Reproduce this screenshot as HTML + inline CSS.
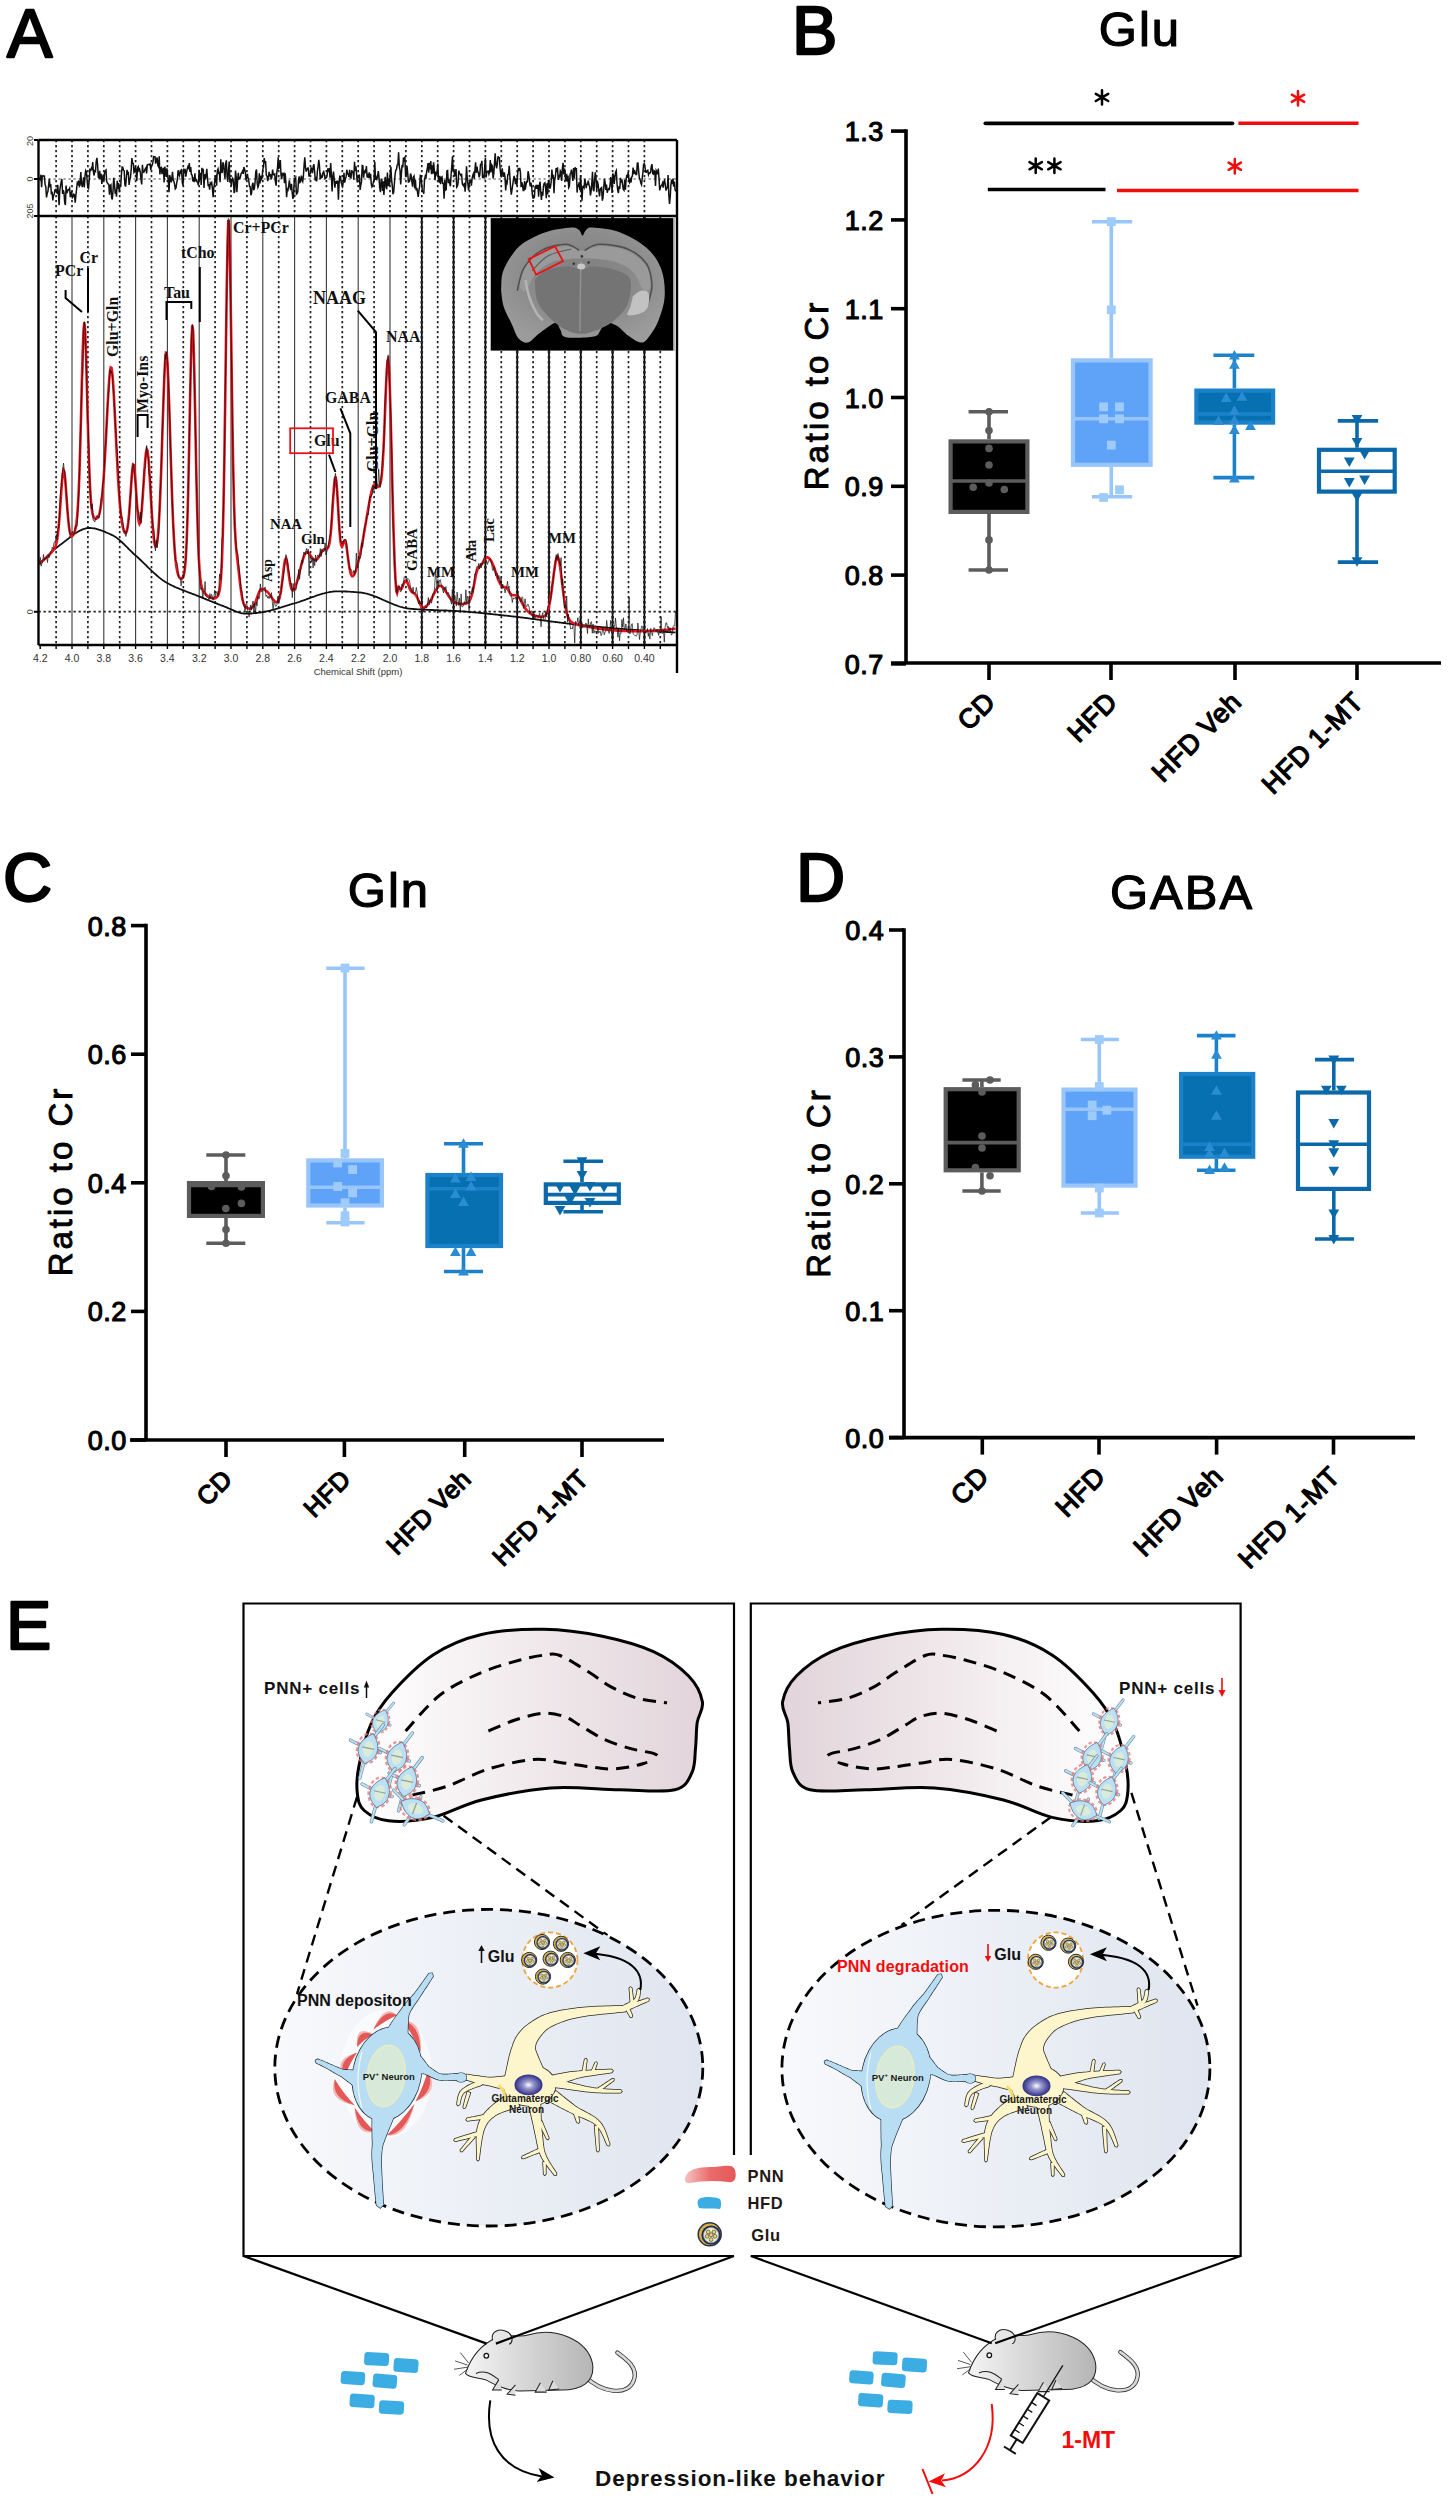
<!DOCTYPE html>
<html><head><meta charset="utf-8"><style>
html,body{margin:0;padding:0;background:#fff;}
body{width:1449px;height:2500px;overflow:hidden;}
svg{display:block;}
</style></head><body>
<svg width="1449" height="2500" viewBox="0 0 1449 2500">
<text x="7" y="56.5" font-size="68" style="font-family:'Liberation Sans',sans-serif;font-weight:normal;stroke:#000;stroke-width:2.3;stroke-linejoin:round">A</text>
<text x="792" y="54" font-size="68" style="font-family:'Liberation Sans',sans-serif;font-weight:normal;stroke:#000;stroke-width:2.3;stroke-linejoin:round">B</text>
<text x="3" y="901" font-size="68" style="font-family:'Liberation Sans',sans-serif;font-weight:normal;stroke:#000;stroke-width:2.3;stroke-linejoin:round">C</text>
<text x="796" y="901" font-size="68" style="font-family:'Liberation Sans',sans-serif;font-weight:normal;stroke:#000;stroke-width:2.3;stroke-linejoin:round">D</text>
<text x="6" y="1649" font-size="68" style="font-family:'Liberation Sans',sans-serif;font-weight:normal;stroke:#000;stroke-width:2.3;stroke-linejoin:round">E</text>
<line x1="906" y1="129.3" x2="906" y2="663" stroke="#000" stroke-width="3.6"/>
<line x1="891" y1="663" x2="1441" y2="663" stroke="#000" stroke-width="3.6"/>
<line x1="891" y1="131.1" x2="906" y2="131.1" stroke="#000" stroke-width="3.6"/>
<text x="884.0" y="141.1" text-anchor="end" font-size="27" stroke-width="1.1" letter-spacing="0.6" style="font-family:'Liberation Sans',sans-serif;font-weight:normal;stroke:currentColor;stroke-linejoin:round">1.3</text>
<line x1="891" y1="219.9" x2="906" y2="219.9" stroke="#000" stroke-width="3.6"/>
<text x="884.0" y="229.9" text-anchor="end" font-size="27" stroke-width="1.1" letter-spacing="0.6" style="font-family:'Liberation Sans',sans-serif;font-weight:normal;stroke:currentColor;stroke-linejoin:round">1.2</text>
<line x1="891" y1="308.7" x2="906" y2="308.7" stroke="#000" stroke-width="3.6"/>
<text x="884.0" y="318.7" text-anchor="end" font-size="27" stroke-width="1.1" letter-spacing="0.6" style="font-family:'Liberation Sans',sans-serif;font-weight:normal;stroke:currentColor;stroke-linejoin:round">1.1</text>
<line x1="891" y1="397.5" x2="906" y2="397.5" stroke="#000" stroke-width="3.6"/>
<text x="884.0" y="407.5" text-anchor="end" font-size="27" stroke-width="1.1" letter-spacing="0.6" style="font-family:'Liberation Sans',sans-serif;font-weight:normal;stroke:currentColor;stroke-linejoin:round">1.0</text>
<line x1="891" y1="486.3" x2="906" y2="486.3" stroke="#000" stroke-width="3.6"/>
<text x="884.0" y="496.3" text-anchor="end" font-size="27" stroke-width="1.1" letter-spacing="0.6" style="font-family:'Liberation Sans',sans-serif;font-weight:normal;stroke:currentColor;stroke-linejoin:round">0.9</text>
<line x1="891" y1="575.1" x2="906" y2="575.1" stroke="#000" stroke-width="3.6"/>
<text x="884.0" y="585.1" text-anchor="end" font-size="27" stroke-width="1.1" letter-spacing="0.6" style="font-family:'Liberation Sans',sans-serif;font-weight:normal;stroke:currentColor;stroke-linejoin:round">0.8</text>
<line x1="891" y1="663.9" x2="906" y2="663.9" stroke="#000" stroke-width="3.6"/>
<text x="884.0" y="673.9" text-anchor="end" font-size="27" stroke-width="1.1" letter-spacing="0.6" style="font-family:'Liberation Sans',sans-serif;font-weight:normal;stroke:currentColor;stroke-linejoin:round">0.7</text>
<line x1="989" y1="663" x2="989" y2="680" stroke="#000" stroke-width="3.6"/>
<text x="0" y="0" text-anchor="end" font-size="27" stroke-width="1.3" letter-spacing="0.5" style="font-family:'Liberation Sans',sans-serif;font-weight:normal;stroke:currentColor;stroke-linejoin:round" transform="translate(997.0,703.5) rotate(-45)">CD</text>
<line x1="1111" y1="663" x2="1111" y2="680" stroke="#000" stroke-width="3.6"/>
<text x="0" y="0" text-anchor="end" font-size="27" stroke-width="1.3" letter-spacing="0.5" style="font-family:'Liberation Sans',sans-serif;font-weight:normal;stroke:currentColor;stroke-linejoin:round" transform="translate(1119.0,703.5) rotate(-45)">HFD</text>
<line x1="1235" y1="663" x2="1235" y2="680" stroke="#000" stroke-width="3.6"/>
<text x="0" y="0" text-anchor="end" font-size="27" stroke-width="1.3" letter-spacing="0.5" style="font-family:'Liberation Sans',sans-serif;font-weight:normal;stroke:currentColor;stroke-linejoin:round" transform="translate(1243.0,703.5) rotate(-45)">HFD Veh</text>
<line x1="1357" y1="663" x2="1357" y2="680" stroke="#000" stroke-width="3.6"/>
<text x="0" y="0" text-anchor="end" font-size="27" stroke-width="1.3" letter-spacing="0.5" style="font-family:'Liberation Sans',sans-serif;font-weight:normal;stroke:currentColor;stroke-linejoin:round" transform="translate(1365.0,703.5) rotate(-45)">HFD 1-MT</text>
<text x="0" y="0" text-anchor="middle" font-size="33" stroke-width="0.9" style="font-family:'Liberation Sans',sans-serif;font-weight:normal;stroke:currentColor;stroke-linejoin:round;letter-spacing:3px" transform="translate(828.0,395.0) rotate(-90)">Ratio to Cr</text>
<line x1="989" y1="411.7" x2="989" y2="439.3" stroke="#5c5c5c" stroke-width="3.6"/>
<line x1="989" y1="514" x2="989" y2="570" stroke="#5c5c5c" stroke-width="3.6"/>
<line x1="968.6" y1="411.7" x2="1008" y2="411.7" stroke="#5c5c5c" stroke-width="3.6"/>
<line x1="968.6" y1="570" x2="1008" y2="570" stroke="#5c5c5c" stroke-width="3.6"/>
<rect x="950.6" y="441.4" width="76.8" height="70.5" fill="#000000" stroke="#5c5c5c" stroke-width="4.2"/>
<line x1="950.6" y1="481" x2="1027.4" y2="481" stroke="#5c5c5c" stroke-width="3.6"/>
<circle cx="989.0" cy="411.7" r="3.8" fill="#5c5c5c"/>
<circle cx="989.0" cy="430.6" r="3.8" fill="#5c5c5c"/>
<circle cx="989.0" cy="448.4" r="3.8" fill="#5c5c5c"/>
<circle cx="989.0" cy="465.0" r="3.8" fill="#5c5c5c"/>
<circle cx="989.0" cy="483.0" r="3.8" fill="#5c5c5c"/>
<circle cx="973.2" cy="487.2" r="3.8" fill="#5c5c5c"/>
<circle cx="1004.3" cy="489.5" r="3.8" fill="#5c5c5c"/>
<circle cx="989.0" cy="539.9" r="3.8" fill="#5c5c5c"/>
<circle cx="989.0" cy="570.0" r="3.8" fill="#5c5c5c"/>
<line x1="1111.3" y1="221.7" x2="1111.3" y2="358.3" stroke="#98c5fa" stroke-width="3.6"/>
<line x1="1111.3" y1="466.9" x2="1111.3" y2="496.7" stroke="#98c5fa" stroke-width="3.6"/>
<line x1="1092" y1="221.7" x2="1132.2" y2="221.7" stroke="#98c5fa" stroke-width="3.6"/>
<line x1="1092" y1="496.7" x2="1132.2" y2="496.7" stroke="#98c5fa" stroke-width="3.6"/>
<rect x="1073.0" y="360.4" width="77.6" height="104.4" fill="#5ea3f8" stroke="#98c5fa" stroke-width="4.2"/>
<line x1="1073.0" y1="418.8" x2="1150.6" y2="418.8" stroke="#98c5fa" stroke-width="3.6"/>
<rect x="1106.9" y="217.3" width="8.8" height="8.8" fill="#9fcbfb"/>
<rect x="1106.9" y="305.4" width="8.8" height="8.8" fill="#9fcbfb"/>
<rect x="1099.2" y="402.4" width="8.8" height="8.8" fill="#9fcbfb"/>
<rect x="1115.1" y="402.4" width="8.8" height="8.8" fill="#9fcbfb"/>
<rect x="1099.2" y="414.4" width="8.8" height="8.8" fill="#9fcbfb"/>
<rect x="1115.1" y="414.4" width="8.8" height="8.8" fill="#9fcbfb"/>
<rect x="1106.9" y="440.7" width="8.8" height="8.8" fill="#9fcbfb"/>
<rect x="1115.1" y="485.4" width="8.8" height="8.8" fill="#9fcbfb"/>
<rect x="1099.2" y="493.1" width="8.8" height="8.8" fill="#9fcbfb"/>
<line x1="1234.4" y1="355.3" x2="1234.4" y2="388.5" stroke="#1b82c9" stroke-width="3.6"/>
<line x1="1234.4" y1="424.7" x2="1234.4" y2="477.6" stroke="#1b82c9" stroke-width="3.6"/>
<line x1="1213.4" y1="355.3" x2="1254.3" y2="355.3" stroke="#1b82c9" stroke-width="3.6"/>
<line x1="1213.4" y1="477.6" x2="1254.3" y2="477.6" stroke="#1b82c9" stroke-width="3.6"/>
<rect x="1196.4" y="390.6" width="76.7" height="32.0" fill="#0770b1" stroke="#1b82c9" stroke-width="4.2"/>
<line x1="1196.4" y1="414" x2="1273.1" y2="414" stroke="#1b82c9" stroke-width="3.6"/>
<path d="M1234.4,349.9 L1239.8,359.4 L1229.0,359.4Z" fill="#2b8cd3"/>
<path d="M1234.4,359.3 L1239.8,368.8 L1229.0,368.8Z" fill="#2b8cd3"/>
<path d="M1226.2,392.5 L1231.6,401.9 L1220.8,401.9Z" fill="#2b8cd3"/>
<path d="M1242.0,391.2 L1247.4,400.7 L1236.6,400.7Z" fill="#2b8cd3"/>
<path d="M1234.4,405.3 L1239.8,414.8 L1229.0,414.8Z" fill="#2b8cd3"/>
<path d="M1218.5,415.5 L1223.9,424.9 L1213.1,424.9Z" fill="#2b8cd3"/>
<path d="M1234.4,414.7 L1239.8,424.2 L1229.0,424.2Z" fill="#2b8cd3"/>
<path d="M1250.5,420.6 L1255.9,430.1 L1245.1,430.1Z" fill="#2b8cd3"/>
<path d="M1234.4,424.4 L1239.8,433.9 L1229.0,433.9Z" fill="#2b8cd3"/>
<path d="M1234.4,472.9 L1239.8,482.4 L1229.0,482.4Z" fill="#2b8cd3"/>
<line x1="1357" y1="420.9" x2="1357" y2="447.7" stroke="#0b69aa" stroke-width="3.6"/>
<line x1="1357" y1="493.7" x2="1357" y2="562.1" stroke="#0b69aa" stroke-width="3.6"/>
<line x1="1337.8" y1="420.9" x2="1378.1" y2="420.9" stroke="#0b69aa" stroke-width="3.6"/>
<line x1="1337.8" y1="562.1" x2="1378.1" y2="562.1" stroke="#0b69aa" stroke-width="3.6"/>
<rect x="1319.0" y="449.8" width="75.7" height="41.8" fill="#ffffff" stroke="#0b69aa" stroke-width="4.2"/>
<line x1="1319.0" y1="471.2" x2="1394.7" y2="471.2" stroke="#0b69aa" stroke-width="3.6"/>
<path d="M1357.0,424.4 L1362.4,414.9 L1351.6,414.9Z" fill="#0b69aa"/>
<path d="M1357.0,447.4 L1362.4,437.9 L1351.6,437.9Z" fill="#0b69aa"/>
<path d="M1364.6,459.4 L1370.0,449.9 L1359.2,449.9Z" fill="#0b69aa"/>
<path d="M1349.3,467.1 L1354.7,457.6 L1343.9,457.6Z" fill="#0b69aa"/>
<path d="M1364.6,485.0 L1370.0,475.6 L1359.2,475.6Z" fill="#0b69aa"/>
<path d="M1349.3,487.6 L1354.7,478.1 L1343.9,478.1Z" fill="#0b69aa"/>
<path d="M1357.0,502.1 L1362.4,492.6 L1351.6,492.6Z" fill="#0b69aa"/>
<path d="M1357.0,566.7 L1362.4,557.2 L1351.6,557.2Z" fill="#0b69aa"/>
<line x1="985.4" y1="123.3" x2="1232.4" y2="123.3" stroke="#000" stroke-width="3.8" stroke-linecap="round"/>
<line x1="1238.4" y1="123.3" x2="1358.5" y2="123.3" stroke="#f20c0c" stroke-width="3.6"/>
<line x1="987.8" y1="189.5" x2="1105.5" y2="189.5" stroke="#000" stroke-width="3.6"/>
<line x1="1117" y1="190.5" x2="1358.5" y2="190.5" stroke="#f20c0c" stroke-width="3.6"/>
<path d="M1102.0,90.2L1102.0,104.6M1108.2,93.8L1095.8,101.0M1095.8,93.8L1108.2,101.0" stroke="#000" stroke-width="2.5" stroke-linecap="round"/>
<path d="M1298.0,91.1L1298.0,105.5M1304.2,94.7L1291.8,101.9M1291.8,94.7L1304.2,101.9" stroke="#f20c0c" stroke-width="2.5" stroke-linecap="round"/>
<path d="M1035.7,158.5L1035.7,172.9M1041.9,162.1L1029.5,169.3M1029.5,162.1L1041.9,169.3" stroke="#000" stroke-width="2.5" stroke-linecap="round"/>
<path d="M1054.4,158.5L1054.4,172.9M1060.6,162.1L1048.2,169.3M1048.2,162.1L1060.6,169.3" stroke="#000" stroke-width="2.5" stroke-linecap="round"/>
<path d="M1234.8,159.0L1234.8,173.4M1241.0,162.6L1228.6,169.8M1228.6,162.6L1241.0,169.8" stroke="#f20c0c" stroke-width="2.5" stroke-linecap="round"/>
<text x="1140" y="46" text-anchor="middle" font-size="49" stroke-width="1.2" letter-spacing="2" style="font-family:'Liberation Sans',sans-serif;font-weight:normal;stroke:currentColor;stroke-linejoin:round">Glu</text>
<line x1="146" y1="923.8" x2="146" y2="1440" stroke="#000" stroke-width="3.6"/>
<line x1="130" y1="1440" x2="664" y2="1440" stroke="#000" stroke-width="3.6"/>
<line x1="131" y1="925.6" x2="146" y2="925.6" stroke="#000" stroke-width="3.6"/>
<text x="127.0" y="935.6" text-anchor="end" font-size="27" stroke-width="1.1" letter-spacing="0.6" style="font-family:'Liberation Sans',sans-serif;font-weight:normal;stroke:currentColor;stroke-linejoin:round">0.8</text>
<line x1="131" y1="1054.2" x2="146" y2="1054.2" stroke="#000" stroke-width="3.6"/>
<text x="127.0" y="1064.2" text-anchor="end" font-size="27" stroke-width="1.1" letter-spacing="0.6" style="font-family:'Liberation Sans',sans-serif;font-weight:normal;stroke:currentColor;stroke-linejoin:round">0.6</text>
<line x1="131" y1="1182.8" x2="146" y2="1182.8" stroke="#000" stroke-width="3.6"/>
<text x="127.0" y="1192.8" text-anchor="end" font-size="27" stroke-width="1.1" letter-spacing="0.6" style="font-family:'Liberation Sans',sans-serif;font-weight:normal;stroke:currentColor;stroke-linejoin:round">0.4</text>
<line x1="131" y1="1311.4" x2="146" y2="1311.4" stroke="#000" stroke-width="3.6"/>
<text x="127.0" y="1321.4" text-anchor="end" font-size="27" stroke-width="1.1" letter-spacing="0.6" style="font-family:'Liberation Sans',sans-serif;font-weight:normal;stroke:currentColor;stroke-linejoin:round">0.2</text>
<line x1="131" y1="1440.0" x2="146" y2="1440.0" stroke="#000" stroke-width="3.6"/>
<text x="127.0" y="1450.0" text-anchor="end" font-size="27" stroke-width="1.1" letter-spacing="0.6" style="font-family:'Liberation Sans',sans-serif;font-weight:normal;stroke:currentColor;stroke-linejoin:round">0.0</text>
<line x1="226" y1="1440" x2="226" y2="1457" stroke="#000" stroke-width="3.6"/>
<text x="0" y="0" text-anchor="end" font-size="25.5" stroke-width="1.3" letter-spacing="0.5" style="font-family:'Liberation Sans',sans-serif;font-weight:normal;stroke:currentColor;stroke-linejoin:round" transform="translate(234.0,1480.5) rotate(-45)">CD</text>
<line x1="344.4" y1="1440" x2="344.4" y2="1457" stroke="#000" stroke-width="3.6"/>
<text x="0" y="0" text-anchor="end" font-size="25.5" stroke-width="1.3" letter-spacing="0.5" style="font-family:'Liberation Sans',sans-serif;font-weight:normal;stroke:currentColor;stroke-linejoin:round" transform="translate(352.4,1480.5) rotate(-45)">HFD</text>
<line x1="464.7" y1="1440" x2="464.7" y2="1457" stroke="#000" stroke-width="3.6"/>
<text x="0" y="0" text-anchor="end" font-size="25.5" stroke-width="1.3" letter-spacing="0.5" style="font-family:'Liberation Sans',sans-serif;font-weight:normal;stroke:currentColor;stroke-linejoin:round" transform="translate(472.7,1480.5) rotate(-45)">HFD Veh</text>
<line x1="582" y1="1440" x2="582" y2="1457" stroke="#000" stroke-width="3.6"/>
<text x="0" y="0" text-anchor="end" font-size="25.5" stroke-width="1.3" letter-spacing="0.5" style="font-family:'Liberation Sans',sans-serif;font-weight:normal;stroke:currentColor;stroke-linejoin:round" transform="translate(590.0,1480.5) rotate(-45)">HFD 1-MT</text>
<text x="0" y="0" text-anchor="middle" font-size="33" stroke-width="0.9" style="font-family:'Liberation Sans',sans-serif;font-weight:normal;stroke:currentColor;stroke-linejoin:round;letter-spacing:3px" transform="translate(72.0,1181.0) rotate(-90)">Ratio to Cr</text>
<line x1="226" y1="1155" x2="226" y2="1181" stroke="#5c5c5c" stroke-width="3.6"/>
<line x1="226" y1="1218" x2="226" y2="1243.3" stroke="#5c5c5c" stroke-width="3.6"/>
<line x1="206.3" y1="1155" x2="245.3" y2="1155" stroke="#5c5c5c" stroke-width="3.6"/>
<line x1="206.3" y1="1243.3" x2="245.3" y2="1243.3" stroke="#5c5c5c" stroke-width="3.6"/>
<rect x="189.0" y="1183.1" width="73.9" height="32.8" fill="#000000" stroke="#5c5c5c" stroke-width="4.2"/>
<line x1="189.0" y1="1185.5" x2="262.9" y2="1185.5" stroke="#5c5c5c" stroke-width="3.6"/>
<circle cx="226.0" cy="1155.0" r="3.8" fill="#5c5c5c"/>
<circle cx="226.0" cy="1175.8" r="3.8" fill="#5c5c5c"/>
<circle cx="211.5" cy="1186.5" r="3.8" fill="#5c5c5c"/>
<circle cx="241.4" cy="1187.0" r="3.8" fill="#5c5c5c"/>
<circle cx="225.8" cy="1208.6" r="3.8" fill="#5c5c5c"/>
<circle cx="241.4" cy="1203.4" r="3.8" fill="#5c5c5c"/>
<circle cx="226.0" cy="1229.6" r="3.8" fill="#5c5c5c"/>
<circle cx="226.0" cy="1243.3" r="3.8" fill="#5c5c5c"/>
<line x1="345" y1="968.2" x2="345" y2="1158.3" stroke="#98c5fa" stroke-width="3.6"/>
<line x1="345" y1="1207.6" x2="345" y2="1222.8" stroke="#98c5fa" stroke-width="3.6"/>
<line x1="326.3" y1="968.2" x2="364.6" y2="968.2" stroke="#98c5fa" stroke-width="3.6"/>
<line x1="326.3" y1="1222.8" x2="364.6" y2="1222.8" stroke="#98c5fa" stroke-width="3.6"/>
<rect x="308.3" y="1160.4" width="73.6" height="45.1" fill="#5ea3f8" stroke="#98c5fa" stroke-width="4.2"/>
<line x1="308.3" y1="1187.2" x2="381.9" y2="1187.2" stroke="#98c5fa" stroke-width="3.6"/>
<rect x="340.6" y="963.6" width="8.8" height="8.8" fill="#9fcbfb"/>
<rect x="340.6" y="1149.0" width="8.8" height="8.8" fill="#9fcbfb"/>
<rect x="333.3" y="1158.6" width="8.8" height="8.8" fill="#9fcbfb"/>
<rect x="348.2" y="1165.2" width="8.8" height="8.8" fill="#9fcbfb"/>
<rect x="333.3" y="1182.1" width="8.8" height="8.8" fill="#9fcbfb"/>
<rect x="348.2" y="1188.6" width="8.8" height="8.8" fill="#9fcbfb"/>
<rect x="340.6" y="1198.3" width="8.8" height="8.8" fill="#9fcbfb"/>
<rect x="340.6" y="1211.3" width="8.8" height="8.8" fill="#9fcbfb"/>
<rect x="340.6" y="1217.6" width="8.8" height="8.8" fill="#9fcbfb"/>
<line x1="463.5" y1="1143.7" x2="463.5" y2="1172.9" stroke="#1b82c9" stroke-width="3.6"/>
<line x1="463.5" y1="1248.1" x2="463.5" y2="1271.5" stroke="#1b82c9" stroke-width="3.6"/>
<line x1="444" y1="1143.7" x2="483" y2="1143.7" stroke="#1b82c9" stroke-width="3.6"/>
<line x1="444" y1="1271.5" x2="483" y2="1271.5" stroke="#1b82c9" stroke-width="3.6"/>
<rect x="427.4" y="1175.0" width="73.6" height="71.0" fill="#0770b1" stroke="#1b82c9" stroke-width="4.2"/>
<line x1="427.4" y1="1188.8" x2="501.0" y2="1188.8" stroke="#1b82c9" stroke-width="3.6"/>
<path d="M463.5,1138.3 L468.9,1147.8 L458.1,1147.8Z" fill="#2b8cd3"/>
<path d="M455.4,1173.0 L460.8,1182.5 L450.0,1182.5Z" fill="#2b8cd3"/>
<path d="M471.0,1171.6 L476.4,1181.0 L465.6,1181.0Z" fill="#2b8cd3"/>
<path d="M471.0,1181.1 L476.4,1190.5 L465.6,1190.5Z" fill="#2b8cd3"/>
<path d="M455.4,1188.6 L460.8,1198.0 L450.0,1198.0Z" fill="#2b8cd3"/>
<path d="M463.5,1196.6 L468.9,1206.0 L458.1,1206.0Z" fill="#2b8cd3"/>
<path d="M455.4,1246.6 L460.8,1256.0 L450.0,1256.0Z" fill="#2b8cd3"/>
<path d="M471.0,1246.6 L476.4,1256.0 L465.6,1256.0Z" fill="#2b8cd3"/>
<path d="M463.5,1266.1 L468.9,1275.5 L458.1,1275.5Z" fill="#2b8cd3"/>
<line x1="582" y1="1161.2" x2="582" y2="1182.3" stroke="#0b69aa" stroke-width="3.6"/>
<line x1="582" y1="1205" x2="582" y2="1211.8" stroke="#0b69aa" stroke-width="3.6"/>
<line x1="563.4" y1="1161.2" x2="603" y2="1161.2" stroke="#0b69aa" stroke-width="3.6"/>
<line x1="563.4" y1="1211.8" x2="603" y2="1211.8" stroke="#0b69aa" stroke-width="3.6"/>
<rect x="545.8" y="1184.4" width="73.0" height="18.5" fill="#ffffff" stroke="#0b69aa" stroke-width="4.2"/>
<line x1="545.8" y1="1194.6" x2="618.8" y2="1194.6" stroke="#0b69aa" stroke-width="3.6"/>
<path d="M582.0,1166.6 L587.4,1157.2 L576.6,1157.2Z" fill="#0b69aa"/>
<path d="M582.0,1180.4 L587.4,1171.0 L576.6,1171.0Z" fill="#0b69aa"/>
<path d="M560.0,1192.4 L565.4,1183.0 L554.6,1183.0Z" fill="#0b69aa"/>
<path d="M575.0,1195.4 L580.4,1186.0 L569.6,1186.0Z" fill="#0b69aa"/>
<path d="M590.0,1191.4 L595.4,1182.0 L584.6,1182.0Z" fill="#0b69aa"/>
<path d="M604.0,1192.4 L609.4,1183.0 L598.6,1183.0Z" fill="#0b69aa"/>
<path d="M570.0,1205.4 L575.4,1196.0 L564.6,1196.0Z" fill="#0b69aa"/>
<path d="M590.0,1207.4 L595.4,1198.0 L584.6,1198.0Z" fill="#0b69aa"/>
<path d="M560.0,1215.4 L565.4,1206.0 L554.6,1206.0Z" fill="#0b69aa"/>
<text x="389" y="906.5" text-anchor="middle" font-size="49" stroke-width="1.2" letter-spacing="2" style="font-family:'Liberation Sans',sans-serif;font-weight:normal;stroke:currentColor;stroke-linejoin:round">Gln</text>
<line x1="904" y1="928.2" x2="904" y2="1437.6" stroke="#000" stroke-width="3.6"/>
<line x1="889" y1="1437.6" x2="1415" y2="1437.6" stroke="#000" stroke-width="3.6"/>
<line x1="889" y1="930.0" x2="904" y2="930.0" stroke="#000" stroke-width="3.6"/>
<text x="884.5" y="940.0" text-anchor="end" font-size="27" stroke-width="1.1" letter-spacing="0.6" style="font-family:'Liberation Sans',sans-serif;font-weight:normal;stroke:currentColor;stroke-linejoin:round">0.4</text>
<line x1="889" y1="1056.9" x2="904" y2="1056.9" stroke="#000" stroke-width="3.6"/>
<text x="884.5" y="1066.9" text-anchor="end" font-size="27" stroke-width="1.1" letter-spacing="0.6" style="font-family:'Liberation Sans',sans-serif;font-weight:normal;stroke:currentColor;stroke-linejoin:round">0.3</text>
<line x1="889" y1="1183.8" x2="904" y2="1183.8" stroke="#000" stroke-width="3.6"/>
<text x="884.5" y="1193.8" text-anchor="end" font-size="27" stroke-width="1.1" letter-spacing="0.6" style="font-family:'Liberation Sans',sans-serif;font-weight:normal;stroke:currentColor;stroke-linejoin:round">0.2</text>
<line x1="889" y1="1310.7" x2="904" y2="1310.7" stroke="#000" stroke-width="3.6"/>
<text x="884.5" y="1320.7" text-anchor="end" font-size="27" stroke-width="1.1" letter-spacing="0.6" style="font-family:'Liberation Sans',sans-serif;font-weight:normal;stroke:currentColor;stroke-linejoin:round">0.1</text>
<line x1="889" y1="1437.6" x2="904" y2="1437.6" stroke="#000" stroke-width="3.6"/>
<text x="884.5" y="1447.6" text-anchor="end" font-size="27" stroke-width="1.1" letter-spacing="0.6" style="font-family:'Liberation Sans',sans-serif;font-weight:normal;stroke:currentColor;stroke-linejoin:round">0.0</text>
<line x1="982.3" y1="1437.6" x2="982.3" y2="1454.6" stroke="#000" stroke-width="3.6"/>
<text x="0" y="0" text-anchor="end" font-size="27" stroke-width="1.3" letter-spacing="0.5" style="font-family:'Liberation Sans',sans-serif;font-weight:normal;stroke:currentColor;stroke-linejoin:round" transform="translate(990.3,1478.1) rotate(-45)">CD</text>
<line x1="1099" y1="1437.6" x2="1099" y2="1454.6" stroke="#000" stroke-width="3.6"/>
<text x="0" y="0" text-anchor="end" font-size="27" stroke-width="1.3" letter-spacing="0.5" style="font-family:'Liberation Sans',sans-serif;font-weight:normal;stroke:currentColor;stroke-linejoin:round" transform="translate(1107.0,1478.1) rotate(-45)">HFD</text>
<line x1="1216.6" y1="1437.6" x2="1216.6" y2="1454.6" stroke="#000" stroke-width="3.6"/>
<text x="0" y="0" text-anchor="end" font-size="27" stroke-width="1.3" letter-spacing="0.5" style="font-family:'Liberation Sans',sans-serif;font-weight:normal;stroke:currentColor;stroke-linejoin:round" transform="translate(1224.6,1478.1) rotate(-45)">HFD Veh</text>
<line x1="1333.5" y1="1437.6" x2="1333.5" y2="1454.6" stroke="#000" stroke-width="3.6"/>
<text x="0" y="0" text-anchor="end" font-size="27" stroke-width="1.3" letter-spacing="0.5" style="font-family:'Liberation Sans',sans-serif;font-weight:normal;stroke:currentColor;stroke-linejoin:round" transform="translate(1341.5,1478.1) rotate(-45)">HFD 1-MT</text>
<text x="0" y="0" text-anchor="middle" font-size="33" stroke-width="0.9" style="font-family:'Liberation Sans',sans-serif;font-weight:normal;stroke:currentColor;stroke-linejoin:round;letter-spacing:3px" transform="translate(830.0,1182.5) rotate(-90)">Ratio to Cr</text>
<line x1="981.9" y1="1080" x2="981.9" y2="1087.1" stroke="#5c5c5c" stroke-width="3.6"/>
<line x1="981.9" y1="1172.4" x2="981.9" y2="1191" stroke="#5c5c5c" stroke-width="3.6"/>
<line x1="962.4" y1="1080" x2="1000.7" y2="1080" stroke="#5c5c5c" stroke-width="3.6"/>
<line x1="962.4" y1="1191" x2="1000.7" y2="1191" stroke="#5c5c5c" stroke-width="3.6"/>
<rect x="945.7" y="1089.2" width="73.0" height="81.1" fill="#000000" stroke="#5c5c5c" stroke-width="4.2"/>
<line x1="945.7" y1="1142.6" x2="1018.7" y2="1142.6" stroke="#5c5c5c" stroke-width="3.6"/>
<circle cx="990.0" cy="1080.0" r="3.8" fill="#5c5c5c"/>
<circle cx="975.4" cy="1084.9" r="3.8" fill="#5c5c5c"/>
<circle cx="982.0" cy="1092.0" r="3.8" fill="#5c5c5c"/>
<circle cx="982.0" cy="1136.0" r="3.8" fill="#5c5c5c"/>
<circle cx="982.0" cy="1148.0" r="3.8" fill="#5c5c5c"/>
<circle cx="975.4" cy="1167.6" r="3.8" fill="#5c5c5c"/>
<circle cx="990.0" cy="1175.7" r="3.8" fill="#5c5c5c"/>
<circle cx="982.0" cy="1191.0" r="3.8" fill="#5c5c5c"/>
<line x1="1099.3" y1="1039.5" x2="1099.3" y2="1087.5" stroke="#98c5fa" stroke-width="3.6"/>
<line x1="1099.3" y1="1187.7" x2="1099.3" y2="1213" stroke="#98c5fa" stroke-width="3.6"/>
<line x1="1080.8" y1="1039.5" x2="1118.8" y2="1039.5" stroke="#98c5fa" stroke-width="3.6"/>
<line x1="1080.8" y1="1213" x2="1118.8" y2="1213" stroke="#98c5fa" stroke-width="3.6"/>
<rect x="1063.5" y="1089.6" width="72.0" height="96.0" fill="#5ea3f8" stroke="#98c5fa" stroke-width="4.2"/>
<line x1="1063.5" y1="1109.2" x2="1135.5" y2="1109.2" stroke="#98c5fa" stroke-width="3.6"/>
<rect x="1094.9" y="1035.1" width="8.8" height="8.8" fill="#9fcbfb"/>
<rect x="1094.9" y="1082.1" width="8.8" height="8.8" fill="#9fcbfb"/>
<rect x="1087.8" y="1100.6" width="8.8" height="8.8" fill="#9fcbfb"/>
<rect x="1102.4" y="1105.8" width="8.8" height="8.8" fill="#9fcbfb"/>
<rect x="1087.8" y="1111.3" width="8.8" height="8.8" fill="#9fcbfb"/>
<rect x="1094.9" y="1183.6" width="8.8" height="8.8" fill="#9fcbfb"/>
<rect x="1094.9" y="1208.6" width="8.8" height="8.8" fill="#9fcbfb"/>
<line x1="1216.4" y1="1035.6" x2="1216.4" y2="1071.9" stroke="#1b82c9" stroke-width="3.6"/>
<line x1="1216.4" y1="1158.8" x2="1216.4" y2="1170.2" stroke="#1b82c9" stroke-width="3.6"/>
<line x1="1197" y1="1035.6" x2="1235.5" y2="1035.6" stroke="#1b82c9" stroke-width="3.6"/>
<line x1="1197" y1="1170.2" x2="1235.5" y2="1170.2" stroke="#1b82c9" stroke-width="3.6"/>
<rect x="1181.1" y="1074.0" width="72.1" height="82.7" fill="#0770b1" stroke="#1b82c9" stroke-width="4.2"/>
<line x1="1181.1" y1="1144.2" x2="1253.2" y2="1144.2" stroke="#1b82c9" stroke-width="3.6"/>
<path d="M1216.4,1030.2 L1221.8,1039.6 L1211.0,1039.6Z" fill="#2b8cd3"/>
<path d="M1216.4,1049.3 L1221.8,1058.8 L1211.0,1058.8Z" fill="#2b8cd3"/>
<path d="M1216.4,1085.3 L1221.8,1094.8 L1211.0,1094.8Z" fill="#2b8cd3"/>
<path d="M1216.4,1110.3 L1221.8,1119.8 L1211.0,1119.8Z" fill="#2b8cd3"/>
<path d="M1209.6,1141.6 L1215.0,1151.0 L1204.2,1151.0Z" fill="#2b8cd3"/>
<path d="M1224.5,1147.6 L1229.9,1157.0 L1219.1,1157.0Z" fill="#2b8cd3"/>
<path d="M1209.6,1148.2 L1215.0,1157.6 L1204.2,1157.6Z" fill="#2b8cd3"/>
<path d="M1224.5,1162.2 L1229.9,1171.6 L1219.1,1171.6Z" fill="#2b8cd3"/>
<path d="M1209.6,1164.6 L1215.0,1174.0 L1204.2,1174.0Z" fill="#2b8cd3"/>
<line x1="1333.8" y1="1059.6" x2="1333.8" y2="1090.4" stroke="#0b69aa" stroke-width="3.6"/>
<line x1="1333.8" y1="1191" x2="1333.8" y2="1239" stroke="#0b69aa" stroke-width="3.6"/>
<line x1="1315" y1="1059.6" x2="1354" y2="1059.6" stroke="#0b69aa" stroke-width="3.6"/>
<line x1="1315" y1="1239" x2="1354" y2="1239" stroke="#0b69aa" stroke-width="3.6"/>
<rect x="1298.0" y="1092.5" width="71.0" height="96.4" fill="#ffffff" stroke="#0b69aa" stroke-width="4.2"/>
<line x1="1298.0" y1="1144.2" x2="1369.0" y2="1144.2" stroke="#0b69aa" stroke-width="3.6"/>
<path d="M1333.8,1065.0 L1339.2,1055.5 L1328.4,1055.5Z" fill="#0b69aa"/>
<path d="M1326.4,1095.1 L1331.8,1085.7 L1321.0,1085.7Z" fill="#0b69aa"/>
<path d="M1341.3,1095.1 L1346.7,1085.7 L1335.9,1085.7Z" fill="#0b69aa"/>
<path d="M1333.8,1128.5 L1339.2,1119.0 L1328.4,1119.0Z" fill="#0b69aa"/>
<path d="M1333.8,1149.6 L1339.2,1140.2 L1328.4,1140.2Z" fill="#0b69aa"/>
<path d="M1333.8,1157.7 L1339.2,1148.2 L1328.4,1148.2Z" fill="#0b69aa"/>
<path d="M1333.8,1176.2 L1339.2,1166.8 L1328.4,1166.8Z" fill="#0b69aa"/>
<path d="M1333.8,1219.0 L1339.2,1209.5 L1328.4,1209.5Z" fill="#0b69aa"/>
<path d="M1333.8,1244.4 L1339.2,1235.0 L1328.4,1235.0Z" fill="#0b69aa"/>
<text x="1182" y="908.5" text-anchor="middle" font-size="49" stroke-width="1.2" letter-spacing="2" style="font-family:'Liberation Sans',sans-serif;font-weight:normal;stroke:currentColor;stroke-linejoin:round">GABA</text>
<g stroke="#000">
<line x1="72.0" y1="216.0" x2="72.0" y2="645.0" stroke-width="1.1" stroke="#3a3a3a"/>
<line x1="103.8" y1="216.0" x2="103.8" y2="645.0" stroke-width="1.1" stroke="#3a3a3a"/>
<line x1="135.6" y1="216.0" x2="135.6" y2="645.0" stroke-width="1.1" stroke="#3a3a3a"/>
<line x1="167.4" y1="216.0" x2="167.4" y2="645.0" stroke-width="1.1" stroke="#3a3a3a"/>
<line x1="199.2" y1="216.0" x2="199.2" y2="645.0" stroke-width="1.1" stroke="#3a3a3a"/>
<line x1="231.0" y1="216.0" x2="231.0" y2="645.0" stroke-width="1.1" stroke="#3a3a3a"/>
<line x1="262.8" y1="216.0" x2="262.8" y2="645.0" stroke-width="1.1" stroke="#3a3a3a"/>
<line x1="294.6" y1="216.0" x2="294.6" y2="645.0" stroke-width="1.1" stroke="#3a3a3a"/>
<line x1="326.4" y1="216.0" x2="326.4" y2="645.0" stroke-width="1.1" stroke="#3a3a3a"/>
<line x1="358.2" y1="216.0" x2="358.2" y2="645.0" stroke-width="1.1" stroke="#3a3a3a"/>
<line x1="390.0" y1="216.0" x2="390.0" y2="645.0" stroke-width="1.1" stroke="#3a3a3a"/>
<line x1="421.8" y1="216.0" x2="421.8" y2="645.0" stroke-width="1.7" stroke="#000"/>
<line x1="421.8" y1="216.0" x2="421.8" y2="645.0" stroke-width="2.6" stroke-dasharray="2.5,2.5" stroke="#222"/>
<line x1="453.6" y1="216.0" x2="453.6" y2="645.0" stroke-width="1.7" stroke="#000"/>
<line x1="453.6" y1="216.0" x2="453.6" y2="645.0" stroke-width="2.6" stroke-dasharray="2.5,2.5" stroke="#222"/>
<line x1="485.4" y1="216.0" x2="485.4" y2="645.0" stroke-width="1.7" stroke="#000"/>
<line x1="485.4" y1="216.0" x2="485.4" y2="645.0" stroke-width="2.6" stroke-dasharray="2.5,2.5" stroke="#222"/>
<line x1="517.2" y1="216.0" x2="517.2" y2="645.0" stroke-width="1.7" stroke="#000"/>
<line x1="517.2" y1="216.0" x2="517.2" y2="645.0" stroke-width="2.6" stroke-dasharray="2.5,2.5" stroke="#222"/>
<line x1="549.0" y1="216.0" x2="549.0" y2="645.0" stroke-width="1.7" stroke="#000"/>
<line x1="549.0" y1="216.0" x2="549.0" y2="645.0" stroke-width="2.6" stroke-dasharray="2.5,2.5" stroke="#222"/>
<line x1="580.8" y1="216.0" x2="580.8" y2="645.0" stroke-width="1.7" stroke="#000"/>
<line x1="580.8" y1="216.0" x2="580.8" y2="645.0" stroke-width="2.6" stroke-dasharray="2.5,2.5" stroke="#222"/>
<line x1="612.6" y1="216.0" x2="612.6" y2="645.0" stroke-width="1.7" stroke="#000"/>
<line x1="612.6" y1="216.0" x2="612.6" y2="645.0" stroke-width="2.6" stroke-dasharray="2.5,2.5" stroke="#222"/>
<line x1="644.4" y1="216.0" x2="644.4" y2="645.0" stroke-width="1.7" stroke="#000"/>
<line x1="644.4" y1="216.0" x2="644.4" y2="645.0" stroke-width="2.6" stroke-dasharray="2.5,2.5" stroke="#222"/>
</g>
<g stroke="#222" stroke-width="1.7" stroke-dasharray="2.3,2.7">
<line x1="56.1" y1="216.0" x2="56.1" y2="645.0"/>
<line x1="87.9" y1="216.0" x2="87.9" y2="645.0"/>
<line x1="119.7" y1="216.0" x2="119.7" y2="645.0"/>
<line x1="151.5" y1="216.0" x2="151.5" y2="645.0"/>
<line x1="183.3" y1="216.0" x2="183.3" y2="645.0"/>
<line x1="215.1" y1="216.0" x2="215.1" y2="645.0"/>
<line x1="246.9" y1="216.0" x2="246.9" y2="645.0"/>
<line x1="278.7" y1="216.0" x2="278.7" y2="645.0"/>
<line x1="310.5" y1="216.0" x2="310.5" y2="645.0"/>
<line x1="342.3" y1="216.0" x2="342.3" y2="645.0"/>
<line x1="374.1" y1="216.0" x2="374.1" y2="645.0"/>
<line x1="405.9" y1="216.0" x2="405.9" y2="645.0"/>
<line x1="437.7" y1="216.0" x2="437.7" y2="645.0"/>
<line x1="469.5" y1="216.0" x2="469.5" y2="645.0"/>
<line x1="501.3" y1="216.0" x2="501.3" y2="645.0"/>
<line x1="533.1" y1="216.0" x2="533.1" y2="645.0"/>
<line x1="564.9" y1="216.0" x2="564.9" y2="645.0"/>
<line x1="596.7" y1="216.0" x2="596.7" y2="645.0"/>
<line x1="628.5" y1="216.0" x2="628.5" y2="645.0"/>
<line x1="660.3" y1="216.0" x2="660.3" y2="645.0"/>
<line x1="72.0" y1="140.0" x2="72.0" y2="216.0"/>
<line x1="56.1" y1="140.0" x2="56.1" y2="216.0"/>
<line x1="103.8" y1="140.0" x2="103.8" y2="216.0"/>
<line x1="87.9" y1="140.0" x2="87.9" y2="216.0"/>
<line x1="135.6" y1="140.0" x2="135.6" y2="216.0"/>
<line x1="119.7" y1="140.0" x2="119.7" y2="216.0"/>
<line x1="167.4" y1="140.0" x2="167.4" y2="216.0"/>
<line x1="151.5" y1="140.0" x2="151.5" y2="216.0"/>
<line x1="199.2" y1="140.0" x2="199.2" y2="216.0"/>
<line x1="183.3" y1="140.0" x2="183.3" y2="216.0"/>
<line x1="231.0" y1="140.0" x2="231.0" y2="216.0"/>
<line x1="215.1" y1="140.0" x2="215.1" y2="216.0"/>
<line x1="262.8" y1="140.0" x2="262.8" y2="216.0"/>
<line x1="246.9" y1="140.0" x2="246.9" y2="216.0"/>
<line x1="294.6" y1="140.0" x2="294.6" y2="216.0"/>
<line x1="278.7" y1="140.0" x2="278.7" y2="216.0"/>
<line x1="326.4" y1="140.0" x2="326.4" y2="216.0"/>
<line x1="310.5" y1="140.0" x2="310.5" y2="216.0"/>
<line x1="358.2" y1="140.0" x2="358.2" y2="216.0"/>
<line x1="342.3" y1="140.0" x2="342.3" y2="216.0"/>
<line x1="390.0" y1="140.0" x2="390.0" y2="216.0"/>
<line x1="374.1" y1="140.0" x2="374.1" y2="216.0"/>
<line x1="421.8" y1="140.0" x2="421.8" y2="216.0"/>
<line x1="405.9" y1="140.0" x2="405.9" y2="216.0"/>
<line x1="453.6" y1="140.0" x2="453.6" y2="216.0"/>
<line x1="437.7" y1="140.0" x2="437.7" y2="216.0"/>
<line x1="485.4" y1="140.0" x2="485.4" y2="216.0"/>
<line x1="469.5" y1="140.0" x2="469.5" y2="216.0"/>
<line x1="517.2" y1="140.0" x2="517.2" y2="216.0"/>
<line x1="501.3" y1="140.0" x2="501.3" y2="216.0"/>
<line x1="549.0" y1="140.0" x2="549.0" y2="216.0"/>
<line x1="533.1" y1="140.0" x2="533.1" y2="216.0"/>
<line x1="580.8" y1="140.0" x2="580.8" y2="216.0"/>
<line x1="564.9" y1="140.0" x2="564.9" y2="216.0"/>
<line x1="612.6" y1="140.0" x2="612.6" y2="216.0"/>
<line x1="596.7" y1="140.0" x2="596.7" y2="216.0"/>
<line x1="644.4" y1="140.0" x2="644.4" y2="216.0"/>
<line x1="628.5" y1="140.0" x2="628.5" y2="216.0"/>
<line x1="38.5" y1="611.7" x2="677.0" y2="611.7"/>
<line x1="38.5" y1="179" x2="677.0" y2="179" stroke="#888"/>
</g>
<rect x="490.7" y="218.1" width="182.7" height="132.5" fill="#000"/>
<line x1="674.5" y1="218" x2="674.5" y2="351" stroke="#bbb" stroke-width="1"/>
<defs><radialGradient id="brg" cx="0.5" cy="0.42" r="0.62"><stop offset="0" stop-color="#7e7e7e"/><stop offset="0.6" stop-color="#8c8c8c"/><stop offset="1" stop-color="#9c9c9c"/></radialGradient></defs>
<path d="M501.1,290.7 C501.4,287.8 500.9,278.9 502.5,273.2 C504.1,267.6 507.2,262.0 510.6,257.1 C513.9,252.2 516.8,247.8 522.7,243.6 C528.5,239.5 537.5,234.9 545.6,232.2 C553.6,229.5 565.5,227.8 571.1,227.5 C576.7,227.2 577.3,228.8 579.2,230.2 C581.1,231.5 581.4,235.6 582.6,235.6 C583.7,235.6 584.2,231.5 585.9,230.2 C587.6,228.8 587.0,227.2 592.7,227.5 C598.3,227.8 610.6,228.8 619.6,232.2 C628.5,235.6 639.5,241.5 646.5,247.7 C653.4,253.8 658.3,261.1 661.3,269.2 C664.3,277.3 665.1,287.6 664.7,296.1 C664.2,304.6 661.2,313.6 658.6,320.3 C656.0,327.1 652.1,332.8 649.2,336.5 C646.3,340.2 644.7,342.8 641.1,342.6 C637.5,342.3 631.7,338.0 627.6,335.2 C623.6,332.3 620.7,327.9 616.9,325.7 C613.1,323.6 607.5,321.7 604.8,322.4 C602.1,323.0 602.5,327.4 600.7,329.8 C598.9,332.1 599.8,335.3 594.0,336.5 C588.2,337.7 571.3,338.3 565.7,337.2 C560.1,336.0 562.2,332.1 560.4,329.8 C558.6,327.4 558.6,322.4 555.0,323.0 C551.4,323.7 543.3,330.6 538.8,333.8 C534.3,337.1 531.4,341.8 528.1,342.6 C524.7,343.3 521.3,341.5 518.6,338.5 C516.0,335.5 514.4,329.7 511.9,324.4 C509.4,319.1 505.6,312.5 503.8,306.9 C502.0,301.3 501.6,293.4 501.1,290.7Z" fill="url(#brg)"/>
<path d="M518.6,285.4 C519.8,282.2 521.6,272.1 525.4,266.5 C529.2,260.9 534.8,255.1 541.5,251.7 C548.2,248.4 559.0,246.6 565.7,246.3 C572.5,246.1 576.3,250.4 581.9,250.4 C587.5,250.4 592.0,246.3 599.4,246.3 C606.8,246.3 618.4,247.0 626.3,250.4 C634.1,253.7 642.4,260.7 646.5,266.5 C650.5,272.4 651.0,281.3 650.5,285.4 C650.1,289.4 646.7,293.0 643.8,290.7 C640.9,288.5 638.2,276.8 633.0,271.9 C627.9,267.0 621.1,263.4 612.8,261.1 C604.5,258.9 592.9,258.4 583.2,258.4 C573.6,258.4 562.8,258.7 555.0,261.1 C547.1,263.6 541.1,268.3 536.1,273.2 C531.2,278.2 528.3,288.7 525.4,290.7 C522.5,292.8 519.8,286.3 518.6,285.4Z" fill="#9a9a9a"/>
<path d="M534.8,280.0 C536.6,278.4 540.4,272.8 545.6,270.6 C550.7,268.3 559.9,266.7 565.7,266.5 C571.6,266.3 575.6,269.2 580.5,269.2 C585.5,269.2 589.3,266.3 595.3,266.5 C601.4,266.7 611.0,268.3 616.9,270.6 C622.7,272.8 628.5,274.4 630.3,280.0 C632.1,285.6 630.3,297.5 627.6,304.2 C625.0,310.9 618.7,316.3 614.2,320.3 C609.7,324.4 606.1,326.2 600.7,328.4 C595.3,330.7 587.7,333.6 581.9,333.8 C576.1,334.0 571.1,332.5 565.7,329.8 C560.4,327.1 554.3,322.4 549.6,317.7 C544.9,312.9 539.9,307.8 537.5,301.5 C535.0,295.2 535.2,283.6 534.8,280.0Z" fill="#747474"/>
<path d="M517.3,290.7 C518.4,286.9 520.0,274.6 524.0,267.9 C528.1,261.1 534.6,254.3 541.5,250.4 C548.5,246.4 559.5,244.3 565.7,244.3 C572.0,244.3 577.0,249.4 579.2,250.4" fill="none" stroke="#505050" stroke-width="1.6"/>
<path d="M584.6,250.4 C587.0,249.4 592.2,244.5 599.4,244.3 C606.6,244.1 619.8,245.8 627.6,249.0 C635.5,252.3 642.4,257.8 646.5,263.8 C650.5,269.9 651.6,278.6 651.9,285.4 C652.1,292.1 648.5,301.1 647.8,304.2" fill="none" stroke="#505050" stroke-width="1.6"/>
<path d="M532.1,270.6 C534.8,268.1 541.7,259.3 548.2,255.8 C554.8,252.2 567.3,250.1 571.1,249.0" fill="none" stroke="#5c5c5c" stroke-width="1.2"/>
<path d="M633.0,296.1 C634.4,295.2 638.5,291.2 641.1,290.7 C643.7,290.3 647.4,290.7 648.5,293.4 C649.6,296.1 649.3,303.5 647.8,306.9 C646.4,310.3 643.1,312.3 639.8,313.6 C636.4,315.0 629.2,316.1 627.6,315.0 C626.1,313.8 629.4,310.0 630.3,306.9 C631.2,303.8 632.6,297.9 633.0,296.1Z" fill="#c2c2c2"/>
<path d="M525.4,280.0 C526.0,282.9 527.6,292.1 529.4,297.5 C531.2,302.9 533.9,308.5 536.1,312.3 C538.4,316.1 541.7,319.0 542.9,320.3" fill="none" stroke="#b4b4b4" stroke-width="2.5"/>
<line x1="580.8" y1="261.1" x2="579.9" y2="331.1" stroke="#959595" stroke-width="1.3"/>
<ellipse cx="581.2" cy="266.5" rx="4" ry="3" fill="#c8c8c8"/>
<circle cx="581.9" cy="256.4" r="1.3" fill="#333"/>
<circle cx="573.8" cy="263.8" r="1.3" fill="#333"/>
<circle cx="588.6" cy="262.5" r="1.3" fill="#333"/>
<path d="M528.7,259.1 L555,246.3 L563,261.1 L536.1,274.6Z" fill="none" stroke="#ee1111" stroke-width="1.8"/>
<path d="M39.5,564.3L40.3,563.5L41.1,562.6L41.9,561.7L42.7,560.9L43.5,560.0L44.3,559.2L45.1,558.4L45.9,557.5L46.7,556.7L47.5,555.9L48.3,555.1L49.1,554.4L49.9,553.6L50.7,552.8L51.5,552.1L52.3,551.3L53.1,550.6L53.9,549.9L54.7,549.2L55.5,548.5L56.3,547.9L57.1,547.2L57.9,546.6L58.7,546.0L59.5,545.4L60.3,544.8L61.1,544.2L61.9,543.6L62.7,543.0L63.5,542.4L64.3,541.7L65.1,541.1L65.9,540.5L66.7,539.9L67.5,539.2L68.3,538.6L69.1,538.0L69.9,537.3L70.7,536.7L71.5,536.1L72.3,535.5L73.1,535.0L73.9,534.4L74.7,533.8L75.5,533.3L76.3,532.8L77.1,532.3L77.9,531.8L78.7,531.3L79.5,530.9L80.3,530.5L81.1,530.1L81.9,529.7L82.7,529.4L83.5,529.1L84.3,528.8L85.1,528.6L85.9,528.4L86.7,528.2L87.5,528.1L88.3,528.0L89.1,528.0L89.9,528.0L90.7,528.0L91.5,528.1L92.3,528.2L93.1,528.3L93.9,528.4L94.7,528.5L95.5,528.7L96.3,528.9L97.1,529.1L97.9,529.3L98.7,529.6L99.5,529.8L100.3,530.1L101.1,530.4L101.9,530.6L102.7,531.0L103.5,531.3L104.3,531.6L105.1,531.9L105.9,532.3L106.7,532.6L107.5,533.0L108.3,533.3L109.1,533.7L109.9,534.0L110.7,534.4L111.5,534.8L112.3,535.1L113.1,535.5L113.9,536.0L114.7,536.5L115.5,537.0L116.3,537.5L117.1,538.1L117.9,538.8L118.7,539.4L119.5,540.1L120.3,540.8L121.1,541.5L121.9,542.2L122.7,543.0L123.5,543.7L124.3,544.5L125.1,545.3L125.9,546.1L126.7,546.9L127.5,547.7L128.3,548.5L129.1,549.3L129.9,550.1L130.7,550.9L131.5,551.7L132.3,552.5L133.1,553.2L133.9,554.0L134.7,554.7L135.5,555.4L136.3,556.1L137.1,556.8L137.9,557.5L138.7,558.3L139.5,559.0L140.3,559.8L141.1,560.5L141.9,561.3L142.7,562.1L143.5,562.9L144.3,563.6L145.1,564.4L145.9,565.2L146.7,566.0L147.5,566.8L148.3,567.6L149.1,568.3L149.9,569.1L150.7,569.9L151.5,570.6L152.3,571.4L153.1,572.1L153.9,572.9L154.7,573.6L155.5,574.3L156.3,575.0L157.1,575.7L157.9,576.4L158.7,577.1L159.5,577.7L160.3,578.4L161.1,579.0L161.9,579.6L162.7,580.2L163.5,580.7L164.3,581.2L165.1,581.8L165.9,582.2L166.7,582.7L167.5,583.2L168.3,583.6L169.1,584.0L169.9,584.5L170.7,584.9L171.5,585.3L172.3,585.7L173.1,586.0L173.9,586.4L174.7,586.8L175.5,587.1L176.3,587.5L177.1,587.8L177.9,588.2L178.7,588.5L179.5,588.8L180.3,589.2L181.1,589.5L181.9,589.8L182.7,590.1L183.5,590.4L184.3,590.7L185.1,591.0L185.9,591.4L186.7,591.7L187.5,592.0L188.3,592.3L189.1,592.6L189.9,592.9L190.7,593.2L191.5,593.5L192.3,593.8L193.1,594.1L193.9,594.4L194.7,594.7L195.5,595.0L196.3,595.3L197.1,595.6L197.9,595.9L198.7,596.3L199.5,596.6L200.3,596.9L201.1,597.2L201.9,597.6L202.7,597.9L203.5,598.2L204.3,598.6L205.1,598.9L205.9,599.2L206.7,599.6L207.5,599.9L208.3,600.2L209.1,600.5L209.9,600.9L210.7,601.2L211.5,601.5L212.3,601.8L213.1,602.2L213.9,602.5L214.7,602.8L215.5,603.1L216.3,603.4L217.1,603.7L217.9,604.1L218.7,604.4L219.5,604.7L220.3,605.0L221.1,605.3L221.9,605.6L222.7,605.9L223.5,606.2L224.3,606.5L225.1,606.8L225.9,607.1L226.7,607.4L227.5,607.8L228.3,608.1L229.1,608.5L229.9,608.8L230.7,609.2L231.5,609.5L232.3,609.9L233.1,610.2L233.9,610.6L234.7,610.9L235.5,611.3L236.3,611.6L237.1,611.9L237.9,612.1L238.7,612.4L239.5,612.7L240.3,612.9L241.1,613.1L241.9,613.3L242.7,613.4L243.5,613.5L244.3,613.6L245.1,613.7L245.9,613.7L246.7,613.7L247.5,613.7L248.3,613.7L249.1,613.6L249.9,613.6L250.7,613.5L251.5,613.5L252.3,613.4L253.1,613.3L253.9,613.2L254.7,613.2L255.5,613.1L256.3,613.0L257.1,612.9L257.9,612.8L258.7,612.7L259.5,612.6L260.3,612.5L261.1,612.4L261.9,612.3L262.7,612.1L263.5,612.0L264.3,611.9L265.1,611.7L265.9,611.6L266.7,611.4L267.5,611.2L268.3,611.1L269.1,610.9L269.9,610.7L270.7,610.5L271.5,610.2L272.3,610.0L273.1,609.8L273.9,609.6L274.7,609.4L275.5,609.1L276.3,608.9L277.1,608.6L277.9,608.4L278.7,608.1L279.5,607.9L280.3,607.6L281.1,607.4L281.9,607.1L282.7,606.9L283.5,606.6L284.3,606.4L285.1,606.1L285.9,605.9L286.7,605.6L287.5,605.4L288.3,605.1L289.1,604.9L289.9,604.6L290.7,604.4L291.5,604.2L292.3,603.9L293.1,603.7L293.9,603.5L294.7,603.3L295.5,603.0L296.3,602.8L297.1,602.5L297.9,602.3L298.7,602.0L299.5,601.8L300.3,601.5L301.1,601.2L301.9,600.9L302.7,600.6L303.5,600.4L304.3,600.1L305.1,599.8L305.9,599.5L306.7,599.2L307.5,598.9L308.3,598.6L309.1,598.3L309.9,598.0L310.7,597.7L311.5,597.4L312.3,597.1L313.1,596.8L313.9,596.6L314.7,596.3L315.5,596.0L316.3,595.7L317.1,595.4L317.9,595.2L318.7,594.9L319.5,594.7L320.3,594.4L321.1,594.2L321.9,593.9L322.7,593.7L323.5,593.5L324.3,593.3L325.1,593.1L325.9,592.9L326.7,592.7L327.5,592.5L328.3,592.3L329.1,592.2L329.9,592.0L330.7,591.9L331.5,591.8L332.3,591.7L333.1,591.6L333.9,591.5L334.7,591.4L335.5,591.4L336.3,591.3L337.1,591.3L337.9,591.3L338.7,591.3L339.5,591.3L340.3,591.3L341.1,591.3L341.9,591.4L342.7,591.4L343.5,591.4L344.3,591.4L345.1,591.5L345.9,591.5L346.7,591.5L347.5,591.6L348.3,591.6L349.1,591.7L349.9,591.7L350.7,591.8L351.5,591.8L352.3,591.9L353.1,591.9L353.9,592.0L354.7,592.1L355.5,592.1L356.3,592.2L357.1,592.3L357.9,592.3L358.7,592.4L359.5,592.5L360.3,592.5L361.1,592.6L361.9,592.7L362.7,592.8L363.5,593.0L364.3,593.1L365.1,593.3L365.9,593.5L366.7,593.7L367.5,593.9L368.3,594.1L369.1,594.3L369.9,594.6L370.7,594.8L371.5,595.1L372.3,595.4L373.1,595.7L373.9,596.0L374.7,596.3L375.5,596.6L376.3,596.9L377.1,597.2L377.9,597.6L378.7,597.9L379.5,598.2L380.3,598.6L381.1,598.9L381.9,599.3L382.7,599.6L383.5,600.0L384.3,600.3L385.1,600.7L385.9,601.1L386.7,601.4L387.5,601.8L388.3,602.1L389.1,602.5L389.9,602.8L390.7,603.2L391.5,603.5L392.3,603.8L393.1,604.2L393.9,604.5L394.7,604.8L395.5,605.1L396.3,605.4L397.1,605.7L397.9,606.0L398.7,606.3L399.5,606.5L400.3,606.8L401.1,607.0L401.9,607.2L402.7,607.4L403.5,607.7L404.3,607.8L405.1,608.0L405.9,608.2L406.7,608.3L407.5,608.4L408.3,608.6L409.1,608.6L409.9,608.7L410.7,608.8L411.5,608.9L412.3,608.9L413.1,609.0L413.9,609.0L414.7,609.1L415.5,609.1L416.3,609.2L417.1,609.3L417.9,609.3L418.7,609.4L419.5,609.4L420.3,609.4L421.1,609.5L421.9,609.5L422.7,609.6L423.5,609.6L424.3,609.7L425.1,609.7L425.9,609.7L426.7,609.8L427.5,609.8L428.3,609.8L429.1,609.9L429.9,609.9L430.7,609.9L431.5,610.0L432.3,610.0L433.1,610.0L433.9,610.1L434.7,610.1L435.5,610.1L436.3,610.1L437.1,610.2L437.9,610.2L438.7,610.2L439.5,610.3L440.3,610.3L441.1,610.3L441.9,610.4L442.7,610.4L443.5,610.4L444.3,610.4L445.1,610.5L445.9,610.5L446.7,610.5L447.5,610.6L448.3,610.6L449.1,610.6L449.9,610.7L450.7,610.7L451.5,610.8L452.3,610.8L453.1,610.8L453.9,610.9L454.7,610.9L455.5,611.0L456.3,611.0L457.1,611.1L457.9,611.1L458.7,611.2L459.5,611.2L460.3,611.3L461.1,611.3L461.9,611.4L462.7,611.4L463.5,611.5L464.3,611.5L465.1,611.6L465.9,611.7L466.7,611.7L467.5,611.8L468.3,611.9L469.1,611.9L469.9,612.0L470.7,612.1L471.5,612.1L472.3,612.2L473.1,612.3L473.9,612.3L474.7,612.4L475.5,612.5L476.3,612.6L477.1,612.6L477.9,612.7L478.7,612.8L479.5,612.9L480.3,612.9L481.1,613.0L481.9,613.1L482.7,613.2L483.5,613.3L484.3,613.3L485.1,613.4L485.9,613.5L486.7,613.6L487.5,613.7L488.3,613.8L489.1,613.8L489.9,613.9L490.7,614.0L491.5,614.1L492.3,614.2L493.1,614.3L493.9,614.4L494.7,614.4L495.5,614.5L496.3,614.6L497.1,614.7L497.9,614.8L498.7,614.9L499.5,615.0L500.3,615.0L501.1,615.1L501.9,615.2L502.7,615.3L503.5,615.4L504.3,615.5L505.1,615.6L505.9,615.7L506.7,615.7L507.5,615.8L508.3,615.9L509.1,616.0L509.9,616.1L510.7,616.2L511.5,616.3L512.3,616.4L513.1,616.5L513.9,616.6L514.7,616.6L515.5,616.7L516.3,616.8L517.1,616.9L517.9,617.0L518.7,617.1L519.5,617.2L520.3,617.3L521.1,617.4L521.9,617.5L522.7,617.6L523.5,617.7L524.3,617.8L525.1,617.9L525.9,618.0L526.7,618.1L527.5,618.2L528.3,618.3L529.1,618.4L529.9,618.6L530.7,618.7L531.5,618.8L532.3,618.9L533.1,619.0L533.9,619.1L534.7,619.2L535.5,619.3L536.3,619.4L537.1,619.5L537.9,619.6L538.7,619.7L539.5,619.8L540.3,620.0L541.1,620.1L541.9,620.2L542.7,620.3L543.5,620.4L544.3,620.5L545.1,620.6L545.9,620.7L546.7,620.8L547.5,620.9L548.3,621.0L549.1,621.1L549.9,621.3L550.7,621.4L551.5,621.5L552.3,621.6L553.1,621.7L553.9,621.8L554.7,621.9L555.5,622.0L556.3,622.1L557.1,622.2L557.9,622.3L558.7,622.4L559.5,622.5L560.3,622.6L561.1,622.7L561.9,622.8L562.7,622.9L563.5,623.0L564.3,623.1L565.1,623.2L565.9,623.3L566.7,623.4L567.5,623.5L568.3,623.6L569.1,623.7L569.9,623.8L570.7,623.9L571.5,624.0L572.3,624.1L573.1,624.2L573.9,624.3L574.7,624.4L575.5,624.5L576.3,624.6L577.1,624.6L577.9,624.7L578.7,624.8L579.5,624.9L580.3,625.0L581.1,625.1L581.9,625.1L582.7,625.2L583.5,625.3L584.3,625.4L585.1,625.5L585.9,625.6L586.7,625.6L587.5,625.7L588.3,625.8L589.1,625.9L589.9,626.0L590.7,626.1L591.5,626.1L592.3,626.2L593.1,626.3L593.9,626.4L594.7,626.5L595.5,626.5L596.3,626.6L597.1,626.7L597.9,626.8L598.7,626.8L599.5,626.9L600.3,627.0L601.1,627.1L601.9,627.2L602.7,627.2L603.5,627.3L604.3,627.4L605.1,627.5L605.9,627.5L606.7,627.6L607.5,627.7L608.3,627.8L609.1,627.8L609.9,627.9L610.7,628.0L611.5,628.0L612.3,628.1L613.1,628.2L613.9,628.3L614.7,628.3L615.5,628.4L616.3,628.5L617.1,628.5L617.9,628.6L618.7,628.7L619.5,628.7L620.3,628.8L621.1,628.9L621.9,628.9L622.7,629.0L623.5,629.1L624.3,629.1L625.1,629.2L625.9,629.3L626.7,629.3L627.5,629.4L628.3,629.4L629.1,629.5L629.9,629.6L630.7,629.6L631.5,629.7L632.3,629.7L633.1,629.8L633.9,629.9L634.7,629.9L635.5,630.0L636.3,630.0L637.1,630.1L637.9,630.2L638.7,630.2L639.5,630.3L640.3,630.3L641.1,630.4L641.9,630.4L642.7,630.5L643.5,630.5L644.3,630.6L645.1,630.6L645.9,630.7L646.7,630.8L647.5,630.8L648.3,630.9L649.1,630.9L649.9,631.0L650.7,631.0L651.5,631.1L652.3,631.1L653.1,631.2L653.9,631.2L654.7,631.3L655.5,631.3L656.3,631.4L657.1,631.4L657.9,631.5L658.7,631.5L659.5,631.6L660.3,631.6L661.1,631.7L661.9,631.7L662.7,631.7L663.5,631.8L664.3,631.8L665.1,631.9L665.9,631.9L666.7,632.0L667.5,632.0L668.3,632.1L669.1,632.1L669.9,632.1L670.7,632.2L671.5,632.2L672.3,632.3L673.1,632.3L673.9,632.3L674.7,632.4L675.5,632.4" fill="none" stroke="#111" stroke-width="1.8"/>
<path d="M39.5,563.0L40.3,562.5L41.1,562.0L41.9,561.4L42.7,560.8L43.5,560.2L44.3,559.5L45.1,558.8L45.9,558.1L46.7,557.4L47.5,556.6L48.3,555.8L49.1,555.0L49.9,554.2L50.7,553.3L51.5,552.4L52.3,551.5L53.1,550.5L53.9,549.4L54.7,548.0L55.5,546.2L56.3,543.6L57.1,539.7L57.9,534.1L58.7,526.6L59.5,517.0L60.3,505.8L61.1,493.9L61.9,482.7L62.7,474.2L63.5,470.1L64.3,471.6L65.1,478.3L65.9,488.4L66.7,499.8L67.5,510.8L68.3,520.3L69.1,527.6L69.9,532.5L70.7,535.1L71.5,536.1L72.3,536.0L73.1,535.2L73.9,533.8L74.7,531.7L75.5,528.6L76.3,524.0L77.1,517.1L77.9,506.7L78.7,491.6L79.5,471.0L80.3,444.6L81.1,413.8L81.9,381.4L82.7,351.8L83.5,330.5L84.3,322.4L85.1,329.7L85.9,350.1L86.7,378.7L87.5,410.0L88.3,439.6L89.1,464.6L89.9,484.0L90.7,497.8L91.5,506.9L92.3,512.5L93.1,515.7L93.9,517.6L94.7,518.5L95.5,518.8L96.3,518.8L97.1,518.3L97.9,517.3L98.7,515.6L99.5,513.1L100.3,509.6L101.1,504.8L101.9,498.3L102.7,490.2L103.5,480.1L104.3,468.1L105.1,454.4L105.9,439.4L106.7,423.6L107.5,407.9L108.3,393.3L109.1,381.0L109.9,372.0L110.7,367.4L111.5,367.8L112.3,373.1L113.1,382.9L113.9,396.1L114.7,411.5L115.5,428.1L116.3,444.8L117.1,460.8L117.9,475.5L118.7,488.5L119.5,499.6L120.3,508.7L121.1,516.1L121.9,521.9L122.7,526.4L123.5,529.6L124.3,531.8L125.1,532.9L125.9,532.9L126.7,531.3L127.5,527.9L128.3,522.2L129.1,514.0L129.9,503.5L130.7,491.6L131.5,479.7L132.3,470.0L133.1,464.5L133.9,465.0L134.7,471.3L135.5,481.8L136.3,494.1L137.1,505.9L137.9,515.4L138.7,521.6L139.5,523.9L140.3,522.2L141.1,516.8L141.9,508.2L142.7,497.3L143.5,484.9L144.3,472.5L145.1,461.3L145.9,453.2L146.7,449.3L147.5,450.7L148.3,457.0L149.1,467.4L149.9,480.4L150.7,494.4L151.5,508.2L152.3,520.6L153.1,530.9L153.9,538.8L154.7,544.1L155.5,546.6L156.3,546.2L157.1,542.8L157.9,536.1L158.7,525.8L159.5,511.7L160.3,493.9L161.1,472.7L161.9,448.8L162.7,423.7L163.5,399.2L164.3,377.6L165.1,361.4L165.9,352.9L166.7,353.4L167.5,363.1L168.3,380.4L169.1,403.2L169.9,428.9L170.7,455.2L171.5,480.3L172.3,502.9L173.1,522.2L173.9,537.9L174.7,550.2L175.5,559.4L176.3,566.1L177.1,570.8L177.9,574.0L178.7,576.2L179.5,577.6L180.3,578.4L181.1,578.7L181.9,578.6L182.7,577.9L183.5,576.1L184.3,572.7L185.1,566.6L185.9,556.3L186.7,540.2L187.5,517.0L188.3,486.3L189.1,449.0L189.9,408.3L190.7,369.5L191.5,339.5L192.3,325.2L193.1,330.6L193.9,354.3L194.7,390.4L195.5,431.7L196.3,472.1L197.1,507.2L197.9,535.1L198.7,555.5L199.5,569.4L200.3,578.4L201.1,584.0L201.9,587.6L202.7,589.8L203.5,591.4L204.3,592.7L205.1,593.6L205.9,594.5L206.7,595.3L207.5,595.9L208.3,596.5L209.1,597.0L209.9,597.5L210.7,597.8L211.5,598.1L212.3,598.3L213.1,598.5L213.9,598.5L214.7,598.4L215.5,598.1L216.3,597.7L217.1,597.0L217.9,595.8L218.7,594.0L219.5,590.9L220.3,585.6L221.1,576.5L221.9,561.8L222.7,539.0L223.5,506.1L224.3,462.1L225.1,408.4L225.9,349.0L226.7,291.2L227.5,244.9L228.3,220.1L229.1,223.5L229.9,253.8L230.7,302.7L231.5,359.6L232.3,415.0L233.1,462.5L233.9,498.8L234.7,523.9L235.5,539.9L236.3,550.0L237.1,557.3L237.9,564.0L238.7,571.0L239.5,578.1L240.3,585.0L241.1,591.2L241.9,596.4L242.7,600.4L243.5,603.3L244.3,605.2L245.1,606.6L245.9,607.4L246.7,607.9L247.5,608.3L248.3,608.5L249.1,608.6L249.9,608.5L250.7,608.4L251.5,608.0L252.3,607.4L253.1,606.5L253.9,605.4L254.7,603.8L255.5,602.0L256.3,599.8L257.1,597.5L257.9,595.1L258.7,592.9L259.5,591.1L260.3,589.9L261.1,589.1L261.9,588.9L262.7,589.0L263.5,589.3L264.3,589.7L265.1,590.2L265.9,590.7L266.7,591.3L267.5,592.0L268.3,592.8L269.1,593.8L269.9,594.9L270.7,596.1L271.5,597.3L272.3,598.4L273.1,599.5L273.9,600.5L274.7,601.2L275.5,601.8L276.3,602.1L277.1,602.0L277.9,601.4L278.7,600.1L279.5,598.0L280.3,594.6L281.1,590.0L281.9,584.1L282.7,577.3L283.5,570.3L284.3,564.0L285.1,559.8L285.9,558.6L286.7,560.5L287.5,565.0L288.3,570.8L289.1,576.8L289.9,582.1L290.7,586.2L291.5,588.9L292.3,590.2L293.1,590.4L293.9,589.7L294.7,588.2L295.5,586.3L296.3,583.9L297.1,581.3L297.9,578.4L298.7,575.3L299.5,572.2L300.3,569.0L301.1,565.8L301.9,562.8L302.7,560.0L303.5,557.6L304.3,555.5L305.1,554.0L305.9,552.9L306.7,552.4L307.5,552.4L308.3,552.8L309.1,553.6L309.9,554.6L310.7,555.8L311.5,556.9L312.3,558.0L313.1,558.9L313.9,559.6L314.7,560.0L315.5,560.1L316.3,559.8L317.1,559.2L317.9,558.3L318.7,557.2L319.5,555.9L320.3,554.5L321.1,553.1L321.9,551.8L322.7,550.7L323.5,549.8L324.3,549.2L325.1,548.9L325.9,548.8L326.7,548.6L327.5,548.3L328.3,547.2L329.1,544.8L329.9,540.5L330.7,533.7L331.5,524.2L332.3,512.5L333.1,499.8L333.9,487.9L334.7,479.4L335.5,476.6L336.3,480.6L337.1,490.6L337.9,504.2L338.7,518.3L339.5,530.8L340.3,539.9L341.1,545.0L341.9,546.4L342.7,545.1L343.5,542.7L344.3,540.7L345.1,540.6L345.9,543.1L346.7,547.9L347.5,553.9L348.3,560.1L349.1,565.8L349.9,570.3L350.7,573.5L351.5,575.4L352.3,576.2L353.1,576.0L353.9,575.1L354.7,573.6L355.5,571.6L356.3,569.1L357.1,566.3L357.9,563.4L358.7,560.2L359.5,556.8L360.3,553.1L361.1,549.2L361.9,545.0L362.7,540.7L363.5,536.2L364.3,531.5L365.1,526.8L365.9,522.1L366.7,517.4L367.5,512.9L368.3,508.2L369.1,503.6L369.9,499.2L370.7,495.1L371.5,491.5L372.3,488.6L373.1,486.4L373.9,485.0L374.7,484.4L375.5,484.5L376.3,485.2L377.1,486.5L377.9,487.1L378.7,486.7L379.5,485.7L380.3,483.9L381.1,480.6L381.9,474.1L382.7,463.7L383.5,449.1L384.3,430.8L385.1,410.1L385.9,389.4L386.7,371.8L387.5,360.8L388.3,359.4L389.1,369.3L389.9,390.0L390.7,418.5L391.5,451.1L392.3,484.3L393.1,515.2L393.9,542.1L394.7,563.9L395.5,580.3L396.3,591.2L397.1,593.2L397.9,590.0L398.7,587.0L399.5,587.8L400.3,588.8L401.1,589.1L401.9,588.2L402.7,586.2L403.5,584.1L404.3,582.2L405.1,580.9L405.9,580.5L406.7,581.1L407.5,582.6L408.3,584.9L409.1,587.1L409.9,589.1L410.7,590.6L411.5,591.7L412.3,592.4L413.1,592.9L413.9,593.3L414.7,593.7L415.5,594.6L416.3,595.8L417.1,597.3L417.9,599.1L418.7,601.0L419.5,602.9L420.3,604.6L421.1,606.1L421.9,607.2L422.7,607.8L423.5,607.7L424.3,607.4L425.1,606.9L425.9,606.4L426.7,605.7L427.5,604.9L428.3,603.9L429.1,602.8L429.9,601.6L430.7,600.2L431.5,598.8L432.3,597.2L433.1,595.6L433.9,594.0L434.7,592.4L435.5,590.9L436.3,589.4L437.1,588.2L437.9,587.2L438.7,586.4L439.5,585.9L440.3,585.8L441.1,585.9L441.9,586.4L442.7,587.1L443.5,588.0L444.3,589.1L445.1,590.3L445.9,591.6L446.7,592.9L447.5,594.2L448.3,595.5L449.1,596.7L449.9,597.8L450.7,598.8L451.5,599.7L452.3,600.5L453.1,601.2L453.9,601.8L454.7,602.3L455.5,602.6L456.3,603.0L457.1,603.2L457.9,603.4L458.7,603.6L459.5,603.7L460.3,603.8L461.1,603.9L461.9,604.0L462.7,604.0L463.5,604.0L464.3,603.9L465.1,603.8L465.9,603.6L466.7,603.3L467.5,602.9L468.3,602.2L469.1,601.3L469.9,600.1L470.7,598.4L471.5,596.1L472.3,593.1L473.1,589.6L473.9,585.5L474.7,581.2L475.5,577.0L476.3,573.3L477.1,570.4L477.9,568.6L478.7,567.4L479.5,566.7L480.3,566.0L481.1,565.2L481.9,564.1L482.7,562.8L483.5,561.3L484.3,559.9L485.1,558.7L485.9,557.8L486.7,557.3L487.5,557.3L488.3,557.6L489.1,558.2L489.9,559.1L490.7,560.2L491.5,561.6L492.3,563.3L493.1,565.1L493.9,567.1L494.7,569.2L495.5,571.5L496.3,573.9L497.1,576.3L497.9,578.7L498.7,580.7L499.5,582.5L500.3,584.0L501.1,585.2L501.9,586.0L502.7,586.6L503.5,586.9L504.3,587.1L505.1,587.0L505.9,587.2L506.7,587.9L507.5,588.9L508.3,590.1L509.1,591.5L509.9,592.8L510.7,593.9L511.5,594.7L512.3,595.1L513.1,595.2L513.9,595.2L514.7,595.2L515.5,595.3L516.3,595.4L517.1,595.7L517.9,596.2L518.7,597.0L519.5,598.1L520.3,599.6L521.1,601.1L521.9,602.6L522.7,604.1L523.5,605.5L524.3,606.8L525.1,608.0L525.9,609.1L526.7,610.1L527.5,611.0L528.3,611.9L529.1,612.6L529.9,613.2L530.7,613.8L531.5,614.3L532.3,614.7L533.1,615.0L533.9,615.4L534.7,615.6L535.5,615.9L536.3,616.1L537.1,616.3L537.9,616.4L538.7,616.6L539.5,616.7L540.3,616.8L541.1,616.8L541.9,616.8L542.7,616.7L543.5,616.5L544.3,616.1L545.1,615.5L545.9,614.6L546.7,613.3L547.5,611.5L548.3,609.1L549.1,605.9L549.9,602.0L550.7,597.3L551.5,591.9L552.3,585.9L553.1,579.6L553.9,573.2L554.7,567.3L555.5,562.2L556.3,558.6L557.1,556.7L557.9,556.8L558.7,559.0L559.5,563.0L560.3,568.4L561.1,574.7L561.9,581.3L562.7,588.0L563.5,594.3L564.3,600.1L565.1,605.1L565.9,609.3L566.7,612.8L567.5,615.5L568.3,617.6L569.1,619.3L569.9,620.5L570.7,621.4L571.5,622.1L572.3,622.6L573.1,623.1L573.9,623.4L574.7,623.7L575.5,624.0L576.3,624.2L577.1,624.4L577.9,624.6L578.7,624.8L579.5,625.0L580.3,625.2L581.1,625.4L581.9,625.5L582.7,625.7L583.5,625.9L584.3,626.0L585.1,626.2L585.9,626.4L586.7,626.5L587.5,626.7L588.3,626.8L589.1,627.0L589.9,627.1L590.7,627.3L591.5,627.4L592.3,627.5L593.1,627.7L593.9,627.8L594.7,627.9L595.5,628.1L596.3,628.2L597.1,628.3L597.9,628.5L598.7,628.6L599.5,628.7L600.3,628.8L601.1,628.9L601.9,629.0L602.7,629.1L603.5,629.2L604.3,629.3L605.1,629.4L605.9,629.5L606.7,629.6L607.5,629.7L608.3,629.8L609.1,629.9L609.9,629.9L610.7,630.0L611.5,630.1L612.3,630.2L613.1,630.2L613.9,630.3L614.7,630.4L615.5,630.4L616.3,630.5L617.1,630.5L617.9,630.6L618.7,630.6L619.5,630.7L620.3,630.7L621.1,630.8L621.9,630.8L622.7,630.9L623.5,630.9L624.3,630.9L625.1,631.0L625.9,631.0L626.7,631.0L627.5,631.1L628.3,631.1L629.1,631.1L629.9,631.1L630.7,631.1L631.5,631.2L632.3,631.2L633.1,631.2L633.9,631.2L634.7,631.2L635.5,631.2L636.3,631.2L637.1,631.2L637.9,631.2L638.7,631.2L639.5,631.2L640.3,631.2L641.1,631.2L641.9,631.1L642.7,631.1L643.5,631.1L644.3,631.1L645.1,631.1L645.9,631.0L646.7,631.0L647.5,631.0L648.3,631.0L649.1,630.9L649.9,630.9L650.7,630.9L651.5,630.8L652.3,630.8L653.1,630.7L653.9,630.7L654.7,630.6L655.5,630.6L656.3,630.5L657.1,630.5L657.9,630.4L658.7,630.4L659.5,630.3L660.3,630.3L661.1,630.2L661.9,630.1L662.7,630.1L663.5,630.0L664.3,629.9L665.1,629.8L665.9,629.8L666.7,629.7L667.5,629.6L668.3,629.5L669.1,629.4L669.9,629.3L670.7,629.3L671.5,629.2L672.3,629.1L673.1,629.0L673.9,628.9L674.7,628.8L675.5,628.7" fill="none" stroke="#e8121a" stroke-width="2.6"/>
<path d="M39.5,561.5L40.3,557.4L41.1,566.2L41.9,563.7L42.7,561.0L43.5,554.5L44.3,559.9L45.1,558.5L45.9,558.6L46.7,556.7L47.5,562.5L48.3,554.8L49.1,557.7L49.9,554.2L50.7,551.4L51.5,550.7L52.3,547.3L53.1,548.9L53.9,542.9L54.7,543.0L55.5,539.4L56.3,534.4L57.1,540.1L57.9,528.9L58.7,527.2L59.5,515.5L60.3,496.3L61.1,487.2L61.9,478.5L62.7,470.1L63.5,463.1L64.3,470.8L65.1,474.6L65.9,487.9L66.7,497.6L67.5,511.7L68.3,517.9L69.1,527.7L69.9,534.4L70.7,534.9L71.5,533.9L72.3,531.4L73.1,534.8L73.9,534.6L74.7,530.9L75.5,526.1L76.3,526.1L77.1,526.4L77.9,510.5L78.7,495.0L79.5,473.9L80.3,436.3L81.1,414.4L81.9,379.6L82.7,374.3L83.5,334.3L84.3,321.6L85.1,330.5L85.9,352.6L86.7,377.6L87.5,418.4L88.3,425.6L89.1,462.2L89.9,484.5L90.7,502.9L91.5,509.1L92.3,503.9L93.1,520.3L93.9,520.1L94.7,522.1L95.5,519.9L96.3,515.6L97.1,517.3L97.9,516.3L98.7,518.2L99.5,517.2L100.3,507.5L101.1,497.7L101.9,496.6L102.7,484.2L103.5,480.9L104.3,468.2L105.1,448.5L105.9,441.0L106.7,425.1L107.5,406.6L108.3,398.0L109.1,387.7L109.9,369.5L110.7,373.0L111.5,371.1L112.3,376.0L113.1,387.5L113.9,395.1L114.7,410.5L115.5,426.6L116.3,440.6L117.1,451.5L117.9,466.0L118.7,480.0L119.5,497.8L120.3,507.0L121.1,518.0L121.9,516.9L122.7,519.8L123.5,527.5L124.3,531.8L125.1,531.2L125.9,536.5L126.7,531.7L127.5,528.7L128.3,522.4L129.1,516.7L129.9,500.7L130.7,493.9L131.5,479.8L132.3,469.4L133.1,464.4L133.9,467.3L134.7,475.3L135.5,484.7L136.3,493.7L137.1,505.7L137.9,511.7L138.7,511.8L139.5,520.2L140.3,512.1L141.1,523.3L141.9,506.7L142.7,492.2L143.5,483.8L144.3,469.4L145.1,468.3L145.9,455.2L146.7,445.6L147.5,454.7L148.3,456.9L149.1,473.9L149.9,476.0L150.7,486.1L151.5,508.0L152.3,518.8L153.1,528.9L153.9,529.3L154.7,543.2L155.5,550.9L156.3,539.9L157.1,548.0L157.9,538.7L158.7,533.9L159.5,512.2L160.3,490.7L161.1,474.8L161.9,441.5L162.7,419.9L163.5,399.2L164.3,373.5L165.1,353.9L165.9,359.3L166.7,351.7L167.5,360.4L168.3,381.5L169.1,397.8L169.9,423.1L170.7,451.1L171.5,475.6L172.3,500.7L173.1,524.8L173.9,535.9L174.7,551.4L175.5,560.8L176.3,561.6L177.1,563.2L177.9,568.7L178.7,577.4L179.5,577.5L180.3,578.0L181.1,585.9L181.9,579.0L182.7,574.8L183.5,577.8L184.3,571.7L185.1,563.6L185.9,559.4L186.7,543.1L187.5,516.3L188.3,492.4L189.1,449.9L189.9,407.9L190.7,369.2L191.5,336.3L192.3,324.3L193.1,331.7L193.9,361.5L194.7,397.8L195.5,433.7L196.3,480.5L197.1,509.6L197.9,538.3L198.7,559.8L199.5,571.5L200.3,589.4L201.1,587.9L201.9,587.7L202.7,598.6L203.5,592.4L204.3,591.2L205.1,581.5L205.9,596.0L206.7,596.8L207.5,597.5L208.3,597.9L209.1,599.4L209.9,593.6L210.7,598.5L211.5,594.4L212.3,596.1L213.1,600.3L213.9,596.9L214.7,590.2L215.5,595.6L216.3,593.4L217.1,591.3L217.9,595.8L218.7,592.0L219.5,573.9L220.3,579.7L221.1,579.5L221.9,538.1L222.7,537.1L223.5,506.4L224.3,463.7L225.1,404.9L225.9,349.8L226.7,293.7L227.5,248.8L228.3,218.4L229.1,219.2L229.9,255.8L230.7,304.5L231.5,359.5L232.3,412.7L233.1,464.2L233.9,499.6L234.7,527.3L235.5,535.7L236.3,548.6L237.1,552.4L237.9,553.8L238.7,564.2L239.5,571.6L240.3,579.9L241.1,591.4L241.9,590.8L242.7,598.8L243.5,603.8L244.3,606.4L245.1,611.0L245.9,604.0L246.7,603.5L247.5,610.2L248.3,611.6L249.1,617.1L249.9,611.0L250.7,604.9L251.5,610.2L252.3,604.2L253.1,601.0L253.9,613.1L254.7,603.6L255.5,614.1L256.3,602.2L257.1,605.8L257.9,596.0L258.7,599.2L259.5,598.4L260.3,583.9L261.1,591.6L261.9,591.7L262.7,589.3L263.5,588.7L264.3,588.7L265.1,586.9L265.9,596.3L266.7,595.1L267.5,598.1L268.3,596.1L269.1,598.7L269.9,596.5L270.7,597.4L271.5,592.7L272.3,601.6L273.1,610.1L273.9,602.1L274.7,603.4L275.5,606.3L276.3,605.9L277.1,604.2L277.9,596.4L278.7,603.4L279.5,596.2L280.3,593.6L281.1,592.4L281.9,582.9L282.7,580.6L283.5,575.6L284.3,568.3L285.1,562.7L285.9,554.6L286.7,557.0L287.5,560.7L288.3,568.9L289.1,572.9L289.9,579.2L290.7,584.2L291.5,583.5L292.3,597.6L293.1,583.4L293.9,589.8L294.7,588.1L295.5,590.4L296.3,589.0L297.1,581.8L297.9,581.4L298.7,569.4L299.5,579.3L300.3,572.4L301.1,565.2L301.9,560.3L302.7,563.4L303.5,552.3L304.3,552.3L305.1,554.7L305.9,550.8L306.7,548.3L307.5,554.0L308.3,549.1L309.1,575.9L309.9,555.6L310.7,556.4L311.5,562.2L312.3,558.2L313.1,568.1L313.9,558.5L314.7,565.7L315.5,555.0L316.3,562.1L317.1,556.7L317.9,554.9L318.7,557.1L319.5,556.4L320.3,548.6L321.1,556.5L321.9,549.1L322.7,551.4L323.5,551.4L324.3,551.3L325.1,542.9L325.9,554.8L326.7,552.1L327.5,549.5L328.3,545.9L329.1,541.1L329.9,535.6L330.7,533.3L331.5,519.6L332.3,504.9L333.1,495.3L333.9,492.4L334.7,478.1L335.5,473.3L336.3,482.8L337.1,490.0L337.9,504.0L338.7,518.2L339.5,528.3L340.3,537.3L341.1,542.5L341.9,543.5L342.7,544.1L343.5,542.4L344.3,539.3L345.1,539.8L345.9,539.5L346.7,542.2L347.5,554.9L348.3,559.4L349.1,565.1L349.9,569.9L350.7,568.9L351.5,570.1L352.3,573.2L353.1,573.1L353.9,570.3L354.7,574.2L355.5,570.9L356.3,553.1L357.1,565.9L357.9,568.0L358.7,556.0L359.5,559.1L360.3,558.0L361.1,555.0L361.9,542.9L362.7,547.2L363.5,535.2L364.3,529.3L365.1,525.4L365.9,523.8L366.7,517.7L367.5,513.6L368.3,515.0L369.1,503.2L369.9,496.4L370.7,497.8L371.5,494.8L372.3,494.8L373.1,485.7L373.9,490.7L374.7,486.3L375.5,489.1L376.3,478.9L377.1,485.6L377.9,485.5L378.7,468.8L379.5,483.5L380.3,487.4L381.1,477.7L381.9,469.7L382.7,455.9L383.5,450.6L384.3,432.0L385.1,399.8L385.9,386.1L386.7,372.0L387.5,355.8L388.3,355.1L389.1,370.1L389.9,393.6L390.7,412.5L391.5,440.3L392.3,478.1L393.1,524.8L393.9,542.4L394.7,567.0L395.5,580.3L396.3,588.7L397.1,593.1L397.9,586.2L398.7,586.8L399.5,586.1L400.3,592.1L401.1,591.3L401.9,584.3L402.7,586.3L403.5,582.6L404.3,576.6L405.1,577.4L405.9,575.9L406.7,581.4L407.5,578.3L408.3,578.9L409.1,579.5L409.9,583.0L410.7,588.6L411.5,588.3L412.3,592.6L413.1,587.1L413.9,593.9L414.7,592.4L415.5,592.7L416.3,587.5L417.1,591.9L417.9,600.5L418.7,603.9L419.5,600.6L420.3,603.9L421.1,602.5L421.9,605.6L422.7,606.2L423.5,611.7L424.3,609.2L425.1,607.2L425.9,606.7L426.7,608.2L427.5,604.4L428.3,597.5L429.1,604.7L429.9,599.9L430.7,599.4L431.5,603.2L432.3,599.0L433.1,593.0L433.9,593.8L434.7,586.7L435.5,568.9L436.3,579.5L437.1,590.8L437.9,579.4L438.7,586.8L439.5,580.3L440.3,579.6L441.1,584.0L441.9,587.8L442.7,589.9L443.5,593.0L444.3,587.3L445.1,589.6L445.9,586.6L446.7,593.6L447.5,593.5L448.3,592.5L449.1,594.9L449.9,597.2L450.7,600.9L451.5,604.2L452.3,589.4L453.1,600.1L453.9,603.8L454.7,594.9L455.5,598.5L456.3,606.1L457.1,592.1L457.9,599.8L458.7,605.5L459.5,598.1L460.3,612.4L461.1,593.9L461.9,606.7L462.7,606.8L463.5,605.0L464.3,601.7L465.1,603.8L465.9,589.8L466.7,603.7L467.5,596.1L468.3,598.0L469.1,610.7L469.9,592.7L470.7,593.8L471.5,594.4L472.3,587.4L473.1,592.5L473.9,585.1L474.7,573.9L475.5,574.5L476.3,568.5L477.1,566.3L477.9,567.1L478.7,563.5L479.5,569.1L480.3,563.2L481.1,568.0L481.9,563.1L482.7,564.5L483.5,558.3L484.3,557.7L485.1,555.2L485.9,560.4L486.7,560.8L487.5,564.4L488.3,562.1L489.1,559.7L489.9,558.9L490.7,561.4L491.5,561.3L492.3,569.2L493.1,570.6L493.9,566.4L494.7,567.6L495.5,575.6L496.3,573.5L497.1,573.0L497.9,579.1L498.7,575.3L499.5,577.5L500.3,583.7L501.1,576.9L501.9,589.2L502.7,584.1L503.5,587.9L504.3,588.5L505.1,592.9L505.9,588.4L506.7,587.0L507.5,581.1L508.3,588.3L509.1,586.2L509.9,594.7L510.7,596.4L511.5,595.6L512.3,602.5L513.1,597.8L513.9,599.0L514.7,598.3L515.5,597.1L516.3,600.3L517.1,599.7L517.9,590.6L518.7,598.2L519.5,597.5L520.3,601.4L521.1,601.8L521.9,596.8L522.7,597.5L523.5,608.4L524.3,603.8L525.1,598.8L525.9,606.3L526.7,606.7L527.5,604.5L528.3,604.4L529.1,607.0L529.9,613.3L530.7,611.6L531.5,610.8L532.3,614.2L533.1,618.1L533.9,611.5L534.7,619.0L535.5,617.1L536.3,614.9L537.1,616.4L537.9,617.3L538.7,616.6L539.5,613.4L540.3,617.9L541.1,626.8L541.9,615.6L542.7,612.6L543.5,619.3L544.3,620.6L545.1,619.4L545.9,612.2L546.7,616.9L547.5,608.6L548.3,605.6L549.1,604.7L549.9,601.7L550.7,598.4L551.5,591.8L552.3,583.6L553.1,580.7L553.9,572.2L554.7,570.5L555.5,558.7L556.3,554.6L557.1,560.6L557.9,553.4L558.7,559.1L559.5,563.0L560.3,565.9L561.1,557.5L561.9,584.8L562.7,578.9L563.5,597.3L564.3,607.6L565.1,604.5L565.9,608.6L566.7,596.0L567.5,621.8L568.3,614.0L569.1,621.3L569.9,623.9L570.7,629.1L571.5,628.2L572.3,629.0L573.1,624.6L573.9,625.5L574.7,643.1L575.5,621.3L576.3,622.9L577.1,622.4L577.9,617.7L578.7,626.2L579.5,621.1L580.3,618.3L581.1,627.9L581.9,622.6L582.7,627.8L583.5,626.4L584.3,627.1L585.1,626.2L585.9,623.0L586.7,625.0L587.5,633.6L588.3,618.9L589.1,626.8L589.9,627.6L590.7,622.5L591.5,621.6L592.3,633.2L593.1,624.1L593.9,633.2L594.7,630.6L595.5,631.5L596.3,633.7L597.1,634.0L597.9,626.0L598.7,633.3L599.5,631.5L600.3,631.3L601.1,635.7L601.9,634.2L602.7,628.2L603.5,630.3L604.3,634.8L605.1,631.9L605.9,631.3L606.7,620.4L607.5,628.1L608.3,630.6L609.1,633.5L609.9,630.7L610.7,620.3L611.5,628.7L612.3,638.9L613.1,631.4L613.9,625.4L614.7,626.4L615.5,618.1L616.3,627.0L617.1,629.0L617.9,637.2L618.7,628.3L619.5,640.8L620.3,632.8L621.1,633.4L621.9,619.5L622.7,627.3L623.5,617.8L624.3,629.9L625.1,628.1L625.9,623.9L626.7,631.3L627.5,631.1L628.3,631.6L629.1,596.9L629.9,633.9L630.7,629.6L631.5,624.3L632.3,623.7L633.1,633.9L633.9,634.5L634.7,635.6L635.5,635.4L636.3,636.3L637.1,634.6L637.9,623.0L638.7,630.4L639.5,639.5L640.3,632.1L641.1,628.7L641.9,625.9L642.7,627.5L643.5,632.1L644.3,632.7L645.1,630.9L645.9,633.1L646.7,631.9L647.5,628.5L648.3,636.3L649.1,632.5L649.9,639.1L650.7,628.4L651.5,631.4L652.3,635.6L653.1,631.9L653.9,627.6L654.7,628.2L655.5,631.0L656.3,631.5L657.1,629.2L657.9,631.8L658.7,635.4L659.5,630.4L660.3,631.2L661.1,616.7L661.9,633.3L662.7,633.4L663.5,629.8L664.3,642.2L665.1,627.6L665.9,622.9L666.7,622.9L667.5,627.7L668.3,626.4L669.1,631.1L669.9,627.5L670.7,632.2L671.5,635.2L672.3,633.8L673.1,626.4L673.9,625.7L674.7,625.9L675.5,612.0" fill="none" stroke="#111" stroke-width="1.0" stroke-opacity="0.7"/>
<path d="M39.5,177.5L40.2,180.7L40.9,174.7L41.6,187.2L42.3,176.1L43.0,175.7L43.7,176.2L44.4,176.1L45.1,184.5L45.8,186.6L46.5,197.4L47.2,193.3L47.9,191.6L48.6,185.7L49.3,178.8L50.0,185.5L50.7,184.0L51.4,194.4L52.1,191.6L52.8,200.4L53.5,195.7L54.2,194.3L54.9,189.9L55.6,189.5L56.3,192.1L57.0,192.8L57.7,184.8L58.4,193.2L59.1,205.2L59.8,190.2L60.5,185.6L61.2,181.6L61.9,179.0L62.6,193.9L63.3,190.2L64.0,192.8L64.7,202.7L65.4,204.9L66.1,185.6L66.8,193.3L67.5,191.4L68.2,189.7L68.9,189.5L69.6,188.2L70.3,197.2L71.0,193.1L71.7,192.1L72.4,197.6L73.1,196.6L73.8,194.3L74.5,194.8L75.2,202.6L75.9,195.3L76.6,189.0L77.3,182.9L78.0,184.0L78.7,180.5L79.4,186.2L80.1,185.1L80.8,172.1L81.5,182.6L82.2,187.1L82.9,183.6L83.6,177.4L84.3,187.5L85.0,175.9L85.7,170.5L86.4,171.7L87.1,179.9L87.8,187.6L88.5,188.4L89.2,180.3L89.9,169.6L90.6,170.2L91.3,168.3L92.0,170.2L92.7,162.0L93.4,171.9L94.1,175.5L94.8,170.9L95.5,171.4L96.2,161.7L96.9,157.9L97.6,164.5L98.3,177.2L99.0,177.9L99.7,170.8L100.4,179.2L101.1,173.8L101.8,184.0L102.5,179.4L103.2,174.7L103.9,180.6L104.6,172.4L105.3,170.7L106.0,170.0L106.7,181.7L107.4,182.8L108.1,183.9L108.8,184.4L109.5,194.7L110.2,185.5L110.9,184.8L111.6,197.5L112.3,199.5L113.0,190.9L113.7,177.7L114.4,183.6L115.1,192.1L115.8,190.8L116.5,196.7L117.2,180.7L117.9,188.8L118.6,183.0L119.3,192.1L120.0,184.6L120.7,186.9L121.4,174.7L122.1,167.1L122.8,167.4L123.5,170.3L124.2,170.8L124.9,184.8L125.6,186.6L126.3,178.8L127.0,169.8L127.7,173.6L128.4,172.9L129.1,185.0L129.8,179.5L130.5,177.6L131.2,169.2L131.9,158.1L132.6,163.2L133.3,163.5L134.0,172.4L134.7,171.4L135.4,166.7L136.1,170.4L136.8,181.0L137.5,167.7L138.2,166.6L138.9,170.5L139.6,169.3L140.3,172.3L141.0,179.5L141.7,184.5L142.4,164.8L143.1,171.6L143.8,172.2L144.5,170.7L145.2,168.9L145.9,167.9L146.6,173.5L147.3,164.7L148.0,164.4L148.7,164.5L149.4,164.8L150.1,164.0L150.8,170.0L151.5,165.1L152.2,165.0L152.9,162.6L153.6,156.6L154.3,156.8L155.0,156.8L155.7,163.6L156.4,159.1L157.1,157.5L157.8,165.2L158.5,166.6L159.2,156.2L159.9,174.4L160.6,167.9L161.3,167.5L162.0,174.1L162.7,169.6L163.4,167.8L164.1,182.4L164.8,166.7L165.5,171.4L166.2,177.0L166.9,168.3L167.6,174.6L168.3,181.2L169.0,192.3L169.7,175.1L170.4,178.2L171.1,182.4L171.8,178.7L172.5,171.8L173.2,180.6L173.9,181.1L174.6,184.3L175.3,188.8L176.0,187.9L176.7,183.0L177.4,179.3L178.1,170.2L178.8,174.2L179.5,175.7L180.2,171.5L180.9,172.6L181.6,169.0L182.3,182.7L183.0,185.7L183.7,170.3L184.4,171.5L185.1,168.8L185.8,176.7L186.5,172.4L187.2,169.1L187.9,166.7L188.6,167.9L189.3,163.1L190.0,172.0L190.7,167.0L191.4,174.5L192.1,175.2L192.8,181.4L193.5,177.3L194.2,182.2L194.9,173.2L195.6,181.4L196.3,178.9L197.0,181.9L197.7,182.4L198.4,185.4L199.1,169.7L199.8,180.0L200.5,172.8L201.2,185.0L201.9,167.9L202.6,170.7L203.3,170.0L204.0,187.9L204.7,174.2L205.4,179.5L206.1,175.3L206.8,168.9L207.5,178.4L208.2,186.3L208.9,184.1L209.6,189.6L210.3,182.9L211.0,183.8L211.7,182.6L212.4,188.4L213.1,197.1L213.8,188.0L214.5,183.4L215.2,176.8L215.9,175.9L216.6,185.8L217.3,170.7L218.0,169.0L218.7,173.1L219.4,172.6L220.1,182.3L220.8,159.2L221.5,171.4L222.2,173.0L222.9,162.3L223.6,164.5L224.3,172.5L225.0,178.7L225.7,163.7L226.4,160.4L227.1,176.9L227.8,181.8L228.5,170.6L229.2,161.5L229.9,182.4L230.6,178.4L231.3,185.8L232.0,180.2L232.7,178.4L233.4,180.6L234.1,192.9L234.8,191.3L235.5,170.5L236.2,176.9L236.9,192.2L237.6,180.3L238.3,172.8L239.0,179.0L239.7,178.5L240.4,177.1L241.1,173.5L241.8,172.8L242.5,171.3L243.2,173.9L243.9,167.0L244.6,169.1L245.3,171.8L246.0,180.5L246.7,176.3L247.4,173.9L248.1,178.6L248.8,180.7L249.5,186.5L250.2,186.7L250.9,195.2L251.6,193.2L252.3,184.8L253.0,182.7L253.7,190.3L254.4,188.3L255.1,182.0L255.8,171.7L256.5,169.6L257.2,183.1L257.9,187.2L258.6,185.5L259.3,173.4L260.0,183.4L260.7,175.7L261.4,179.3L262.1,178.0L262.8,169.4L263.5,167.1L264.2,158.1L264.9,163.2L265.6,161.1L266.3,175.0L267.0,176.2L267.7,181.1L268.4,177.7L269.1,171.9L269.8,176.5L270.5,174.0L271.2,179.3L271.9,177.1L272.6,169.5L273.3,174.2L274.0,174.9L274.7,174.2L275.4,181.9L276.1,185.6L276.8,172.3L277.5,167.8L278.2,157.2L278.9,168.2L279.6,167.4L280.3,160.0L281.0,175.0L281.7,179.1L282.4,172.8L283.1,174.6L283.8,173.6L284.5,183.1L285.2,173.4L285.9,182.6L286.6,197.3L287.3,189.3L288.0,190.1L288.7,185.7L289.4,180.4L290.1,187.1L290.8,190.1L291.5,183.8L292.2,192.4L292.9,198.8L293.6,195.8L294.3,178.6L295.0,178.8L295.7,177.8L296.4,194.1L297.1,193.5L297.8,191.5L298.5,180.0L299.2,176.5L299.9,182.4L300.6,181.7L301.3,175.6L302.0,179.9L302.7,181.5L303.4,176.2L304.1,164.9L304.8,157.4L305.5,167.6L306.2,171.5L306.9,169.4L307.6,168.1L308.3,168.0L309.0,176.6L309.7,173.8L310.4,173.6L311.1,167.4L311.8,169.3L312.5,173.1L313.2,166.1L313.9,164.4L314.6,171.1L315.3,180.7L316.0,176.8L316.7,181.5L317.4,171.0L318.1,166.4L318.8,159.9L319.5,166.1L320.2,179.1L320.9,175.5L321.6,177.6L322.3,177.1L323.0,172.8L323.7,171.7L324.4,174.5L325.1,178.6L325.8,178.2L326.5,177.6L327.2,174.3L327.9,168.4L328.6,170.3L329.3,168.3L330.0,177.6L330.7,163.0L331.4,175.4L332.1,191.4L332.8,177.1L333.5,171.5L334.2,179.0L334.9,187.6L335.6,181.0L336.3,183.9L337.0,181.3L337.7,181.3L338.4,199.8L339.1,183.0L339.8,176.3L340.5,176.5L341.2,182.5L341.9,184.5L342.6,186.3L343.3,181.4L344.0,172.8L344.7,182.7L345.4,178.8L346.1,176.9L346.8,169.7L347.5,173.8L348.2,173.9L348.9,176.8L349.6,169.8L350.3,177.6L351.0,177.9L351.7,170.4L352.4,172.1L353.1,172.1L353.8,179.8L354.5,161.7L355.2,170.9L355.9,166.2L356.6,174.4L357.3,182.5L358.0,175.2L358.7,177.9L359.4,174.5L360.1,189.9L360.8,185.1L361.5,181.9L362.2,165.6L362.9,165.8L363.6,177.6L364.3,171.8L365.0,170.8L365.7,173.1L366.4,166.1L367.1,177.4L367.8,175.6L368.5,177.8L369.2,172.4L369.9,178.2L370.6,173.9L371.3,184.1L372.0,186.9L372.7,185.7L373.4,182.2L374.1,179.3L374.8,161.7L375.5,179.9L376.2,177.2L376.9,179.0L377.6,176.4L378.3,171.0L379.0,177.6L379.7,187.6L380.4,192.2L381.1,180.5L381.8,178.7L382.5,190.9L383.2,181.2L383.9,194.9L384.6,183.1L385.3,176.8L386.0,186.6L386.7,189.3L387.4,172.5L388.1,186.1L388.8,178.2L389.5,185.4L390.2,173.7L390.9,166.8L391.6,179.6L392.3,186.2L393.0,194.3L393.7,191.8L394.4,183.1L395.1,174.4L395.8,170.2L396.5,169.4L397.2,165.0L397.9,164.6L398.6,152.2L399.3,166.8L400.0,170.2L400.7,184.5L401.4,173.9L402.1,164.7L402.8,167.5L403.5,157.5L404.2,159.6L404.9,156.6L405.6,176.7L406.3,174.5L407.0,165.7L407.7,173.4L408.4,182.0L409.1,181.6L409.8,180.4L410.5,173.6L411.2,175.7L411.9,181.9L412.6,186.7L413.3,177.2L414.0,176.1L414.7,188.4L415.4,179.9L416.1,190.4L416.8,187.9L417.5,192.2L418.2,196.9L418.9,190.3L419.6,186.9L420.3,175.4L421.0,175.8L421.7,184.7L422.4,191.3L423.1,191.4L423.8,193.7L424.5,180.2L425.2,176.6L425.9,178.7L426.6,171.8L427.3,168.5L428.0,163.1L428.7,172.6L429.4,162.7L430.1,169.4L430.8,161.1L431.5,174.1L432.2,165.2L432.9,173.6L433.6,162.2L434.3,169.8L435.0,180.2L435.7,171.6L436.4,175.3L437.1,171.7L437.8,163.5L438.5,179.4L439.2,182.5L439.9,175.8L440.6,184.1L441.3,177.5L442.0,176.8L442.7,183.4L443.4,183.5L444.1,198.6L444.8,179.8L445.5,190.2L446.2,189.7L446.9,171.0L447.6,170.6L448.3,183.2L449.0,179.4L449.7,183.7L450.4,186.2L451.1,174.8L451.8,166.1L452.5,156.4L453.2,171.8L453.9,168.8L454.6,175.8L455.3,175.5L456.0,169.1L456.7,187.1L457.4,186.1L458.1,182.8L458.8,170.6L459.5,173.7L460.2,174.1L460.9,175.5L461.6,173.8L462.3,183.9L463.0,185.0L463.7,186.0L464.4,182.8L465.1,191.8L465.8,183.6L466.5,166.3L467.2,177.3L467.9,184.1L468.6,190.4L469.3,183.3L470.0,181.7L470.7,179.6L471.4,185.6L472.1,178.6L472.8,175.3L473.5,173.6L474.2,178.6L474.9,170.2L475.6,162.4L476.3,172.8L477.0,166.5L477.7,171.5L478.4,172.7L479.1,177.2L479.8,174.9L480.5,164.4L481.2,164.4L481.9,160.8L482.6,178.2L483.3,174.8L484.0,178.2L484.7,166.8L485.4,157.8L486.1,177.3L486.8,172.0L487.5,171.4L488.2,171.2L488.9,174.0L489.6,171.5L490.3,160.0L491.0,172.5L491.7,164.9L492.4,166.0L493.1,178.4L493.8,173.5L494.5,162.9L495.2,153.4L495.9,164.7L496.6,168.3L497.3,163.9L498.0,156.2L498.7,157.8L499.4,157.8L500.1,168.8L500.8,175.4L501.5,177.1L502.2,168.4L502.9,173.9L503.6,176.7L504.3,172.4L505.0,176.8L505.7,190.4L506.4,181.7L507.1,183.0L507.8,174.8L508.5,174.5L509.2,165.7L509.9,176.7L510.6,187.7L511.3,194.7L512.0,189.8L512.7,185.0L513.4,179.8L514.1,176.0L514.8,179.2L515.5,184.2L516.2,178.3L516.9,185.8L517.6,174.3L518.3,167.9L519.0,170.7L519.7,168.0L520.4,172.0L521.1,187.1L521.8,182.1L522.5,184.8L523.2,190.6L523.9,190.6L524.6,181.1L525.3,189.6L526.0,184.8L526.7,181.6L527.4,181.8L528.1,171.2L528.8,174.8L529.5,181.0L530.2,186.4L530.9,182.6L531.6,185.6L532.3,194.2L533.0,198.7L533.7,196.1L534.4,196.9L535.1,186.7L535.8,185.9L536.5,188.8L537.2,185.5L537.9,185.5L538.6,196.6L539.3,186.2L540.0,181.5L540.7,191.1L541.4,199.9L542.1,191.8L542.8,195.6L543.5,185.6L544.2,183.4L544.9,182.8L545.6,187.8L546.3,198.1L547.0,183.2L547.7,194.5L548.4,180.1L549.1,182.8L549.8,188.7L550.5,186.8L551.2,181.5L551.9,169.5L552.6,178.6L553.3,174.7L554.0,193.3L554.7,178.7L555.4,176.7L556.1,168.0L556.8,170.0L557.5,167.4L558.2,180.0L558.9,174.9L559.6,177.7L560.3,170.8L561.0,172.2L561.7,181.0L562.4,168.1L563.1,162.8L563.8,174.4L564.5,168.5L565.2,173.4L565.9,181.3L566.6,173.7L567.3,181.6L568.0,175.6L568.7,187.5L569.4,186.2L570.1,174.2L570.8,172.7L571.5,169.6L572.2,176.1L572.9,181.0L573.6,168.0L574.3,178.4L575.0,167.2L575.7,169.0L576.4,168.8L577.1,192.6L577.8,185.4L578.5,185.9L579.2,182.2L579.9,190.2L580.6,175.0L581.3,187.8L582.0,200.8L582.7,186.9L583.4,186.2L584.1,187.6L584.8,178.9L585.5,182.8L586.2,188.1L586.9,184.2L587.6,184.1L588.3,180.7L589.0,185.1L589.7,186.6L590.4,195.5L591.1,191.5L591.8,183.3L592.5,171.9L593.2,189.8L593.9,191.3L594.6,179.9L595.3,172.3L596.0,178.2L596.7,190.4L597.4,181.1L598.1,184.4L598.8,190.3L599.5,196.5L600.2,189.8L600.9,188.1L601.6,187.5L602.3,200.6L603.0,197.6L603.7,188.1L604.4,178.8L605.1,182.0L605.8,189.9L606.5,184.6L607.2,192.7L607.9,190.1L608.6,188.8L609.3,189.4L610.0,186.0L610.7,177.1L611.4,180.2L612.1,193.0L612.8,173.5L613.5,175.7L614.2,184.0L614.9,177.0L615.6,171.9L616.3,170.5L617.0,183.5L617.7,190.0L618.4,193.0L619.1,186.0L619.8,189.0L620.5,177.8L621.2,182.6L621.9,179.3L622.6,185.0L623.3,189.5L624.0,190.3L624.7,179.7L625.4,189.6L626.1,179.7L626.8,174.9L627.5,177.9L628.2,171.8L628.9,179.9L629.6,182.3L630.3,179.9L631.0,182.5L631.7,177.0L632.4,176.0L633.1,167.6L633.8,174.2L634.5,170.1L635.2,172.2L635.9,174.6L636.6,174.6L637.3,163.2L638.0,163.1L638.7,171.9L639.4,178.4L640.1,179.5L640.8,183.1L641.5,184.7L642.2,178.6L642.9,172.3L643.6,164.3L644.3,163.6L645.0,167.1L645.7,172.2L646.4,172.3L647.1,170.8L647.8,170.3L648.5,174.7L649.2,173.0L649.9,173.2L650.6,172.2L651.3,166.4L652.0,164.1L652.7,173.3L653.4,174.0L654.1,170.8L654.8,171.7L655.5,185.9L656.2,170.5L656.9,171.8L657.6,174.2L658.3,168.5L659.0,178.1L659.7,190.4L660.4,187.6L661.1,185.7L661.8,185.2L662.5,183.3L663.2,187.6L663.9,181.6L664.6,180.3L665.3,184.7L666.0,190.6L666.7,188.1L667.4,187.8L668.1,175.0L668.8,194.5L669.5,204.0L670.2,197.3L670.9,184.7L671.6,179.5L672.3,184.2L673.0,178.5L673.7,186.7L674.4,181.6L675.1,189.8L675.8,191.6" fill="none" stroke="#111" stroke-width="1.5"/>
<path d="M34,140 L38.5,140 M34,179 L38.5,179 M34,216 L38.5,216 M34,611.7 L38.5,611.7" stroke="#000" stroke-width="2"/>
<g stroke="#000" stroke-width="2.4" fill="none">
<line x1="38.5" y1="140.0" x2="677.0" y2="140.0"/>
<line x1="38.5" y1="216.0" x2="677.0" y2="216.0"/>
<line x1="38.5" y1="645.0" x2="677.0" y2="645.0"/>
<line x1="38.5" y1="140.0" x2="38.5" y2="645.0"/>
<line x1="677.0" y1="140.0" x2="677.0" y2="673"/>
</g>
<g stroke="#000" stroke-width="1.4">
<line x1="40.2" y1="645.0" x2="40.2" y2="649.0"/>
<line x1="56.1" y1="645.0" x2="56.1" y2="649.0"/>
<line x1="72.0" y1="645.0" x2="72.0" y2="649.0"/>
<line x1="87.9" y1="645.0" x2="87.9" y2="649.0"/>
<line x1="103.8" y1="645.0" x2="103.8" y2="649.0"/>
<line x1="119.7" y1="645.0" x2="119.7" y2="649.0"/>
<line x1="135.6" y1="645.0" x2="135.6" y2="649.0"/>
<line x1="151.5" y1="645.0" x2="151.5" y2="649.0"/>
<line x1="167.4" y1="645.0" x2="167.4" y2="649.0"/>
<line x1="183.3" y1="645.0" x2="183.3" y2="649.0"/>
<line x1="199.2" y1="645.0" x2="199.2" y2="649.0"/>
<line x1="215.1" y1="645.0" x2="215.1" y2="649.0"/>
<line x1="231.0" y1="645.0" x2="231.0" y2="649.0"/>
<line x1="246.9" y1="645.0" x2="246.9" y2="649.0"/>
<line x1="262.8" y1="645.0" x2="262.8" y2="649.0"/>
<line x1="278.7" y1="645.0" x2="278.7" y2="649.0"/>
<line x1="294.6" y1="645.0" x2="294.6" y2="649.0"/>
<line x1="310.5" y1="645.0" x2="310.5" y2="649.0"/>
<line x1="326.4" y1="645.0" x2="326.4" y2="649.0"/>
<line x1="342.3" y1="645.0" x2="342.3" y2="649.0"/>
<line x1="358.2" y1="645.0" x2="358.2" y2="649.0"/>
<line x1="374.1" y1="645.0" x2="374.1" y2="649.0"/>
<line x1="390.0" y1="645.0" x2="390.0" y2="649.0"/>
<line x1="405.9" y1="645.0" x2="405.9" y2="649.0"/>
<line x1="421.8" y1="645.0" x2="421.8" y2="649.0"/>
<line x1="437.7" y1="645.0" x2="437.7" y2="649.0"/>
<line x1="453.6" y1="645.0" x2="453.6" y2="649.0"/>
<line x1="469.5" y1="645.0" x2="469.5" y2="649.0"/>
<line x1="485.4" y1="645.0" x2="485.4" y2="649.0"/>
<line x1="501.3" y1="645.0" x2="501.3" y2="649.0"/>
<line x1="517.2" y1="645.0" x2="517.2" y2="649.0"/>
<line x1="533.1" y1="645.0" x2="533.1" y2="649.0"/>
<line x1="549.0" y1="645.0" x2="549.0" y2="649.0"/>
<line x1="564.9" y1="645.0" x2="564.9" y2="649.0"/>
<line x1="580.8" y1="645.0" x2="580.8" y2="649.0"/>
<line x1="596.7" y1="645.0" x2="596.7" y2="649.0"/>
<line x1="612.6" y1="645.0" x2="612.6" y2="649.0"/>
<line x1="628.5" y1="645.0" x2="628.5" y2="649.0"/>
<line x1="644.4" y1="645.0" x2="644.4" y2="649.0"/>
<line x1="660.3" y1="645.0" x2="660.3" y2="649.0"/>
</g>
<g font-size="10.5" fill="#333" text-anchor="middle" style="font-family:'Liberation Sans',sans-serif">
<text x="40.2" y="662">4.2</text>
<text x="72.0" y="662">4.0</text>
<text x="103.8" y="662">3.8</text>
<text x="135.6" y="662">3.6</text>
<text x="167.4" y="662">3.4</text>
<text x="199.2" y="662">3.2</text>
<text x="231.0" y="662">3.0</text>
<text x="262.8" y="662">2.8</text>
<text x="294.6" y="662">2.6</text>
<text x="326.4" y="662">2.4</text>
<text x="358.2" y="662">2.2</text>
<text x="390.0" y="662">2.0</text>
<text x="421.8" y="662">1.8</text>
<text x="453.6" y="662">1.6</text>
<text x="485.4" y="662">1.4</text>
<text x="517.2" y="662">1.2</text>
<text x="549.0" y="662">1.0</text>
<text x="580.8" y="662">0.80</text>
<text x="612.6" y="662">0.60</text>
<text x="644.4" y="662">0.40</text>
<text x="358" y="675" font-size="9.5">Chemical Shift (ppm)</text>
</g>
<g font-size="9" fill="#444" text-anchor="middle" style="font-family:'Liberation Sans',sans-serif">
<text transform="translate(32.5,141) rotate(-90)">20</text>
<text transform="translate(32.5,179) rotate(-90)">0</text>
<text transform="translate(32.5,211) rotate(-90)">205</text>
<text transform="translate(32.5,611.7) rotate(-90)">0</text>
</g>
<g style="font-family:'Liberation Serif',serif;font-weight:bold" font-size="15" fill="#111">
<text x="55" y="276" font-size="15.9">PCr</text>
<text x="79.5" y="263" font-size="15.9">Cr</text>
<text transform="translate(118,357) rotate(-90)" font-size="15.9">Glu+Gln</text>
<text transform="translate(148,413) rotate(-90)" font-size="15.9">Myo-Ins</text>
<text x="164" y="298" font-size="15.9">Tau</text>
<text x="181" y="258" font-size="15.9">tCho</text>
<text x="233" y="233" font-size="15.9">Cr+PCr</text>
<text x="313" y="304" font-size="18.0">NAAG</text>
<text x="386" y="342" font-size="15.9">NAA</text>
<text x="325" y="403" font-size="15.9">GABA</text>
<text x="314" y="446" font-size="15.9">Glu</text>
<text transform="translate(378,472) rotate(-90)" font-size="15.9">Glu+Gln</text>
<text transform="translate(272,582) rotate(-90)" font-size="13.8">Asp</text>
<text x="270" y="529" font-size="14.8">NAA</text>
<text x="301" y="544" font-size="14.8">Gln</text>
<text transform="translate(417,571) rotate(-90)" font-size="14.8">GABA</text>
<text x="427" y="577" font-size="14.8">MM</text>
<text transform="translate(476,562) rotate(-90)" font-size="14.8">Ala</text>
<text transform="translate(494,542) rotate(-90)" font-size="14.8">Lac</text>
<text x="511" y="577" font-size="14.8">MM</text>
<text x="548" y="543" font-size="14.8">MM</text>
</g>
<g stroke="#000" stroke-width="2" fill="none">
<path d="M65.6,290 L65.6,298 L82,312"/>
<path d="M88,268 L88,312"/>
<path d="M166.5,320 L166.5,302 L191.3,302 L191.3,309"/>
<path d="M199.8,267 L199.8,322"/>
<path d="M137.6,437 L137.6,415 L147.6,415 L147.6,428"/>
<path d="M357.8,310.6 L376,332 L376,489"/>
<path d="M340.4,408.4 L350.3,433.3 L350.3,527"/>
<path d="M329,454.7 L335.4,472"/>
</g>
<rect x="290.2" y="428.3" width="42.8" height="24.9" fill="none" stroke="#e8121a" stroke-width="1.8"/>
<defs><radialGradient id="nucg" cx="0.5" cy="0.5" r="0.5"><stop offset="0" stop-color="#ffffff"/><stop offset="0.35" stop-color="#9a9ad0"/><stop offset="1" stop-color="#2e2e86"/></radialGradient><linearGradient id="mouseg" x1="0" y1="0" x2="1" y2="0"><stop offset="0" stop-color="#f4f4f4"/><stop offset="1" stop-color="#b5b5b5"/></linearGradient><linearGradient id="pnnleg" x1="0" y1="0" x2="1" y2="0"><stop offset="0" stop-color="#f6c4c4"/><stop offset="0.5" stop-color="#ea6a6a"/><stop offset="1" stop-color="#e65858"/></linearGradient></defs>
<path d="M734,2155 L734,1603.5 L243.5,1603.5 L243.5,2256 L734,2256" fill="none" stroke="#000" stroke-width="2.2"/>
<path d="M750.8,2155 L750.8,1603.5 L1240.6,1603.5 L1240.6,2256 L750.8,2256" fill="none" stroke="#000" stroke-width="2.2"/>
<path d="M357,1797 L297,1994 M443.6,1815.7 L607.5,1935.2" stroke="#000" stroke-width="2.4" stroke-dasharray="11,7" fill="none"/>
<path d="M1131.4,1792.9 L1197.5,2005.7 M1050.7,1817.3 L901.5,1925" stroke="#000" stroke-width="2.4" stroke-dasharray="11,7" fill="none"/>
<defs><linearGradient id="egL" x1="274.8" y1="0" x2="702.8" y2="0" gradientUnits="userSpaceOnUse"><stop offset="0" stop-color="#f8f9fc"/><stop offset="1" stop-color="#dfe5ef"/></linearGradient></defs>
<ellipse cx="488.8" cy="2067.7" rx="214" ry="158.3" fill="url(#egL)" stroke="#000" stroke-width="2.8" stroke-dasharray="12,7"/>
<defs><linearGradient id="egR" x1="781.9" y1="0" x2="1209.9" y2="0" gradientUnits="userSpaceOnUse"><stop offset="0" stop-color="#f8f9fc"/><stop offset="1" stop-color="#dfe5ef"/></linearGradient></defs>
<ellipse cx="995.9" cy="2068.6" rx="214" ry="158.3" fill="url(#egR)" stroke="#000" stroke-width="2.8" stroke-dasharray="12,7"/>
<defs><linearGradient id="hgL" x1="360" y1="0" x2="700" y2="0" gradientUnits="userSpaceOnUse"><stop offset="0" stop-color="#ffffff"/><stop offset="1" stop-color="#e2d4da"/></linearGradient></defs>
<path d="M357.3,1793.2 C356.4,1785.7 356.7,1777.1 359.0,1765.6 C361.3,1754.1 365.5,1736.1 371.0,1724.0 C376.5,1711.9 381.5,1704.5 391.8,1693.0 C402.1,1681.5 418.1,1664.8 433.0,1655.0 C447.9,1645.2 463.1,1638.8 481.5,1634.5 C499.9,1630.2 523.6,1629.0 543.7,1629.3 C563.8,1629.6 583.9,1632.5 602.3,1636.2 C620.7,1640.0 639.6,1645.2 654.0,1651.8 C668.4,1658.4 680.5,1667.7 688.6,1676.0 C696.7,1684.3 701.0,1694.0 702.4,1701.8 C703.8,1709.5 698.4,1714.7 697.2,1722.5 C696.1,1730.3 696.4,1740.1 695.5,1748.4 C694.6,1756.7 695.5,1765.6 692.0,1772.5 C688.5,1779.4 686.9,1786.9 674.8,1789.8 C662.7,1792.7 640.3,1790.1 619.6,1789.8 C598.9,1789.5 573.6,1786.3 550.6,1788.0 C527.6,1789.7 501.1,1795.1 481.5,1800.0 C461.9,1804.9 448.5,1813.9 433.0,1817.4 C417.5,1820.9 399.9,1822.0 388.4,1820.8 C376.9,1819.6 369.4,1815.1 364.2,1810.5 C359.0,1805.9 358.2,1800.7 357.3,1793.2Z" fill="url(#hgL)" stroke="#000" stroke-width="3"/>
<path d="M405.6,1731.0 C411.3,1725.0 427.4,1704.8 440.0,1695.0 C452.6,1685.2 468.2,1678.3 481.5,1672.5 C494.8,1666.7 509.4,1662.9 520.0,1660.0 C530.6,1657.1 538.3,1655.8 545.0,1655.0 C551.7,1654.2 552.7,1652.7 560.0,1655.5 C567.3,1658.3 580.0,1666.7 588.7,1672.0 C597.4,1677.3 603.7,1683.0 612.0,1687.4 C620.3,1691.8 629.2,1695.9 638.4,1698.5 C647.6,1701.1 662.2,1702.1 667.0,1702.8" fill="none" stroke="#000" stroke-width="3" stroke-dasharray="13,8"/>
<path d="M488.4,1731.0 C492.8,1729.2 505.8,1723.0 515.0,1720.0 C524.2,1717.0 535.3,1713.7 543.7,1713.2 C552.1,1712.7 559.5,1715.0 565.5,1717.0 C571.5,1719.0 573.5,1721.7 580.0,1725.4 C586.5,1729.1 595.8,1735.4 604.2,1739.3 C612.7,1743.2 622.4,1746.2 630.7,1748.6 C639.0,1751.0 649.3,1752.0 654.0,1753.6 C658.7,1755.2 658.2,1757.3 659.0,1758.0" fill="none" stroke="#000" stroke-width="3" stroke-dasharray="13,8"/>
<path d="M412.5,1795.0 C418.2,1793.5 434.4,1790.6 447.0,1786.3 C459.6,1782.0 474.0,1773.5 488.4,1769.0 C502.8,1764.5 521.4,1760.5 533.3,1759.4 C545.2,1758.3 550.6,1761.2 560.0,1762.4 C569.4,1763.6 581.3,1765.7 589.8,1766.8 C598.3,1767.9 604.0,1769.0 610.8,1769.0 C617.6,1769.0 624.6,1767.9 630.7,1766.8 C636.8,1765.7 644.5,1763.1 647.3,1762.4" fill="none" stroke="#000" stroke-width="3" stroke-dasharray="13,8"/>
<defs><linearGradient id="hgR" x1="1125" y1="0" x2="785" y2="0" gradientUnits="userSpaceOnUse"><stop offset="0" stop-color="#ffffff"/><stop offset="1" stop-color="#e2d4da"/></linearGradient></defs>
<path d="M1127.7,1793.2 C1128.6,1785.7 1128.3,1777.1 1126.0,1765.6 C1123.7,1754.1 1119.5,1736.1 1114.0,1724.0 C1108.5,1711.9 1103.5,1704.5 1093.2,1693.0 C1082.9,1681.5 1067.0,1664.8 1052.0,1655.0 C1037.0,1645.2 1022.0,1638.8 1003.5,1634.5 C985.0,1630.2 961.4,1629.0 941.3,1629.3 C921.2,1629.6 901.1,1632.5 882.7,1636.2 C864.3,1640.0 845.4,1645.2 831.0,1651.8 C816.6,1658.4 804.5,1667.7 796.4,1676.0 C788.3,1684.3 784.0,1694.0 782.6,1701.8 C781.2,1709.5 786.6,1714.7 787.8,1722.5 C788.9,1730.3 788.6,1740.1 789.5,1748.4 C790.4,1756.7 789.5,1765.6 793.0,1772.5 C796.5,1779.4 798.1,1786.9 810.2,1789.8 C822.3,1792.7 844.7,1790.1 865.4,1789.8 C886.1,1789.5 911.4,1786.3 934.4,1788.0 C957.4,1789.7 983.9,1795.1 1003.5,1800.0 C1023.1,1804.9 1036.5,1813.9 1052.0,1817.4 C1067.5,1820.9 1085.1,1822.0 1096.6,1820.8 C1108.1,1819.6 1115.6,1815.1 1120.8,1810.5 C1126.0,1805.9 1126.8,1800.7 1127.7,1793.2Z" fill="url(#hgR)" stroke="#000" stroke-width="3"/>
<path d="M1079.4,1731.0 C1073.7,1725.0 1057.7,1704.8 1045.0,1695.0 C1032.3,1685.2 1016.8,1678.3 1003.5,1672.5 C990.2,1666.7 975.6,1662.9 965.0,1660.0 C954.4,1657.1 946.7,1655.8 940.0,1655.0 C933.3,1654.2 932.3,1652.7 925.0,1655.5 C917.7,1658.3 905.0,1666.7 896.3,1672.0 C887.6,1677.3 881.3,1683.0 873.0,1687.4 C864.7,1691.8 855.8,1695.9 846.6,1698.5 C837.4,1701.1 822.8,1702.1 818.0,1702.8" fill="none" stroke="#000" stroke-width="3" stroke-dasharray="13,8"/>
<path d="M996.6,1731.0 C992.2,1729.2 979.2,1723.0 970.0,1720.0 C960.8,1717.0 949.7,1713.7 941.3,1713.2 C932.9,1712.7 925.5,1715.0 919.5,1717.0 C913.5,1719.0 911.5,1721.7 905.0,1725.4 C898.5,1729.1 889.2,1735.4 880.8,1739.3 C872.3,1743.2 862.6,1746.2 854.3,1748.6 C846.0,1751.0 835.7,1752.0 831.0,1753.6 C826.3,1755.2 826.8,1757.3 826.0,1758.0" fill="none" stroke="#000" stroke-width="3" stroke-dasharray="13,8"/>
<path d="M1072.5,1795.0 C1066.8,1793.5 1050.7,1790.6 1038.0,1786.3 C1025.3,1782.0 1011.0,1773.5 996.6,1769.0 C982.2,1764.5 963.6,1760.5 951.7,1759.4 C939.8,1758.3 934.4,1761.2 925.0,1762.4 C915.6,1763.6 903.7,1765.7 895.2,1766.8 C886.7,1767.9 881.0,1769.0 874.2,1769.0 C867.4,1769.0 860.4,1767.9 854.3,1766.8 C848.2,1765.7 840.5,1763.1 837.7,1762.4" fill="none" stroke="#000" stroke-width="3" stroke-dasharray="13,8"/>
<g transform="translate(380.6,1721.0) rotate(15) scale(0.8)"><path d="M3,-11 L10,-26 M-1,12 L-2,31 M-8,-1 L-19,-4 M8,1 L13,2" stroke="#6d8ea6" stroke-width="3.4" stroke-linecap="round" fill="none"/><path d="M3,-11 L10,-26 M-1,12 L-2,31 M-8,-1 L-19,-4 M8,1 L13,2" stroke="#bfe0f3" stroke-width="2.1" stroke-linecap="round" fill="none"/><ellipse cx="0" cy="0.5" rx="11" ry="15" fill="none" stroke="#ee7777" stroke-width="2.2" stroke-dasharray="3.5,2.5" opacity="0.8"/><path d="M2,-15 C8,-9 10,-3 9.5,3 C9,9 4,13 0,16 C-4,13 -9,9 -9.5,3 C-10,-4 -5,-10 2,-15Z" fill="#bcdff3" stroke="#56778f" stroke-width="0.8"/><ellipse cx="0" cy="1" rx="5.2" ry="8" fill="#d9ebd9"/><rect x="-6" y="-0.5" width="12" height="1.2" fill="#444" opacity="0.45"/></g>
<g transform="translate(368.2,1748.0) rotate(12) scale(1.0)"><path d="M3,-11 L10,-26 M-1,12 L-2,31 M-8,-1 L-19,-4 M8,1 L13,2" stroke="#6d8ea6" stroke-width="3.4" stroke-linecap="round" fill="none"/><path d="M3,-11 L10,-26 M-1,12 L-2,31 M-8,-1 L-19,-4 M8,1 L13,2" stroke="#bfe0f3" stroke-width="2.1" stroke-linecap="round" fill="none"/><ellipse cx="0" cy="0.5" rx="11" ry="15" fill="none" stroke="#ee7777" stroke-width="2.2" stroke-dasharray="3.5,2.5" opacity="0.8"/><path d="M2,-15 C8,-9 10,-3 9.5,3 C9,9 4,13 0,16 C-4,13 -9,9 -9.5,3 C-10,-4 -5,-10 2,-15Z" fill="#bcdff3" stroke="#56778f" stroke-width="0.8"/><ellipse cx="0" cy="1" rx="5.2" ry="8" fill="#d9ebd9"/><rect x="-6" y="-0.5" width="12" height="1.2" fill="#444" opacity="0.45"/></g>
<g transform="translate(397.1,1756.3) rotate(12) scale(1.0)"><path d="M3,-11 L10,-26 M-1,12 L-2,31 M-8,-1 L-19,-4 M8,1 L13,2" stroke="#6d8ea6" stroke-width="3.4" stroke-linecap="round" fill="none"/><path d="M3,-11 L10,-26 M-1,12 L-2,31 M-8,-1 L-19,-4 M8,1 L13,2" stroke="#bfe0f3" stroke-width="2.1" stroke-linecap="round" fill="none"/><ellipse cx="0" cy="0.5" rx="11" ry="15" fill="none" stroke="#ee7777" stroke-width="2.2" stroke-dasharray="3.5,2.5" opacity="0.8"/><path d="M2,-15 C8,-9 10,-3 9.5,3 C9,9 4,13 0,16 C-4,13 -9,9 -9.5,3 C-10,-4 -5,-10 2,-15Z" fill="#bcdff3" stroke="#56778f" stroke-width="0.8"/><ellipse cx="0" cy="1" rx="5.2" ry="8" fill="#d9ebd9"/><rect x="-6" y="-0.5" width="12" height="1.2" fill="#444" opacity="0.45"/></g>
<g transform="translate(407.0,1781.0) rotate(12) scale(1.0)"><path d="M3,-11 L10,-26 M-1,12 L-2,31 M-8,-1 L-19,-4 M8,1 L13,2" stroke="#6d8ea6" stroke-width="3.4" stroke-linecap="round" fill="none"/><path d="M3,-11 L10,-26 M-1,12 L-2,31 M-8,-1 L-19,-4 M8,1 L13,2" stroke="#bfe0f3" stroke-width="2.1" stroke-linecap="round" fill="none"/><ellipse cx="0" cy="0.5" rx="11" ry="15" fill="none" stroke="#ee7777" stroke-width="2.2" stroke-dasharray="3.5,2.5" opacity="0.8"/><path d="M2,-15 C8,-9 10,-3 9.5,3 C9,9 4,13 0,16 C-4,13 -9,9 -9.5,3 C-10,-4 -5,-10 2,-15Z" fill="#bcdff3" stroke="#56778f" stroke-width="0.8"/><ellipse cx="0" cy="1" rx="5.2" ry="8" fill="#d9ebd9"/><rect x="-6" y="-0.5" width="12" height="1.2" fill="#444" opacity="0.45"/></g>
<g transform="translate(379.8,1791.9) rotate(12) scale(1.0)"><path d="M3,-11 L10,-26 M-1,12 L-2,31 M-8,-1 L-19,-4 M8,1 L13,2" stroke="#6d8ea6" stroke-width="3.4" stroke-linecap="round" fill="none"/><path d="M3,-11 L10,-26 M-1,12 L-2,31 M-8,-1 L-19,-4 M8,1 L13,2" stroke="#bfe0f3" stroke-width="2.1" stroke-linecap="round" fill="none"/><ellipse cx="0" cy="0.5" rx="11" ry="15" fill="none" stroke="#ee7777" stroke-width="2.2" stroke-dasharray="3.5,2.5" opacity="0.8"/><path d="M2,-15 C8,-9 10,-3 9.5,3 C9,9 4,13 0,16 C-4,13 -9,9 -9.5,3 C-10,-4 -5,-10 2,-15Z" fill="#bcdff3" stroke="#56778f" stroke-width="0.8"/><ellipse cx="0" cy="1" rx="5.2" ry="8" fill="#d9ebd9"/><rect x="-6" y="-0.5" width="12" height="1.2" fill="#444" opacity="0.45"/></g>
<g transform="translate(414.5,1808.4) rotate(-70) scale(1.0)"><path d="M3,-11 L10,-26 M-1,12 L-2,31 M-8,-1 L-19,-4 M8,1 L13,2" stroke="#6d8ea6" stroke-width="3.4" stroke-linecap="round" fill="none"/><path d="M3,-11 L10,-26 M-1,12 L-2,31 M-8,-1 L-19,-4 M8,1 L13,2" stroke="#bfe0f3" stroke-width="2.1" stroke-linecap="round" fill="none"/><ellipse cx="0" cy="0.5" rx="11" ry="15" fill="none" stroke="#ee7777" stroke-width="2.2" stroke-dasharray="3.5,2.5" opacity="0.8"/><path d="M2,-15 C8,-9 10,-3 9.5,3 C9,9 4,13 0,16 C-4,13 -9,9 -9.5,3 C-10,-4 -5,-10 2,-15Z" fill="#bcdff3" stroke="#56778f" stroke-width="0.8"/><ellipse cx="0" cy="1" rx="5.2" ry="8" fill="#d9ebd9"/><rect x="-6" y="-0.5" width="12" height="1.2" fill="#444" opacity="0.45"/></g>
<g transform="translate(1109.4,1721.0) rotate(12) scale(0.9)"><path d="M3,-11 L10,-26 M-1,12 L-2,31 M-8,-1 L-19,-4 M8,1 L13,2" stroke="#6d8ea6" stroke-width="3.4" stroke-linecap="round" fill="none"/><path d="M3,-11 L10,-26 M-1,12 L-2,31 M-8,-1 L-19,-4 M8,1 L13,2" stroke="#bfe0f3" stroke-width="2.1" stroke-linecap="round" fill="none"/><ellipse cx="0" cy="0.5" rx="11" ry="15" fill="none" stroke="#ee7777" stroke-width="2.2" stroke-dasharray="3.5,2.5" opacity="0.8"/><path d="M2,-15 C8,-9 10,-3 9.5,3 C9,9 4,13 0,16 C-4,13 -9,9 -9.5,3 C-10,-4 -5,-10 2,-15Z" fill="#bcdff3" stroke="#56778f" stroke-width="0.8"/><ellipse cx="0" cy="1" rx="5.2" ry="8" fill="#d9ebd9"/><rect x="-6" y="-0.5" width="12" height="1.2" fill="#444" opacity="0.45"/></g>
<g transform="translate(1092.3,1756.0) rotate(12) scale(0.95)"><path d="M3,-11 L10,-26 M-1,12 L-2,31 M-8,-1 L-19,-4 M8,1 L13,2" stroke="#6d8ea6" stroke-width="3.4" stroke-linecap="round" fill="none"/><path d="M3,-11 L10,-26 M-1,12 L-2,31 M-8,-1 L-19,-4 M8,1 L13,2" stroke="#bfe0f3" stroke-width="2.1" stroke-linecap="round" fill="none"/><ellipse cx="0" cy="0.5" rx="11" ry="15" fill="none" stroke="#ee7777" stroke-width="2.2" stroke-dasharray="3.5,2.5" opacity="0.8"/><path d="M2,-15 C8,-9 10,-3 9.5,3 C9,9 4,13 0,16 C-4,13 -9,9 -9.5,3 C-10,-4 -5,-10 2,-15Z" fill="#bcdff3" stroke="#56778f" stroke-width="0.8"/><ellipse cx="0" cy="1" rx="5.2" ry="8" fill="#d9ebd9"/><rect x="-6" y="-0.5" width="12" height="1.2" fill="#444" opacity="0.45"/></g>
<g transform="translate(1119.2,1758.6) rotate(12) scale(0.95)"><path d="M3,-11 L10,-26 M-1,12 L-2,31 M-8,-1 L-19,-4 M8,1 L13,2" stroke="#6d8ea6" stroke-width="3.4" stroke-linecap="round" fill="none"/><path d="M3,-11 L10,-26 M-1,12 L-2,31 M-8,-1 L-19,-4 M8,1 L13,2" stroke="#bfe0f3" stroke-width="2.1" stroke-linecap="round" fill="none"/><ellipse cx="0" cy="0.5" rx="11" ry="15" fill="none" stroke="#ee7777" stroke-width="2.2" stroke-dasharray="3.5,2.5" opacity="0.8"/><path d="M2,-15 C8,-9 10,-3 9.5,3 C9,9 4,13 0,16 C-4,13 -9,9 -9.5,3 C-10,-4 -5,-10 2,-15Z" fill="#bcdff3" stroke="#56778f" stroke-width="0.8"/><ellipse cx="0" cy="1" rx="5.2" ry="8" fill="#d9ebd9"/><rect x="-6" y="-0.5" width="12" height="1.2" fill="#444" opacity="0.45"/></g>
<g transform="translate(1082.5,1778.2) rotate(12) scale(0.95)"><path d="M3,-11 L10,-26 M-1,12 L-2,31 M-8,-1 L-19,-4 M8,1 L13,2" stroke="#6d8ea6" stroke-width="3.4" stroke-linecap="round" fill="none"/><path d="M3,-11 L10,-26 M-1,12 L-2,31 M-8,-1 L-19,-4 M8,1 L13,2" stroke="#bfe0f3" stroke-width="2.1" stroke-linecap="round" fill="none"/><ellipse cx="0" cy="0.5" rx="11" ry="15" fill="none" stroke="#ee7777" stroke-width="2.2" stroke-dasharray="3.5,2.5" opacity="0.8"/><path d="M2,-15 C8,-9 10,-3 9.5,3 C9,9 4,13 0,16 C-4,13 -9,9 -9.5,3 C-10,-4 -5,-10 2,-15Z" fill="#bcdff3" stroke="#56778f" stroke-width="0.8"/><ellipse cx="0" cy="1" rx="5.2" ry="8" fill="#d9ebd9"/><rect x="-6" y="-0.5" width="12" height="1.2" fill="#444" opacity="0.45"/></g>
<g transform="translate(1107.0,1790.4) rotate(12) scale(0.95)"><path d="M3,-11 L10,-26 M-1,12 L-2,31 M-8,-1 L-19,-4 M8,1 L13,2" stroke="#6d8ea6" stroke-width="3.4" stroke-linecap="round" fill="none"/><path d="M3,-11 L10,-26 M-1,12 L-2,31 M-8,-1 L-19,-4 M8,1 L13,2" stroke="#bfe0f3" stroke-width="2.1" stroke-linecap="round" fill="none"/><ellipse cx="0" cy="0.5" rx="11" ry="15" fill="none" stroke="#ee7777" stroke-width="2.2" stroke-dasharray="3.5,2.5" opacity="0.8"/><path d="M2,-15 C8,-9 10,-3 9.5,3 C9,9 4,13 0,16 C-4,13 -9,9 -9.5,3 C-10,-4 -5,-10 2,-15Z" fill="#bcdff3" stroke="#56778f" stroke-width="0.8"/><ellipse cx="0" cy="1" rx="5.2" ry="8" fill="#d9ebd9"/><rect x="-6" y="-0.5" width="12" height="1.2" fill="#444" opacity="0.45"/></g>
<g transform="translate(1082.5,1810.0) rotate(-70) scale(0.95)"><path d="M3,-11 L10,-26 M-1,12 L-2,31 M-8,-1 L-19,-4 M8,1 L13,2" stroke="#6d8ea6" stroke-width="3.4" stroke-linecap="round" fill="none"/><path d="M3,-11 L10,-26 M-1,12 L-2,31 M-8,-1 L-19,-4 M8,1 L13,2" stroke="#bfe0f3" stroke-width="2.1" stroke-linecap="round" fill="none"/><ellipse cx="0" cy="0.5" rx="11" ry="15" fill="none" stroke="#ee7777" stroke-width="2.2" stroke-dasharray="3.5,2.5" opacity="0.8"/><path d="M2,-15 C8,-9 10,-3 9.5,3 C9,9 4,13 0,16 C-4,13 -9,9 -9.5,3 C-10,-4 -5,-10 2,-15Z" fill="#bcdff3" stroke="#56778f" stroke-width="0.8"/><ellipse cx="0" cy="1" rx="5.2" ry="8" fill="#d9ebd9"/><rect x="-6" y="-0.5" width="12" height="1.2" fill="#444" opacity="0.45"/></g>
<text x="264" y="1694" font-size="17" letter-spacing="0.8" fill="#111" style="font-family:'Liberation Sans',sans-serif;font-weight:bold">PNN+ cells</text>
<path d="M366.5,1698 L366.5,1686" stroke="#111" stroke-width="1.5"/><path d="M363.8,1687.5 L366.5,1680.5 L369.2,1687.5Z" fill="#111"/>
<text x="1119" y="1694" font-size="17" letter-spacing="0.8" fill="#111" style="font-family:'Liberation Sans',sans-serif;font-weight:bold">PNN+ cells</text>
<path d="M1222,1678 L1222,1692" stroke="#f20c0c" stroke-width="1.6"/><path d="M1218.5,1690 L1222,1697 L1225.5,1690Z" fill="#f20c0c"/>
<g transform="translate(0,0)">
<path d="M545.5,2075.2 L544.9,2073.4 L544.1,2071.1 L543.2,2068.8 L542.1,2066.3 L541.0,2063.7 L539.8,2061.1 L538.7,2058.5 L537.6,2055.9 L536.7,2053.5 L535.9,2051.4 L535.2,2049.7 L535.0,2048.5 L535.0,2047.4 L535.2,2046.2 L535.5,2045.0 L535.8,2043.8 L536.3,2042.6 L536.9,2041.3 L537.6,2040.0 L538.4,2038.8 L539.3,2037.5 L540.3,2036.1 L541.4,2034.8 L542.4,2033.6 L543.3,2032.4 L544.3,2031.4 L545.2,2030.4 L546.2,2029.6 L547.3,2028.8 L548.5,2028.0 L549.7,2027.2 L551.0,2026.5 L552.4,2025.7 L553.9,2025.0 L555.5,2024.2 L557.3,2023.4 L559.1,2022.7 L561.0,2021.9 L563.0,2021.2 L565.0,2020.5 L567.2,2019.8 L569.4,2019.2 L571.7,2018.6 L574.2,2018.1 L576.7,2017.5 L579.3,2017.0 L582.0,2016.5 L584.8,2016.0 L587.8,2015.6 L591.2,2015.1 L594.9,2014.7 L598.8,2014.2 L602.8,2013.8 L606.8,2013.4 L610.7,2013.0 L614.4,2012.7 L617.8,2012.3 L620.8,2012.0 L623.4,2011.8 L625.4,2011.6 L627.8,2008.5 L625.0,2005.9 L623.0,2005.9 L620.5,2006.0 L617.4,2006.1 L614.0,2006.1 L610.2,2006.2 L606.3,2006.3 L602.3,2006.5 L598.2,2006.6 L594.3,2006.8 L590.5,2007.0 L586.9,2007.2 L583.7,2007.5 L580.8,2007.8 L577.9,2008.1 L575.2,2008.4 L572.5,2008.8 L569.9,2009.2 L567.4,2009.6 L564.9,2009.9 L562.5,2010.3 L560.2,2010.7 L557.9,2011.2 L555.7,2011.7 L553.5,2012.2 L551.4,2012.8 L549.5,2013.3 L547.6,2013.9 L545.7,2014.6 L543.9,2015.3 L542.1,2016.0 L540.4,2016.8 L538.7,2017.7 L537.0,2018.7 L535.3,2019.7 L533.6,2020.7 L532.0,2021.8 L530.4,2022.9 L528.8,2024.1 L527.2,2025.3 L525.5,2026.6 L523.8,2028.1 L522.1,2029.7 L520.5,2031.5 L518.9,2033.5 L517.4,2035.6 L515.9,2037.9 L514.7,2040.5 L513.5,2043.4 L512.5,2046.5 L511.3,2049.8 L510.3,2053.2 L509.4,2056.6 L508.6,2060.0 L507.9,2063.4 L507.2,2066.6 L506.6,2069.6 L506.0,2072.3 L505.5,2074.6 L505.0,2076.2 L504.6,2077.4Z" fill="#fdf5cc" stroke="#2a2820" stroke-width="1.5" stroke-linejoin="round"/>
<path d="M624.3,2011.0 L624.9,2010.6 L625.7,2010.1 L626.7,2009.5 L627.8,2008.7 L629.1,2008.0 L630.3,2007.1 L631.6,2006.2 L632.9,2005.3 L634.2,2004.4 L635.3,2003.4 L636.3,2002.5 L637.2,2001.5 L638.0,2000.5 L638.5,1999.3 L639.0,1998.2 L639.3,1997.1 L639.6,1995.9 L639.8,1994.8 L639.9,1993.8 L640.0,1992.8 L640.1,1991.9 L640.1,1991.1 L640.2,1990.5 L640.3,1990.0 L639.2,1988.5 L637.5,1989.4 L637.4,1990.0 L637.2,1990.7 L637.1,1991.5 L637.0,1992.4 L636.8,1993.3 L636.6,1994.2 L636.4,1995.2 L636.1,1996.1 L635.8,1997.0 L635.4,1997.9 L635.0,1998.6 L634.5,1999.2 L633.9,1999.8 L633.0,2000.5 L631.9,2001.2 L630.7,2001.9 L629.4,2002.6 L628.1,2003.3 L626.8,2003.9 L625.5,2004.5 L624.3,2005.1 L623.2,2005.6 L622.3,2006.1 L621.6,2006.4Z" fill="#fdf5cc" stroke="#2a2820" stroke-width="1.5" stroke-linejoin="round"/>
<path d="M627.6,2010.1 L628.7,2009.6 L630.1,2009.0 L631.8,2008.2 L633.8,2007.4 L635.9,2006.4 L638.1,2005.5 L640.2,2004.6 L642.3,2003.6 L644.3,2002.8 L646.0,2002.0 L647.5,2001.4 L648.5,2000.9 L649.2,1999.1 L647.5,1998.3 L646.4,1998.7 L644.9,1999.2 L643.1,1999.8 L641.1,2000.5 L638.9,2001.3 L636.7,2002.1 L634.5,2002.9 L632.3,2003.6 L630.3,2004.3 L628.5,2004.9 L627.0,2005.5 L625.9,2005.9Z" fill="#fdf5cc" stroke="#2a2820" stroke-width="1.5" stroke-linejoin="round"/>
<path d="M625.9,2009.5 L626.1,2009.9 L626.4,2010.4 L626.8,2011.0 L627.2,2011.7 L627.6,2012.4 L628.0,2013.2 L628.5,2014.0 L628.9,2014.7 L629.3,2015.4 L629.7,2016.0 L630.0,2016.5 L630.2,2016.9 L631.8,2017.3 L632.4,2015.8 L632.2,2015.4 L632.0,2014.8 L631.8,2014.2 L631.5,2013.4 L631.1,2012.6 L630.8,2011.8 L630.5,2011.0 L630.1,2010.2 L629.8,2009.5 L629.6,2008.8 L629.3,2008.3 L629.2,2007.9Z" fill="#fdf5cc" stroke="#2a2820" stroke-width="1.5" stroke-linejoin="round"/>
<path d="M633.7,2002.5 L633.6,2001.7 L633.5,2000.7 L633.3,1999.6 L633.1,1998.2 L632.9,1996.8 L632.7,1995.3 L632.5,1993.8 L632.3,1992.4 L632.2,1991.0 L632.0,1989.8 L631.9,1988.8 L631.8,1988.1 L630.4,1987.1 L629.3,1988.3 L629.4,1989.1 L629.5,1990.1 L629.6,1991.3 L629.7,1992.6 L629.8,1994.1 L629.9,1995.6 L630.0,1997.1 L630.1,1998.5 L630.2,1999.9 L630.3,2001.1 L630.4,2002.1 L630.4,2002.8Z" fill="#fdf5cc" stroke="#2a2820" stroke-width="1.5" stroke-linejoin="round"/>
<path d="M516.3,2074.9 L515.0,2075.1 L513.4,2075.3 L511.5,2075.5 L509.4,2075.7 L507.2,2076.0 L504.8,2076.3 L502.4,2076.6 L499.9,2076.9 L497.4,2077.1 L495.0,2077.3 L492.7,2077.5 L490.6,2077.6 L488.5,2077.4 L486.3,2077.2 L484.0,2076.9 L481.6,2076.7 L479.3,2076.3 L477.0,2076.0 L474.8,2075.7 L472.7,2075.4 L470.7,2075.1 L469.0,2074.8 L467.5,2074.6 L466.3,2074.4 L463.5,2076.6 L465.3,2079.7 L466.4,2080.0 L467.9,2080.3 L469.5,2080.8 L471.4,2081.3 L473.5,2081.9 L475.7,2082.4 L478.0,2083.0 L480.3,2083.6 L482.7,2084.2 L485.1,2084.7 L487.4,2085.2 L489.6,2085.6 L491.9,2086.2 L494.2,2086.8 L496.7,2087.4 L499.2,2087.9 L501.8,2088.5 L504.2,2089.0 L506.6,2089.5 L508.9,2089.9 L511.0,2090.4 L512.8,2090.7 L514.3,2091.0 L515.5,2091.3Z" fill="#fdf5cc" stroke="#2a2820" stroke-width="1.5" stroke-linejoin="round"/>
<path d="M479.9,2079.9 L479.0,2080.4 L477.9,2081.0 L476.5,2081.6 L474.8,2082.4 L473.1,2083.2 L471.3,2084.1 L469.4,2085.0 L467.6,2086.0 L465.9,2087.0 L464.3,2088.1 L462.8,2089.1 L461.6,2090.2 L460.5,2091.4 L459.7,2092.7 L459.1,2094.1 L458.6,2095.4 L458.2,2096.8 L457.9,2098.2 L457.7,2099.4 L457.5,2100.6 L457.3,2101.7 L457.2,2102.7 L457.1,2103.4 L456.9,2104.0 L457.9,2105.5 L459.5,2104.7 L459.7,2104.0 L459.9,2103.2 L460.1,2102.2 L460.3,2101.1 L460.6,2100.0 L460.8,2098.8 L461.2,2097.7 L461.6,2096.5 L462.1,2095.4 L462.6,2094.4 L463.3,2093.5 L464.0,2092.7 L464.9,2092.0 L466.2,2091.2 L467.7,2090.4 L469.4,2089.6 L471.2,2088.9 L473.1,2088.1 L474.9,2087.4 L476.7,2086.8 L478.3,2086.2 L479.8,2085.7 L481.1,2085.2 L482.1,2084.8Z" fill="#fdf5cc" stroke="#2a2820" stroke-width="1.5" stroke-linejoin="round"/>
<path d="M467.3,2091.8 L467.1,2092.5 L466.8,2093.6 L466.5,2094.9 L466.1,2096.3 L465.7,2097.8 L465.2,2099.4 L464.8,2101.0 L464.4,2102.5 L464.0,2104.0 L463.7,2105.2 L463.4,2106.3 L463.2,2107.1 L464.0,2108.4 L465.4,2107.7 L465.6,2107.0 L466.0,2105.9 L466.4,2104.7 L466.9,2103.3 L467.4,2101.8 L467.9,2100.2 L468.4,2098.7 L468.9,2097.2 L469.4,2095.8 L469.8,2094.5 L470.2,2093.5 L470.4,2092.7Z" fill="#fdf5cc" stroke="#2a2820" stroke-width="1.5" stroke-linejoin="round"/>
<path d="M512.2,2091.7 L511.3,2092.4 L510.0,2093.3 L508.4,2094.3 L506.6,2095.5 L504.5,2096.8 L502.4,2098.2 L500.2,2099.6 L498.0,2101.2 L495.9,2102.7 L493.8,2104.3 L491.9,2106.0 L490.2,2107.5 L488.8,2108.9 L487.4,2110.3 L486.2,2111.6 L484.9,2112.9 L483.7,2114.4 L482.6,2115.8 L481.6,2117.4 L480.7,2119.1 L479.8,2120.9 L479.0,2122.7 L478.3,2124.7 L477.7,2126.9 L477.2,2129.4 L476.8,2132.2 L476.6,2135.2 L476.5,2138.3 L476.5,2141.6 L476.6,2144.8 L476.7,2147.9 L476.8,2150.9 L476.9,2153.6 L477.0,2156.1 L477.0,2158.1 L477.0,2159.7 L477.9,2160.6 L478.9,2159.9 L479.1,2158.3 L479.4,2156.2 L479.7,2153.8 L480.1,2151.0 L480.4,2148.1 L480.9,2145.0 L481.3,2141.9 L481.8,2138.9 L482.4,2135.9 L483.0,2133.2 L483.6,2130.8 L484.3,2128.9 L485.0,2127.2 L485.7,2125.7 L486.5,2124.3 L487.3,2123.0 L488.1,2121.9 L489.0,2120.8 L490.0,2119.8 L491.0,2118.8 L492.1,2117.8 L493.4,2116.9 L494.7,2115.8 L496.1,2114.9 L497.6,2114.0 L499.4,2113.2 L501.4,2112.4 L503.6,2111.6 L505.9,2110.8 L508.2,2110.0 L510.5,2109.3 L512.7,2108.6 L514.7,2108.0 L516.6,2107.4 L518.3,2106.8 L519.6,2106.4Z" fill="#fdf5cc" stroke="#2a2820" stroke-width="1.5" stroke-linejoin="round"/>
<path d="M489.7,2113.5 L488.6,2113.8 L487.0,2114.1 L485.1,2114.5 L483.0,2114.9 L480.8,2115.4 L478.4,2115.9 L476.1,2116.4 L473.8,2116.9 L471.7,2117.3 L469.8,2117.7 L468.3,2118.0 L467.1,2118.2 L466.1,2119.8 L467.5,2120.9 L468.7,2120.7 L470.3,2120.5 L472.2,2120.3 L474.3,2120.0 L476.6,2119.7 L479.0,2119.4 L481.4,2119.1 L483.7,2118.8 L485.8,2118.6 L487.7,2118.3 L489.3,2118.1 L490.5,2118.0Z" fill="#fdf5cc" stroke="#2a2820" stroke-width="1.5" stroke-linejoin="round"/>
<path d="M479.2,2131.3 L478.0,2131.6 L476.3,2132.2 L474.3,2132.8 L472.0,2133.5 L469.6,2134.2 L467.0,2135.0 L464.5,2135.8 L462.1,2136.5 L459.8,2137.2 L457.8,2137.9 L456.1,2138.4 L454.8,2138.8 L454.0,2140.4 L455.5,2141.3 L456.8,2141.0 L458.5,2140.6 L460.6,2140.1 L462.9,2139.5 L465.4,2138.9 L467.9,2138.3 L470.5,2137.6 L473.0,2137.0 L475.3,2136.4 L477.3,2135.9 L479.1,2135.5 L480.3,2135.2Z" fill="#fdf5cc" stroke="#2a2820" stroke-width="1.5" stroke-linejoin="round"/>
<path d="M472.5,2135.2 L471.8,2136.0 L471.0,2137.0 L470.0,2138.2 L468.9,2139.6 L467.7,2141.0 L466.4,2142.6 L465.2,2144.1 L464.0,2145.6 L462.9,2147.0 L461.9,2148.2 L461.0,2149.2 L460.4,2149.9 L460.6,2151.5 L462.1,2151.4 L462.8,2150.7 L463.7,2149.7 L464.7,2148.6 L465.9,2147.2 L467.2,2145.8 L468.5,2144.4 L469.9,2142.9 L471.1,2141.5 L472.3,2140.2 L473.4,2139.0 L474.3,2138.1 L474.9,2137.3Z" fill="#fdf5cc" stroke="#2a2820" stroke-width="1.5" stroke-linejoin="round"/>
<path d="M528.0,2101.4 L528.4,2103.0 L528.9,2105.1 L529.5,2107.6 L530.1,2110.4 L530.8,2113.4 L531.5,2116.6 L532.2,2119.8 L533.0,2123.1 L533.7,2126.2 L534.3,2129.3 L534.9,2132.0 L535.4,2134.5 L535.9,2136.7 L536.3,2138.7 L536.7,2140.7 L537.0,2142.5 L537.4,2144.3 L537.8,2146.0 L538.2,2147.7 L538.6,2149.4 L539.1,2151.0 L539.7,2152.7 L540.4,2154.4 L541.1,2156.1 L542.0,2157.9 L543.1,2159.8 L544.3,2161.6 L545.5,2163.5 L546.8,2165.3 L548.2,2167.1 L549.4,2168.7 L550.7,2170.3 L551.8,2171.7 L552.8,2173.0 L553.7,2174.1 L554.3,2175.0 L556.1,2175.2 L556.5,2173.5 L555.9,2172.5 L555.2,2171.3 L554.3,2170.0 L553.3,2168.5 L552.2,2166.8 L551.1,2165.1 L549.9,2163.2 L548.8,2161.4 L547.8,2159.5 L546.8,2157.7 L546.0,2156.0 L545.4,2154.3 L544.8,2152.8 L544.4,2151.2 L544.0,2149.7 L543.7,2148.2 L543.5,2146.6 L543.2,2145.0 L543.0,2143.4 L542.8,2141.6 L542.7,2139.8 L542.5,2137.8 L542.2,2135.7 L542.0,2133.5 L541.7,2131.0 L541.4,2128.2 L541.2,2125.2 L541.0,2122.0 L540.9,2118.7 L540.8,2115.3 L540.7,2112.1 L540.6,2109.0 L540.5,2106.2 L540.4,2103.6 L540.3,2101.5 L540.2,2099.8Z" fill="#fdf5cc" stroke="#2a2820" stroke-width="1.5" stroke-linejoin="round"/>
<path d="M538.5,2122.6 L539.0,2123.4 L539.5,2124.6 L540.2,2125.9 L541.0,2127.5 L541.8,2129.1 L542.7,2130.8 L543.5,2132.5 L544.3,2134.1 L545.1,2135.7 L545.8,2137.0 L546.4,2138.2 L546.8,2139.0 L548.2,2139.5 L548.8,2138.1 L548.5,2137.2 L548.0,2136.0 L547.4,2134.6 L546.8,2133.0 L546.1,2131.3 L545.4,2129.6 L544.6,2127.8 L543.9,2126.1 L543.3,2124.5 L542.7,2123.1 L542.2,2121.9 L541.9,2121.1Z" fill="#fdf5cc" stroke="#2a2820" stroke-width="1.5" stroke-linejoin="round"/>
<path d="M539.8,2148.2 L538.9,2148.7 L537.7,2149.2 L536.2,2149.9 L534.6,2150.6 L532.8,2151.5 L531.0,2152.3 L529.2,2153.2 L527.5,2154.0 L525.8,2154.7 L524.4,2155.4 L523.2,2156.0 L522.3,2156.4 L521.7,2158.0 L523.2,2158.6 L524.2,2158.3 L525.4,2157.8 L526.9,2157.2 L528.6,2156.6 L530.4,2155.9 L532.2,2155.1 L534.1,2154.4 L535.9,2153.7 L537.6,2153.1 L539.1,2152.5 L540.3,2152.0 L541.2,2151.6Z" fill="#fdf5cc" stroke="#2a2820" stroke-width="1.5" stroke-linejoin="round"/>
<path d="M543.0,2162.1 L543.1,2162.7 L543.1,2163.6 L543.2,2164.6 L543.2,2165.7 L543.3,2166.9 L543.4,2168.2 L543.5,2169.4 L543.5,2170.7 L543.6,2171.8 L543.7,2172.8 L543.7,2173.6 L543.7,2174.2 L544.8,2175.1 L545.8,2174.2 L545.8,2173.6 L545.8,2172.7 L545.8,2171.7 L545.8,2170.6 L545.8,2169.4 L545.8,2168.1 L545.9,2166.9 L545.9,2165.6 L545.9,2164.5 L545.9,2163.5 L545.9,2162.7 L545.9,2162.0Z" fill="#fdf5cc" stroke="#2a2820" stroke-width="1.5" stroke-linejoin="round"/>
<path d="M549.0,2101.2 L550.1,2101.7 L551.4,2102.4 L553.0,2103.3 L554.7,2104.2 L556.6,2105.2 L558.7,2106.3 L560.8,2107.4 L563.0,2108.5 L565.2,2109.7 L567.4,2110.8 L569.6,2111.9 L571.7,2112.9 L573.9,2114.0 L576.1,2115.0 L578.3,2116.0 L580.6,2116.9 L582.9,2117.8 L585.1,2118.8 L587.3,2119.7 L589.4,2120.7 L591.3,2121.7 L593.1,2122.7 L594.8,2123.9 L596.2,2125.0 L597.5,2126.4 L598.8,2127.9 L600.0,2129.7 L601.1,2131.6 L602.1,2133.5 L603.1,2135.5 L604.0,2137.5 L604.8,2139.4 L605.5,2141.1 L606.2,2142.7 L606.8,2144.1 L607.3,2145.2 L609.0,2145.7 L609.8,2144.1 L609.3,2143.0 L608.9,2141.7 L608.4,2140.1 L607.8,2138.3 L607.1,2136.3 L606.4,2134.2 L605.6,2132.0 L604.6,2129.8 L603.6,2127.6 L602.4,2125.5 L601.1,2123.5 L599.6,2121.7 L597.9,2120.0 L596.1,2118.5 L594.1,2117.1 L592.1,2115.8 L589.9,2114.5 L587.7,2113.3 L585.6,2112.2 L583.4,2111.0 L581.3,2109.9 L579.2,2108.8 L577.3,2107.6 L575.5,2106.5 L573.7,2105.1 L571.9,2103.7 L570.0,2102.2 L568.0,2100.7 L566.1,2099.2 L564.3,2097.7 L562.5,2096.3 L560.8,2094.9 L559.3,2093.7 L557.9,2092.6 L556.7,2091.6 L555.7,2090.9Z" fill="#fdf5cc" stroke="#2a2820" stroke-width="1.5" stroke-linejoin="round"/>
<path d="M573.2,2111.8 L573.4,2112.3 L573.6,2113.0 L573.9,2113.9 L574.3,2114.9 L574.6,2115.9 L575.0,2117.0 L575.4,2118.1 L575.8,2119.1 L576.1,2120.1 L576.4,2120.9 L576.7,2121.7 L576.9,2122.2 L578.5,2123.0 L579.5,2121.5 L579.3,2120.9 L579.2,2120.2 L579.0,2119.3 L578.8,2118.3 L578.5,2117.2 L578.3,2116.1 L578.0,2114.9 L577.8,2113.9 L577.6,2112.8 L577.4,2111.9 L577.2,2111.2 L577.1,2110.6Z" fill="#fdf5cc" stroke="#2a2820" stroke-width="1.5" stroke-linejoin="round"/>
<path d="M594.6,2125.7 L594.7,2127.0 L594.8,2128.8 L595.0,2130.8 L595.2,2133.2 L595.4,2135.7 L595.7,2138.2 L595.9,2140.8 L596.1,2143.3 L596.3,2145.7 L596.5,2147.7 L596.7,2149.5 L596.8,2150.8 L598.0,2151.7 L599.0,2150.6 L599.0,2149.3 L598.9,2147.6 L598.9,2145.5 L598.8,2143.2 L598.7,2140.7 L598.6,2138.1 L598.6,2135.5 L598.5,2133.0 L598.4,2130.6 L598.3,2128.5 L598.3,2126.8 L598.2,2125.5Z" fill="#fdf5cc" stroke="#2a2820" stroke-width="1.5" stroke-linejoin="round"/>
<path d="M551.0,2088.3 L552.4,2087.7 L554.0,2087.1 L555.8,2086.3 L557.8,2085.5 L559.9,2084.5 L562.2,2083.6 L564.7,2082.6 L567.2,2081.6 L569.7,2080.6 L572.3,2079.7 L574.8,2078.9 L577.3,2078.1 L579.9,2077.4 L582.8,2076.8 L586.0,2076.2 L589.3,2075.7 L592.7,2075.2 L596.0,2074.7 L599.3,2074.2 L602.4,2073.8 L605.3,2073.4 L607.8,2073.1 L610.0,2072.8 L611.7,2072.5 L613.0,2070.8 L611.4,2069.4 L609.7,2069.5 L607.5,2069.6 L605.0,2069.7 L602.1,2069.8 L598.9,2070.0 L595.6,2070.1 L592.2,2070.3 L588.7,2070.5 L585.3,2070.7 L582.0,2070.9 L578.9,2071.2 L576.0,2071.4 L573.3,2071.7 L570.4,2072.1 L567.6,2072.5 L564.8,2073.0 L562.0,2073.5 L559.4,2074.0 L556.8,2074.5 L554.5,2075.0 L552.3,2075.5 L550.5,2075.9 L548.9,2076.2 L547.6,2076.5Z" fill="#fdf5cc" stroke="#2a2820" stroke-width="1.5" stroke-linejoin="round"/>
<path d="M585.1,2074.0 L585.2,2073.2 L585.3,2072.3 L585.5,2071.1 L585.6,2069.8 L585.8,2068.3 L586.0,2066.9 L586.2,2065.4 L586.4,2064.0 L586.5,2062.6 L586.7,2061.5 L586.8,2060.5 L586.9,2059.8 L585.9,2058.6 L584.7,2059.4 L584.5,2060.1 L584.3,2061.1 L584.1,2062.3 L583.8,2063.6 L583.5,2065.0 L583.3,2066.4 L583.0,2067.9 L582.7,2069.3 L582.4,2070.6 L582.2,2071.8 L582.0,2072.7 L581.9,2073.4Z" fill="#fdf5cc" stroke="#2a2820" stroke-width="1.5" stroke-linejoin="round"/>
<path d="M593.9,2072.7 L594.1,2072.2 L594.3,2071.6 L594.6,2070.8 L594.9,2069.9 L595.2,2069.0 L595.5,2068.0 L595.8,2067.0 L596.1,2066.1 L596.4,2065.2 L596.7,2064.4 L596.9,2063.8 L597.0,2063.3 L596.4,2062.1 L595.1,2062.6 L594.9,2063.0 L594.7,2063.7 L594.3,2064.4 L594.0,2065.3 L593.6,2066.2 L593.2,2067.1 L592.8,2068.1 L592.4,2069.0 L592.0,2069.8 L591.7,2070.6 L591.5,2071.2 L591.3,2071.7Z" fill="#fdf5cc" stroke="#2a2820" stroke-width="1.5" stroke-linejoin="round"/>
<path d="M554.6,2087.1 L556.4,2087.4 L558.7,2087.7 L561.4,2088.1 L564.4,2088.6 L567.7,2089.0 L571.2,2089.5 L574.8,2090.0 L578.4,2090.5 L582.0,2091.0 L585.4,2091.4 L588.6,2091.7 L591.6,2092.1 L594.4,2092.3 L597.3,2092.5 L600.1,2092.6 L603.0,2092.7 L605.8,2092.8 L608.5,2092.8 L611.1,2092.8 L613.5,2092.8 L615.6,2092.8 L617.6,2092.8 L619.3,2092.8 L620.6,2092.8 L621.9,2091.5 L620.7,2090.1 L619.4,2090.0 L617.7,2089.9 L615.7,2089.8 L613.5,2089.7 L611.1,2089.6 L608.6,2089.5 L605.9,2089.3 L603.2,2089.1 L600.4,2088.8 L597.6,2088.6 L594.8,2088.2 L592.1,2087.8 L589.3,2087.3 L586.2,2086.7 L582.9,2085.9 L579.4,2085.1 L575.9,2084.2 L572.4,2083.3 L569.0,2082.5 L565.8,2081.6 L562.9,2080.8 L560.2,2080.1 L558.0,2079.5 L556.2,2079.1Z" fill="#fdf5cc" stroke="#2a2820" stroke-width="1.5" stroke-linejoin="round"/>
<path d="M598.9,2091.6 L599.6,2091.0 L600.6,2090.3 L601.9,2089.4 L603.3,2088.3 L604.8,2087.2 L606.3,2086.1 L607.8,2084.9 L609.3,2083.8 L610.7,2082.8 L611.9,2081.9 L613.0,2081.1 L613.7,2080.6 L613.9,2079.0 L612.4,2078.7 L611.7,2079.2 L610.6,2079.9 L609.3,2080.8 L607.9,2081.7 L606.3,2082.7 L604.7,2083.8 L603.1,2084.9 L601.6,2085.9 L600.1,2086.8 L598.8,2087.7 L597.8,2088.4 L597.0,2088.9Z" fill="#fdf5cc" stroke="#2a2820" stroke-width="1.5" stroke-linejoin="round"/>
<ellipse cx="529.6" cy="2085.4" rx="25.8" ry="20.5" fill="#fdf5cc" stroke="#2a2820" stroke-width="1.5"/>
<path d="M545.5,2075.2 L544.9,2073.4 L544.1,2071.1 L543.2,2068.8 L542.1,2066.3 L541.0,2063.7 L539.8,2061.1 L538.7,2058.5 L537.6,2055.9 L536.7,2053.5 L535.9,2051.4 L535.2,2049.7 L535.0,2048.5 L535.0,2047.4 L535.2,2046.2 L535.5,2045.0 L535.8,2043.8 L536.3,2042.6 L536.9,2041.3 L537.6,2040.0 L538.4,2038.8 L539.3,2037.5 L540.3,2036.1 L541.4,2034.8 L542.4,2033.6 L543.3,2032.4 L544.3,2031.4 L545.2,2030.4 L546.2,2029.6 L547.3,2028.8 L548.5,2028.0 L549.7,2027.2 L551.0,2026.5 L552.4,2025.7 L553.9,2025.0 L555.5,2024.2 L557.3,2023.4 L559.1,2022.7 L561.0,2021.9 L563.0,2021.2 L565.0,2020.5 L567.2,2019.8 L569.4,2019.2 L571.7,2018.6 L574.2,2018.1 L576.7,2017.5 L579.3,2017.0 L582.0,2016.5 L584.8,2016.0 L587.8,2015.6 L591.2,2015.1 L594.9,2014.7 L598.8,2014.2 L602.8,2013.8 L606.8,2013.4 L610.7,2013.0 L614.4,2012.7 L617.8,2012.3 L620.8,2012.0 L623.4,2011.8 L625.4,2011.6 L627.8,2008.5 L625.0,2005.9 L623.0,2005.9 L620.5,2006.0 L617.4,2006.1 L614.0,2006.1 L610.2,2006.2 L606.3,2006.3 L602.3,2006.5 L598.2,2006.6 L594.3,2006.8 L590.5,2007.0 L586.9,2007.2 L583.7,2007.5 L580.8,2007.8 L577.9,2008.1 L575.2,2008.4 L572.5,2008.8 L569.9,2009.2 L567.4,2009.6 L564.9,2009.9 L562.5,2010.3 L560.2,2010.7 L557.9,2011.2 L555.7,2011.7 L553.5,2012.2 L551.4,2012.8 L549.5,2013.3 L547.6,2013.9 L545.7,2014.6 L543.9,2015.3 L542.1,2016.0 L540.4,2016.8 L538.7,2017.7 L537.0,2018.7 L535.3,2019.7 L533.6,2020.7 L532.0,2021.8 L530.4,2022.9 L528.8,2024.1 L527.2,2025.3 L525.5,2026.6 L523.8,2028.1 L522.1,2029.7 L520.5,2031.5 L518.9,2033.5 L517.4,2035.6 L515.9,2037.9 L514.7,2040.5 L513.5,2043.4 L512.5,2046.5 L511.3,2049.8 L510.3,2053.2 L509.4,2056.6 L508.6,2060.0 L507.9,2063.4 L507.2,2066.6 L506.6,2069.6 L506.0,2072.3 L505.5,2074.6 L505.0,2076.2 L504.6,2077.4Z" fill="#fdf5cc"/>
<path d="M624.3,2011.0 L624.9,2010.6 L625.7,2010.1 L626.7,2009.5 L627.8,2008.7 L629.1,2008.0 L630.3,2007.1 L631.6,2006.2 L632.9,2005.3 L634.2,2004.4 L635.3,2003.4 L636.3,2002.5 L637.2,2001.5 L638.0,2000.5 L638.5,1999.3 L639.0,1998.2 L639.3,1997.1 L639.6,1995.9 L639.8,1994.8 L639.9,1993.8 L640.0,1992.8 L640.1,1991.9 L640.1,1991.1 L640.2,1990.5 L640.3,1990.0 L639.2,1988.5 L637.5,1989.4 L637.4,1990.0 L637.2,1990.7 L637.1,1991.5 L637.0,1992.4 L636.8,1993.3 L636.6,1994.2 L636.4,1995.2 L636.1,1996.1 L635.8,1997.0 L635.4,1997.9 L635.0,1998.6 L634.5,1999.2 L633.9,1999.8 L633.0,2000.5 L631.9,2001.2 L630.7,2001.9 L629.4,2002.6 L628.1,2003.3 L626.8,2003.9 L625.5,2004.5 L624.3,2005.1 L623.2,2005.6 L622.3,2006.1 L621.6,2006.4Z" fill="#fdf5cc"/>
<path d="M627.6,2010.1 L628.7,2009.6 L630.1,2009.0 L631.8,2008.2 L633.8,2007.4 L635.9,2006.4 L638.1,2005.5 L640.2,2004.6 L642.3,2003.6 L644.3,2002.8 L646.0,2002.0 L647.5,2001.4 L648.5,2000.9 L649.2,1999.1 L647.5,1998.3 L646.4,1998.7 L644.9,1999.2 L643.1,1999.8 L641.1,2000.5 L638.9,2001.3 L636.7,2002.1 L634.5,2002.9 L632.3,2003.6 L630.3,2004.3 L628.5,2004.9 L627.0,2005.5 L625.9,2005.9Z" fill="#fdf5cc"/>
<path d="M625.9,2009.5 L626.1,2009.9 L626.4,2010.4 L626.8,2011.0 L627.2,2011.7 L627.6,2012.4 L628.0,2013.2 L628.5,2014.0 L628.9,2014.7 L629.3,2015.4 L629.7,2016.0 L630.0,2016.5 L630.2,2016.9 L631.8,2017.3 L632.4,2015.8 L632.2,2015.4 L632.0,2014.8 L631.8,2014.2 L631.5,2013.4 L631.1,2012.6 L630.8,2011.8 L630.5,2011.0 L630.1,2010.2 L629.8,2009.5 L629.6,2008.8 L629.3,2008.3 L629.2,2007.9Z" fill="#fdf5cc"/>
<path d="M633.7,2002.5 L633.6,2001.7 L633.5,2000.7 L633.3,1999.6 L633.1,1998.2 L632.9,1996.8 L632.7,1995.3 L632.5,1993.8 L632.3,1992.4 L632.2,1991.0 L632.0,1989.8 L631.9,1988.8 L631.8,1988.1 L630.4,1987.1 L629.3,1988.3 L629.4,1989.1 L629.5,1990.1 L629.6,1991.3 L629.7,1992.6 L629.8,1994.1 L629.9,1995.6 L630.0,1997.1 L630.1,1998.5 L630.2,1999.9 L630.3,2001.1 L630.4,2002.1 L630.4,2002.8Z" fill="#fdf5cc"/>
<path d="M516.3,2074.9 L515.0,2075.1 L513.4,2075.3 L511.5,2075.5 L509.4,2075.7 L507.2,2076.0 L504.8,2076.3 L502.4,2076.6 L499.9,2076.9 L497.4,2077.1 L495.0,2077.3 L492.7,2077.5 L490.6,2077.6 L488.5,2077.4 L486.3,2077.2 L484.0,2076.9 L481.6,2076.7 L479.3,2076.3 L477.0,2076.0 L474.8,2075.7 L472.7,2075.4 L470.7,2075.1 L469.0,2074.8 L467.5,2074.6 L466.3,2074.4 L463.5,2076.6 L465.3,2079.7 L466.4,2080.0 L467.9,2080.3 L469.5,2080.8 L471.4,2081.3 L473.5,2081.9 L475.7,2082.4 L478.0,2083.0 L480.3,2083.6 L482.7,2084.2 L485.1,2084.7 L487.4,2085.2 L489.6,2085.6 L491.9,2086.2 L494.2,2086.8 L496.7,2087.4 L499.2,2087.9 L501.8,2088.5 L504.2,2089.0 L506.6,2089.5 L508.9,2089.9 L511.0,2090.4 L512.8,2090.7 L514.3,2091.0 L515.5,2091.3Z" fill="#fdf5cc"/>
<path d="M479.9,2079.9 L479.0,2080.4 L477.9,2081.0 L476.5,2081.6 L474.8,2082.4 L473.1,2083.2 L471.3,2084.1 L469.4,2085.0 L467.6,2086.0 L465.9,2087.0 L464.3,2088.1 L462.8,2089.1 L461.6,2090.2 L460.5,2091.4 L459.7,2092.7 L459.1,2094.1 L458.6,2095.4 L458.2,2096.8 L457.9,2098.2 L457.7,2099.4 L457.5,2100.6 L457.3,2101.7 L457.2,2102.7 L457.1,2103.4 L456.9,2104.0 L457.9,2105.5 L459.5,2104.7 L459.7,2104.0 L459.9,2103.2 L460.1,2102.2 L460.3,2101.1 L460.6,2100.0 L460.8,2098.8 L461.2,2097.7 L461.6,2096.5 L462.1,2095.4 L462.6,2094.4 L463.3,2093.5 L464.0,2092.7 L464.9,2092.0 L466.2,2091.2 L467.7,2090.4 L469.4,2089.6 L471.2,2088.9 L473.1,2088.1 L474.9,2087.4 L476.7,2086.8 L478.3,2086.2 L479.8,2085.7 L481.1,2085.2 L482.1,2084.8Z" fill="#fdf5cc"/>
<path d="M467.3,2091.8 L467.1,2092.5 L466.8,2093.6 L466.5,2094.9 L466.1,2096.3 L465.7,2097.8 L465.2,2099.4 L464.8,2101.0 L464.4,2102.5 L464.0,2104.0 L463.7,2105.2 L463.4,2106.3 L463.2,2107.1 L464.0,2108.4 L465.4,2107.7 L465.6,2107.0 L466.0,2105.9 L466.4,2104.7 L466.9,2103.3 L467.4,2101.8 L467.9,2100.2 L468.4,2098.7 L468.9,2097.2 L469.4,2095.8 L469.8,2094.5 L470.2,2093.5 L470.4,2092.7Z" fill="#fdf5cc"/>
<path d="M512.2,2091.7 L511.3,2092.4 L510.0,2093.3 L508.4,2094.3 L506.6,2095.5 L504.5,2096.8 L502.4,2098.2 L500.2,2099.6 L498.0,2101.2 L495.9,2102.7 L493.8,2104.3 L491.9,2106.0 L490.2,2107.5 L488.8,2108.9 L487.4,2110.3 L486.2,2111.6 L484.9,2112.9 L483.7,2114.4 L482.6,2115.8 L481.6,2117.4 L480.7,2119.1 L479.8,2120.9 L479.0,2122.7 L478.3,2124.7 L477.7,2126.9 L477.2,2129.4 L476.8,2132.2 L476.6,2135.2 L476.5,2138.3 L476.5,2141.6 L476.6,2144.8 L476.7,2147.9 L476.8,2150.9 L476.9,2153.6 L477.0,2156.1 L477.0,2158.1 L477.0,2159.7 L477.9,2160.6 L478.9,2159.9 L479.1,2158.3 L479.4,2156.2 L479.7,2153.8 L480.1,2151.0 L480.4,2148.1 L480.9,2145.0 L481.3,2141.9 L481.8,2138.9 L482.4,2135.9 L483.0,2133.2 L483.6,2130.8 L484.3,2128.9 L485.0,2127.2 L485.7,2125.7 L486.5,2124.3 L487.3,2123.0 L488.1,2121.9 L489.0,2120.8 L490.0,2119.8 L491.0,2118.8 L492.1,2117.8 L493.4,2116.9 L494.7,2115.8 L496.1,2114.9 L497.6,2114.0 L499.4,2113.2 L501.4,2112.4 L503.6,2111.6 L505.9,2110.8 L508.2,2110.0 L510.5,2109.3 L512.7,2108.6 L514.7,2108.0 L516.6,2107.4 L518.3,2106.8 L519.6,2106.4Z" fill="#fdf5cc"/>
<path d="M489.7,2113.5 L488.6,2113.8 L487.0,2114.1 L485.1,2114.5 L483.0,2114.9 L480.8,2115.4 L478.4,2115.9 L476.1,2116.4 L473.8,2116.9 L471.7,2117.3 L469.8,2117.7 L468.3,2118.0 L467.1,2118.2 L466.1,2119.8 L467.5,2120.9 L468.7,2120.7 L470.3,2120.5 L472.2,2120.3 L474.3,2120.0 L476.6,2119.7 L479.0,2119.4 L481.4,2119.1 L483.7,2118.8 L485.8,2118.6 L487.7,2118.3 L489.3,2118.1 L490.5,2118.0Z" fill="#fdf5cc"/>
<path d="M479.2,2131.3 L478.0,2131.6 L476.3,2132.2 L474.3,2132.8 L472.0,2133.5 L469.6,2134.2 L467.0,2135.0 L464.5,2135.8 L462.1,2136.5 L459.8,2137.2 L457.8,2137.9 L456.1,2138.4 L454.8,2138.8 L454.0,2140.4 L455.5,2141.3 L456.8,2141.0 L458.5,2140.6 L460.6,2140.1 L462.9,2139.5 L465.4,2138.9 L467.9,2138.3 L470.5,2137.6 L473.0,2137.0 L475.3,2136.4 L477.3,2135.9 L479.1,2135.5 L480.3,2135.2Z" fill="#fdf5cc"/>
<path d="M472.5,2135.2 L471.8,2136.0 L471.0,2137.0 L470.0,2138.2 L468.9,2139.6 L467.7,2141.0 L466.4,2142.6 L465.2,2144.1 L464.0,2145.6 L462.9,2147.0 L461.9,2148.2 L461.0,2149.2 L460.4,2149.9 L460.6,2151.5 L462.1,2151.4 L462.8,2150.7 L463.7,2149.7 L464.7,2148.6 L465.9,2147.2 L467.2,2145.8 L468.5,2144.4 L469.9,2142.9 L471.1,2141.5 L472.3,2140.2 L473.4,2139.0 L474.3,2138.1 L474.9,2137.3Z" fill="#fdf5cc"/>
<path d="M528.0,2101.4 L528.4,2103.0 L528.9,2105.1 L529.5,2107.6 L530.1,2110.4 L530.8,2113.4 L531.5,2116.6 L532.2,2119.8 L533.0,2123.1 L533.7,2126.2 L534.3,2129.3 L534.9,2132.0 L535.4,2134.5 L535.9,2136.7 L536.3,2138.7 L536.7,2140.7 L537.0,2142.5 L537.4,2144.3 L537.8,2146.0 L538.2,2147.7 L538.6,2149.4 L539.1,2151.0 L539.7,2152.7 L540.4,2154.4 L541.1,2156.1 L542.0,2157.9 L543.1,2159.8 L544.3,2161.6 L545.5,2163.5 L546.8,2165.3 L548.2,2167.1 L549.4,2168.7 L550.7,2170.3 L551.8,2171.7 L552.8,2173.0 L553.7,2174.1 L554.3,2175.0 L556.1,2175.2 L556.5,2173.5 L555.9,2172.5 L555.2,2171.3 L554.3,2170.0 L553.3,2168.5 L552.2,2166.8 L551.1,2165.1 L549.9,2163.2 L548.8,2161.4 L547.8,2159.5 L546.8,2157.7 L546.0,2156.0 L545.4,2154.3 L544.8,2152.8 L544.4,2151.2 L544.0,2149.7 L543.7,2148.2 L543.5,2146.6 L543.2,2145.0 L543.0,2143.4 L542.8,2141.6 L542.7,2139.8 L542.5,2137.8 L542.2,2135.7 L542.0,2133.5 L541.7,2131.0 L541.4,2128.2 L541.2,2125.2 L541.0,2122.0 L540.9,2118.7 L540.8,2115.3 L540.7,2112.1 L540.6,2109.0 L540.5,2106.2 L540.4,2103.6 L540.3,2101.5 L540.2,2099.8Z" fill="#fdf5cc"/>
<path d="M538.5,2122.6 L539.0,2123.4 L539.5,2124.6 L540.2,2125.9 L541.0,2127.5 L541.8,2129.1 L542.7,2130.8 L543.5,2132.5 L544.3,2134.1 L545.1,2135.7 L545.8,2137.0 L546.4,2138.2 L546.8,2139.0 L548.2,2139.5 L548.8,2138.1 L548.5,2137.2 L548.0,2136.0 L547.4,2134.6 L546.8,2133.0 L546.1,2131.3 L545.4,2129.6 L544.6,2127.8 L543.9,2126.1 L543.3,2124.5 L542.7,2123.1 L542.2,2121.9 L541.9,2121.1Z" fill="#fdf5cc"/>
<path d="M539.8,2148.2 L538.9,2148.7 L537.7,2149.2 L536.2,2149.9 L534.6,2150.6 L532.8,2151.5 L531.0,2152.3 L529.2,2153.2 L527.5,2154.0 L525.8,2154.7 L524.4,2155.4 L523.2,2156.0 L522.3,2156.4 L521.7,2158.0 L523.2,2158.6 L524.2,2158.3 L525.4,2157.8 L526.9,2157.2 L528.6,2156.6 L530.4,2155.9 L532.2,2155.1 L534.1,2154.4 L535.9,2153.7 L537.6,2153.1 L539.1,2152.5 L540.3,2152.0 L541.2,2151.6Z" fill="#fdf5cc"/>
<path d="M543.0,2162.1 L543.1,2162.7 L543.1,2163.6 L543.2,2164.6 L543.2,2165.7 L543.3,2166.9 L543.4,2168.2 L543.5,2169.4 L543.5,2170.7 L543.6,2171.8 L543.7,2172.8 L543.7,2173.6 L543.7,2174.2 L544.8,2175.1 L545.8,2174.2 L545.8,2173.6 L545.8,2172.7 L545.8,2171.7 L545.8,2170.6 L545.8,2169.4 L545.8,2168.1 L545.9,2166.9 L545.9,2165.6 L545.9,2164.5 L545.9,2163.5 L545.9,2162.7 L545.9,2162.0Z" fill="#fdf5cc"/>
<path d="M549.0,2101.2 L550.1,2101.7 L551.4,2102.4 L553.0,2103.3 L554.7,2104.2 L556.6,2105.2 L558.7,2106.3 L560.8,2107.4 L563.0,2108.5 L565.2,2109.7 L567.4,2110.8 L569.6,2111.9 L571.7,2112.9 L573.9,2114.0 L576.1,2115.0 L578.3,2116.0 L580.6,2116.9 L582.9,2117.8 L585.1,2118.8 L587.3,2119.7 L589.4,2120.7 L591.3,2121.7 L593.1,2122.7 L594.8,2123.9 L596.2,2125.0 L597.5,2126.4 L598.8,2127.9 L600.0,2129.7 L601.1,2131.6 L602.1,2133.5 L603.1,2135.5 L604.0,2137.5 L604.8,2139.4 L605.5,2141.1 L606.2,2142.7 L606.8,2144.1 L607.3,2145.2 L609.0,2145.7 L609.8,2144.1 L609.3,2143.0 L608.9,2141.7 L608.4,2140.1 L607.8,2138.3 L607.1,2136.3 L606.4,2134.2 L605.6,2132.0 L604.6,2129.8 L603.6,2127.6 L602.4,2125.5 L601.1,2123.5 L599.6,2121.7 L597.9,2120.0 L596.1,2118.5 L594.1,2117.1 L592.1,2115.8 L589.9,2114.5 L587.7,2113.3 L585.6,2112.2 L583.4,2111.0 L581.3,2109.9 L579.2,2108.8 L577.3,2107.6 L575.5,2106.5 L573.7,2105.1 L571.9,2103.7 L570.0,2102.2 L568.0,2100.7 L566.1,2099.2 L564.3,2097.7 L562.5,2096.3 L560.8,2094.9 L559.3,2093.7 L557.9,2092.6 L556.7,2091.6 L555.7,2090.9Z" fill="#fdf5cc"/>
<path d="M573.2,2111.8 L573.4,2112.3 L573.6,2113.0 L573.9,2113.9 L574.3,2114.9 L574.6,2115.9 L575.0,2117.0 L575.4,2118.1 L575.8,2119.1 L576.1,2120.1 L576.4,2120.9 L576.7,2121.7 L576.9,2122.2 L578.5,2123.0 L579.5,2121.5 L579.3,2120.9 L579.2,2120.2 L579.0,2119.3 L578.8,2118.3 L578.5,2117.2 L578.3,2116.1 L578.0,2114.9 L577.8,2113.9 L577.6,2112.8 L577.4,2111.9 L577.2,2111.2 L577.1,2110.6Z" fill="#fdf5cc"/>
<path d="M594.6,2125.7 L594.7,2127.0 L594.8,2128.8 L595.0,2130.8 L595.2,2133.2 L595.4,2135.7 L595.7,2138.2 L595.9,2140.8 L596.1,2143.3 L596.3,2145.7 L596.5,2147.7 L596.7,2149.5 L596.8,2150.8 L598.0,2151.7 L599.0,2150.6 L599.0,2149.3 L598.9,2147.6 L598.9,2145.5 L598.8,2143.2 L598.7,2140.7 L598.6,2138.1 L598.6,2135.5 L598.5,2133.0 L598.4,2130.6 L598.3,2128.5 L598.3,2126.8 L598.2,2125.5Z" fill="#fdf5cc"/>
<path d="M551.0,2088.3 L552.4,2087.7 L554.0,2087.1 L555.8,2086.3 L557.8,2085.5 L559.9,2084.5 L562.2,2083.6 L564.7,2082.6 L567.2,2081.6 L569.7,2080.6 L572.3,2079.7 L574.8,2078.9 L577.3,2078.1 L579.9,2077.4 L582.8,2076.8 L586.0,2076.2 L589.3,2075.7 L592.7,2075.2 L596.0,2074.7 L599.3,2074.2 L602.4,2073.8 L605.3,2073.4 L607.8,2073.1 L610.0,2072.8 L611.7,2072.5 L613.0,2070.8 L611.4,2069.4 L609.7,2069.5 L607.5,2069.6 L605.0,2069.7 L602.1,2069.8 L598.9,2070.0 L595.6,2070.1 L592.2,2070.3 L588.7,2070.5 L585.3,2070.7 L582.0,2070.9 L578.9,2071.2 L576.0,2071.4 L573.3,2071.7 L570.4,2072.1 L567.6,2072.5 L564.8,2073.0 L562.0,2073.5 L559.4,2074.0 L556.8,2074.5 L554.5,2075.0 L552.3,2075.5 L550.5,2075.9 L548.9,2076.2 L547.6,2076.5Z" fill="#fdf5cc"/>
<path d="M585.1,2074.0 L585.2,2073.2 L585.3,2072.3 L585.5,2071.1 L585.6,2069.8 L585.8,2068.3 L586.0,2066.9 L586.2,2065.4 L586.4,2064.0 L586.5,2062.6 L586.7,2061.5 L586.8,2060.5 L586.9,2059.8 L585.9,2058.6 L584.7,2059.4 L584.5,2060.1 L584.3,2061.1 L584.1,2062.3 L583.8,2063.6 L583.5,2065.0 L583.3,2066.4 L583.0,2067.9 L582.7,2069.3 L582.4,2070.6 L582.2,2071.8 L582.0,2072.7 L581.9,2073.4Z" fill="#fdf5cc"/>
<path d="M593.9,2072.7 L594.1,2072.2 L594.3,2071.6 L594.6,2070.8 L594.9,2069.9 L595.2,2069.0 L595.5,2068.0 L595.8,2067.0 L596.1,2066.1 L596.4,2065.2 L596.7,2064.4 L596.9,2063.8 L597.0,2063.3 L596.4,2062.1 L595.1,2062.6 L594.9,2063.0 L594.7,2063.7 L594.3,2064.4 L594.0,2065.3 L593.6,2066.2 L593.2,2067.1 L592.8,2068.1 L592.4,2069.0 L592.0,2069.8 L591.7,2070.6 L591.5,2071.2 L591.3,2071.7Z" fill="#fdf5cc"/>
<path d="M554.6,2087.1 L556.4,2087.4 L558.7,2087.7 L561.4,2088.1 L564.4,2088.6 L567.7,2089.0 L571.2,2089.5 L574.8,2090.0 L578.4,2090.5 L582.0,2091.0 L585.4,2091.4 L588.6,2091.7 L591.6,2092.1 L594.4,2092.3 L597.3,2092.5 L600.1,2092.6 L603.0,2092.7 L605.8,2092.8 L608.5,2092.8 L611.1,2092.8 L613.5,2092.8 L615.6,2092.8 L617.6,2092.8 L619.3,2092.8 L620.6,2092.8 L621.9,2091.5 L620.7,2090.1 L619.4,2090.0 L617.7,2089.9 L615.7,2089.8 L613.5,2089.7 L611.1,2089.6 L608.6,2089.5 L605.9,2089.3 L603.2,2089.1 L600.4,2088.8 L597.6,2088.6 L594.8,2088.2 L592.1,2087.8 L589.3,2087.3 L586.2,2086.7 L582.9,2085.9 L579.4,2085.1 L575.9,2084.2 L572.4,2083.3 L569.0,2082.5 L565.8,2081.6 L562.9,2080.8 L560.2,2080.1 L558.0,2079.5 L556.2,2079.1Z" fill="#fdf5cc"/>
<path d="M598.9,2091.6 L599.6,2091.0 L600.6,2090.3 L601.9,2089.4 L603.3,2088.3 L604.8,2087.2 L606.3,2086.1 L607.8,2084.9 L609.3,2083.8 L610.7,2082.8 L611.9,2081.9 L613.0,2081.1 L613.7,2080.6 L613.9,2079.0 L612.4,2078.7 L611.7,2079.2 L610.6,2079.9 L609.3,2080.8 L607.9,2081.7 L606.3,2082.7 L604.7,2083.8 L603.1,2084.9 L601.6,2085.9 L600.1,2086.8 L598.8,2087.7 L597.8,2088.4 L597.0,2088.9Z" fill="#fdf5cc"/>
<ellipse cx="529.6" cy="2085.4" rx="25.8" ry="20.5" fill="#fdf5cc"/>
<ellipse cx="528.5" cy="2084.9" rx="14" ry="10.4" fill="url(#nucg)"/>
<path d="M498.7,2085.5 Q506.7,2091.5 503.7,2101.5" stroke="#f6dc6a" stroke-width="3" fill="none"/>
<text x="525.0" y="2101.8" text-anchor="middle" font-size="10" fill="#1a1a1a" style="font-family:'Liberation Sans',sans-serif;font-weight:bold">Glutamatergic</text>
<text x="526.5" y="2112.7" text-anchor="middle" font-size="10" fill="#1a1a1a" style="font-family:'Liberation Sans',sans-serif;font-weight:bold">Neuron</text>
</g>
<g transform="translate(508,1)">
<path d="M545.5,2075.2 L544.9,2073.4 L544.1,2071.1 L543.2,2068.8 L542.1,2066.3 L541.0,2063.7 L539.8,2061.1 L538.7,2058.5 L537.6,2055.9 L536.7,2053.5 L535.9,2051.4 L535.2,2049.7 L535.0,2048.5 L535.0,2047.4 L535.2,2046.2 L535.5,2045.0 L535.8,2043.8 L536.3,2042.6 L536.9,2041.3 L537.6,2040.0 L538.4,2038.8 L539.3,2037.5 L540.3,2036.1 L541.4,2034.8 L542.4,2033.6 L543.3,2032.4 L544.3,2031.4 L545.2,2030.4 L546.2,2029.6 L547.3,2028.8 L548.5,2028.0 L549.7,2027.2 L551.0,2026.5 L552.4,2025.7 L553.9,2025.0 L555.5,2024.2 L557.3,2023.4 L559.1,2022.7 L561.0,2021.9 L563.0,2021.2 L565.0,2020.5 L567.2,2019.8 L569.4,2019.2 L571.7,2018.6 L574.2,2018.1 L576.7,2017.5 L579.3,2017.0 L582.0,2016.5 L584.8,2016.0 L587.8,2015.6 L591.2,2015.1 L594.9,2014.7 L598.8,2014.2 L602.8,2013.8 L606.8,2013.4 L610.7,2013.0 L614.4,2012.7 L617.8,2012.3 L620.8,2012.0 L623.4,2011.8 L625.4,2011.6 L627.8,2008.5 L625.0,2005.9 L623.0,2005.9 L620.5,2006.0 L617.4,2006.1 L614.0,2006.1 L610.2,2006.2 L606.3,2006.3 L602.3,2006.5 L598.2,2006.6 L594.3,2006.8 L590.5,2007.0 L586.9,2007.2 L583.7,2007.5 L580.8,2007.8 L577.9,2008.1 L575.2,2008.4 L572.5,2008.8 L569.9,2009.2 L567.4,2009.6 L564.9,2009.9 L562.5,2010.3 L560.2,2010.7 L557.9,2011.2 L555.7,2011.7 L553.5,2012.2 L551.4,2012.8 L549.5,2013.3 L547.6,2013.9 L545.7,2014.6 L543.9,2015.3 L542.1,2016.0 L540.4,2016.8 L538.7,2017.7 L537.0,2018.7 L535.3,2019.7 L533.6,2020.7 L532.0,2021.8 L530.4,2022.9 L528.8,2024.1 L527.2,2025.3 L525.5,2026.6 L523.8,2028.1 L522.1,2029.7 L520.5,2031.5 L518.9,2033.5 L517.4,2035.6 L515.9,2037.9 L514.7,2040.5 L513.5,2043.4 L512.5,2046.5 L511.3,2049.8 L510.3,2053.2 L509.4,2056.6 L508.6,2060.0 L507.9,2063.4 L507.2,2066.6 L506.6,2069.6 L506.0,2072.3 L505.5,2074.6 L505.0,2076.2 L504.6,2077.4Z" fill="#fdf5cc" stroke="#2a2820" stroke-width="1.5" stroke-linejoin="round"/>
<path d="M624.3,2011.0 L624.9,2010.6 L625.7,2010.1 L626.7,2009.5 L627.8,2008.7 L629.1,2008.0 L630.3,2007.1 L631.6,2006.2 L632.9,2005.3 L634.2,2004.4 L635.3,2003.4 L636.3,2002.5 L637.2,2001.5 L638.0,2000.5 L638.5,1999.3 L639.0,1998.2 L639.3,1997.1 L639.6,1995.9 L639.8,1994.8 L639.9,1993.8 L640.0,1992.8 L640.1,1991.9 L640.1,1991.1 L640.2,1990.5 L640.3,1990.0 L639.2,1988.5 L637.5,1989.4 L637.4,1990.0 L637.2,1990.7 L637.1,1991.5 L637.0,1992.4 L636.8,1993.3 L636.6,1994.2 L636.4,1995.2 L636.1,1996.1 L635.8,1997.0 L635.4,1997.9 L635.0,1998.6 L634.5,1999.2 L633.9,1999.8 L633.0,2000.5 L631.9,2001.2 L630.7,2001.9 L629.4,2002.6 L628.1,2003.3 L626.8,2003.9 L625.5,2004.5 L624.3,2005.1 L623.2,2005.6 L622.3,2006.1 L621.6,2006.4Z" fill="#fdf5cc" stroke="#2a2820" stroke-width="1.5" stroke-linejoin="round"/>
<path d="M627.6,2010.1 L628.7,2009.6 L630.1,2009.0 L631.8,2008.2 L633.8,2007.4 L635.9,2006.4 L638.1,2005.5 L640.2,2004.6 L642.3,2003.6 L644.3,2002.8 L646.0,2002.0 L647.5,2001.4 L648.5,2000.9 L649.2,1999.1 L647.5,1998.3 L646.4,1998.7 L644.9,1999.2 L643.1,1999.8 L641.1,2000.5 L638.9,2001.3 L636.7,2002.1 L634.5,2002.9 L632.3,2003.6 L630.3,2004.3 L628.5,2004.9 L627.0,2005.5 L625.9,2005.9Z" fill="#fdf5cc" stroke="#2a2820" stroke-width="1.5" stroke-linejoin="round"/>
<path d="M625.9,2009.5 L626.1,2009.9 L626.4,2010.4 L626.8,2011.0 L627.2,2011.7 L627.6,2012.4 L628.0,2013.2 L628.5,2014.0 L628.9,2014.7 L629.3,2015.4 L629.7,2016.0 L630.0,2016.5 L630.2,2016.9 L631.8,2017.3 L632.4,2015.8 L632.2,2015.4 L632.0,2014.8 L631.8,2014.2 L631.5,2013.4 L631.1,2012.6 L630.8,2011.8 L630.5,2011.0 L630.1,2010.2 L629.8,2009.5 L629.6,2008.8 L629.3,2008.3 L629.2,2007.9Z" fill="#fdf5cc" stroke="#2a2820" stroke-width="1.5" stroke-linejoin="round"/>
<path d="M633.7,2002.5 L633.6,2001.7 L633.5,2000.7 L633.3,1999.6 L633.1,1998.2 L632.9,1996.8 L632.7,1995.3 L632.5,1993.8 L632.3,1992.4 L632.2,1991.0 L632.0,1989.8 L631.9,1988.8 L631.8,1988.1 L630.4,1987.1 L629.3,1988.3 L629.4,1989.1 L629.5,1990.1 L629.6,1991.3 L629.7,1992.6 L629.8,1994.1 L629.9,1995.6 L630.0,1997.1 L630.1,1998.5 L630.2,1999.9 L630.3,2001.1 L630.4,2002.1 L630.4,2002.8Z" fill="#fdf5cc" stroke="#2a2820" stroke-width="1.5" stroke-linejoin="round"/>
<path d="M516.3,2074.9 L515.0,2075.1 L513.4,2075.3 L511.5,2075.5 L509.4,2075.7 L507.2,2076.0 L504.8,2076.3 L502.4,2076.6 L499.9,2076.9 L497.4,2077.1 L495.0,2077.3 L492.7,2077.5 L490.6,2077.6 L488.5,2077.4 L486.3,2077.2 L484.0,2076.9 L481.6,2076.7 L479.3,2076.3 L477.0,2076.0 L474.8,2075.7 L472.7,2075.4 L470.7,2075.1 L469.0,2074.8 L467.5,2074.6 L466.3,2074.4 L463.5,2076.6 L465.3,2079.7 L466.4,2080.0 L467.9,2080.3 L469.5,2080.8 L471.4,2081.3 L473.5,2081.9 L475.7,2082.4 L478.0,2083.0 L480.3,2083.6 L482.7,2084.2 L485.1,2084.7 L487.4,2085.2 L489.6,2085.6 L491.9,2086.2 L494.2,2086.8 L496.7,2087.4 L499.2,2087.9 L501.8,2088.5 L504.2,2089.0 L506.6,2089.5 L508.9,2089.9 L511.0,2090.4 L512.8,2090.7 L514.3,2091.0 L515.5,2091.3Z" fill="#fdf5cc" stroke="#2a2820" stroke-width="1.5" stroke-linejoin="round"/>
<path d="M479.9,2079.9 L479.0,2080.4 L477.9,2081.0 L476.5,2081.6 L474.8,2082.4 L473.1,2083.2 L471.3,2084.1 L469.4,2085.0 L467.6,2086.0 L465.9,2087.0 L464.3,2088.1 L462.8,2089.1 L461.6,2090.2 L460.5,2091.4 L459.7,2092.7 L459.1,2094.1 L458.6,2095.4 L458.2,2096.8 L457.9,2098.2 L457.7,2099.4 L457.5,2100.6 L457.3,2101.7 L457.2,2102.7 L457.1,2103.4 L456.9,2104.0 L457.9,2105.5 L459.5,2104.7 L459.7,2104.0 L459.9,2103.2 L460.1,2102.2 L460.3,2101.1 L460.6,2100.0 L460.8,2098.8 L461.2,2097.7 L461.6,2096.5 L462.1,2095.4 L462.6,2094.4 L463.3,2093.5 L464.0,2092.7 L464.9,2092.0 L466.2,2091.2 L467.7,2090.4 L469.4,2089.6 L471.2,2088.9 L473.1,2088.1 L474.9,2087.4 L476.7,2086.8 L478.3,2086.2 L479.8,2085.7 L481.1,2085.2 L482.1,2084.8Z" fill="#fdf5cc" stroke="#2a2820" stroke-width="1.5" stroke-linejoin="round"/>
<path d="M467.3,2091.8 L467.1,2092.5 L466.8,2093.6 L466.5,2094.9 L466.1,2096.3 L465.7,2097.8 L465.2,2099.4 L464.8,2101.0 L464.4,2102.5 L464.0,2104.0 L463.7,2105.2 L463.4,2106.3 L463.2,2107.1 L464.0,2108.4 L465.4,2107.7 L465.6,2107.0 L466.0,2105.9 L466.4,2104.7 L466.9,2103.3 L467.4,2101.8 L467.9,2100.2 L468.4,2098.7 L468.9,2097.2 L469.4,2095.8 L469.8,2094.5 L470.2,2093.5 L470.4,2092.7Z" fill="#fdf5cc" stroke="#2a2820" stroke-width="1.5" stroke-linejoin="round"/>
<path d="M512.2,2091.7 L511.3,2092.4 L510.0,2093.3 L508.4,2094.3 L506.6,2095.5 L504.5,2096.8 L502.4,2098.2 L500.2,2099.6 L498.0,2101.2 L495.9,2102.7 L493.8,2104.3 L491.9,2106.0 L490.2,2107.5 L488.8,2108.9 L487.4,2110.3 L486.2,2111.6 L484.9,2112.9 L483.7,2114.4 L482.6,2115.8 L481.6,2117.4 L480.7,2119.1 L479.8,2120.9 L479.0,2122.7 L478.3,2124.7 L477.7,2126.9 L477.2,2129.4 L476.8,2132.2 L476.6,2135.2 L476.5,2138.3 L476.5,2141.6 L476.6,2144.8 L476.7,2147.9 L476.8,2150.9 L476.9,2153.6 L477.0,2156.1 L477.0,2158.1 L477.0,2159.7 L477.9,2160.6 L478.9,2159.9 L479.1,2158.3 L479.4,2156.2 L479.7,2153.8 L480.1,2151.0 L480.4,2148.1 L480.9,2145.0 L481.3,2141.9 L481.8,2138.9 L482.4,2135.9 L483.0,2133.2 L483.6,2130.8 L484.3,2128.9 L485.0,2127.2 L485.7,2125.7 L486.5,2124.3 L487.3,2123.0 L488.1,2121.9 L489.0,2120.8 L490.0,2119.8 L491.0,2118.8 L492.1,2117.8 L493.4,2116.9 L494.7,2115.8 L496.1,2114.9 L497.6,2114.0 L499.4,2113.2 L501.4,2112.4 L503.6,2111.6 L505.9,2110.8 L508.2,2110.0 L510.5,2109.3 L512.7,2108.6 L514.7,2108.0 L516.6,2107.4 L518.3,2106.8 L519.6,2106.4Z" fill="#fdf5cc" stroke="#2a2820" stroke-width="1.5" stroke-linejoin="round"/>
<path d="M489.7,2113.5 L488.6,2113.8 L487.0,2114.1 L485.1,2114.5 L483.0,2114.9 L480.8,2115.4 L478.4,2115.9 L476.1,2116.4 L473.8,2116.9 L471.7,2117.3 L469.8,2117.7 L468.3,2118.0 L467.1,2118.2 L466.1,2119.8 L467.5,2120.9 L468.7,2120.7 L470.3,2120.5 L472.2,2120.3 L474.3,2120.0 L476.6,2119.7 L479.0,2119.4 L481.4,2119.1 L483.7,2118.8 L485.8,2118.6 L487.7,2118.3 L489.3,2118.1 L490.5,2118.0Z" fill="#fdf5cc" stroke="#2a2820" stroke-width="1.5" stroke-linejoin="round"/>
<path d="M479.2,2131.3 L478.0,2131.6 L476.3,2132.2 L474.3,2132.8 L472.0,2133.5 L469.6,2134.2 L467.0,2135.0 L464.5,2135.8 L462.1,2136.5 L459.8,2137.2 L457.8,2137.9 L456.1,2138.4 L454.8,2138.8 L454.0,2140.4 L455.5,2141.3 L456.8,2141.0 L458.5,2140.6 L460.6,2140.1 L462.9,2139.5 L465.4,2138.9 L467.9,2138.3 L470.5,2137.6 L473.0,2137.0 L475.3,2136.4 L477.3,2135.9 L479.1,2135.5 L480.3,2135.2Z" fill="#fdf5cc" stroke="#2a2820" stroke-width="1.5" stroke-linejoin="round"/>
<path d="M472.5,2135.2 L471.8,2136.0 L471.0,2137.0 L470.0,2138.2 L468.9,2139.6 L467.7,2141.0 L466.4,2142.6 L465.2,2144.1 L464.0,2145.6 L462.9,2147.0 L461.9,2148.2 L461.0,2149.2 L460.4,2149.9 L460.6,2151.5 L462.1,2151.4 L462.8,2150.7 L463.7,2149.7 L464.7,2148.6 L465.9,2147.2 L467.2,2145.8 L468.5,2144.4 L469.9,2142.9 L471.1,2141.5 L472.3,2140.2 L473.4,2139.0 L474.3,2138.1 L474.9,2137.3Z" fill="#fdf5cc" stroke="#2a2820" stroke-width="1.5" stroke-linejoin="round"/>
<path d="M528.0,2101.4 L528.4,2103.0 L528.9,2105.1 L529.5,2107.6 L530.1,2110.4 L530.8,2113.4 L531.5,2116.6 L532.2,2119.8 L533.0,2123.1 L533.7,2126.2 L534.3,2129.3 L534.9,2132.0 L535.4,2134.5 L535.9,2136.7 L536.3,2138.7 L536.7,2140.7 L537.0,2142.5 L537.4,2144.3 L537.8,2146.0 L538.2,2147.7 L538.6,2149.4 L539.1,2151.0 L539.7,2152.7 L540.4,2154.4 L541.1,2156.1 L542.0,2157.9 L543.1,2159.8 L544.3,2161.6 L545.5,2163.5 L546.8,2165.3 L548.2,2167.1 L549.4,2168.7 L550.7,2170.3 L551.8,2171.7 L552.8,2173.0 L553.7,2174.1 L554.3,2175.0 L556.1,2175.2 L556.5,2173.5 L555.9,2172.5 L555.2,2171.3 L554.3,2170.0 L553.3,2168.5 L552.2,2166.8 L551.1,2165.1 L549.9,2163.2 L548.8,2161.4 L547.8,2159.5 L546.8,2157.7 L546.0,2156.0 L545.4,2154.3 L544.8,2152.8 L544.4,2151.2 L544.0,2149.7 L543.7,2148.2 L543.5,2146.6 L543.2,2145.0 L543.0,2143.4 L542.8,2141.6 L542.7,2139.8 L542.5,2137.8 L542.2,2135.7 L542.0,2133.5 L541.7,2131.0 L541.4,2128.2 L541.2,2125.2 L541.0,2122.0 L540.9,2118.7 L540.8,2115.3 L540.7,2112.1 L540.6,2109.0 L540.5,2106.2 L540.4,2103.6 L540.3,2101.5 L540.2,2099.8Z" fill="#fdf5cc" stroke="#2a2820" stroke-width="1.5" stroke-linejoin="round"/>
<path d="M538.5,2122.6 L539.0,2123.4 L539.5,2124.6 L540.2,2125.9 L541.0,2127.5 L541.8,2129.1 L542.7,2130.8 L543.5,2132.5 L544.3,2134.1 L545.1,2135.7 L545.8,2137.0 L546.4,2138.2 L546.8,2139.0 L548.2,2139.5 L548.8,2138.1 L548.5,2137.2 L548.0,2136.0 L547.4,2134.6 L546.8,2133.0 L546.1,2131.3 L545.4,2129.6 L544.6,2127.8 L543.9,2126.1 L543.3,2124.5 L542.7,2123.1 L542.2,2121.9 L541.9,2121.1Z" fill="#fdf5cc" stroke="#2a2820" stroke-width="1.5" stroke-linejoin="round"/>
<path d="M539.8,2148.2 L538.9,2148.7 L537.7,2149.2 L536.2,2149.9 L534.6,2150.6 L532.8,2151.5 L531.0,2152.3 L529.2,2153.2 L527.5,2154.0 L525.8,2154.7 L524.4,2155.4 L523.2,2156.0 L522.3,2156.4 L521.7,2158.0 L523.2,2158.6 L524.2,2158.3 L525.4,2157.8 L526.9,2157.2 L528.6,2156.6 L530.4,2155.9 L532.2,2155.1 L534.1,2154.4 L535.9,2153.7 L537.6,2153.1 L539.1,2152.5 L540.3,2152.0 L541.2,2151.6Z" fill="#fdf5cc" stroke="#2a2820" stroke-width="1.5" stroke-linejoin="round"/>
<path d="M543.0,2162.1 L543.1,2162.7 L543.1,2163.6 L543.2,2164.6 L543.2,2165.7 L543.3,2166.9 L543.4,2168.2 L543.5,2169.4 L543.5,2170.7 L543.6,2171.8 L543.7,2172.8 L543.7,2173.6 L543.7,2174.2 L544.8,2175.1 L545.8,2174.2 L545.8,2173.6 L545.8,2172.7 L545.8,2171.7 L545.8,2170.6 L545.8,2169.4 L545.8,2168.1 L545.9,2166.9 L545.9,2165.6 L545.9,2164.5 L545.9,2163.5 L545.9,2162.7 L545.9,2162.0Z" fill="#fdf5cc" stroke="#2a2820" stroke-width="1.5" stroke-linejoin="round"/>
<path d="M549.0,2101.2 L550.1,2101.7 L551.4,2102.4 L553.0,2103.3 L554.7,2104.2 L556.6,2105.2 L558.7,2106.3 L560.8,2107.4 L563.0,2108.5 L565.2,2109.7 L567.4,2110.8 L569.6,2111.9 L571.7,2112.9 L573.9,2114.0 L576.1,2115.0 L578.3,2116.0 L580.6,2116.9 L582.9,2117.8 L585.1,2118.8 L587.3,2119.7 L589.4,2120.7 L591.3,2121.7 L593.1,2122.7 L594.8,2123.9 L596.2,2125.0 L597.5,2126.4 L598.8,2127.9 L600.0,2129.7 L601.1,2131.6 L602.1,2133.5 L603.1,2135.5 L604.0,2137.5 L604.8,2139.4 L605.5,2141.1 L606.2,2142.7 L606.8,2144.1 L607.3,2145.2 L609.0,2145.7 L609.8,2144.1 L609.3,2143.0 L608.9,2141.7 L608.4,2140.1 L607.8,2138.3 L607.1,2136.3 L606.4,2134.2 L605.6,2132.0 L604.6,2129.8 L603.6,2127.6 L602.4,2125.5 L601.1,2123.5 L599.6,2121.7 L597.9,2120.0 L596.1,2118.5 L594.1,2117.1 L592.1,2115.8 L589.9,2114.5 L587.7,2113.3 L585.6,2112.2 L583.4,2111.0 L581.3,2109.9 L579.2,2108.8 L577.3,2107.6 L575.5,2106.5 L573.7,2105.1 L571.9,2103.7 L570.0,2102.2 L568.0,2100.7 L566.1,2099.2 L564.3,2097.7 L562.5,2096.3 L560.8,2094.9 L559.3,2093.7 L557.9,2092.6 L556.7,2091.6 L555.7,2090.9Z" fill="#fdf5cc" stroke="#2a2820" stroke-width="1.5" stroke-linejoin="round"/>
<path d="M573.2,2111.8 L573.4,2112.3 L573.6,2113.0 L573.9,2113.9 L574.3,2114.9 L574.6,2115.9 L575.0,2117.0 L575.4,2118.1 L575.8,2119.1 L576.1,2120.1 L576.4,2120.9 L576.7,2121.7 L576.9,2122.2 L578.5,2123.0 L579.5,2121.5 L579.3,2120.9 L579.2,2120.2 L579.0,2119.3 L578.8,2118.3 L578.5,2117.2 L578.3,2116.1 L578.0,2114.9 L577.8,2113.9 L577.6,2112.8 L577.4,2111.9 L577.2,2111.2 L577.1,2110.6Z" fill="#fdf5cc" stroke="#2a2820" stroke-width="1.5" stroke-linejoin="round"/>
<path d="M594.6,2125.7 L594.7,2127.0 L594.8,2128.8 L595.0,2130.8 L595.2,2133.2 L595.4,2135.7 L595.7,2138.2 L595.9,2140.8 L596.1,2143.3 L596.3,2145.7 L596.5,2147.7 L596.7,2149.5 L596.8,2150.8 L598.0,2151.7 L599.0,2150.6 L599.0,2149.3 L598.9,2147.6 L598.9,2145.5 L598.8,2143.2 L598.7,2140.7 L598.6,2138.1 L598.6,2135.5 L598.5,2133.0 L598.4,2130.6 L598.3,2128.5 L598.3,2126.8 L598.2,2125.5Z" fill="#fdf5cc" stroke="#2a2820" stroke-width="1.5" stroke-linejoin="round"/>
<path d="M551.0,2088.3 L552.4,2087.7 L554.0,2087.1 L555.8,2086.3 L557.8,2085.5 L559.9,2084.5 L562.2,2083.6 L564.7,2082.6 L567.2,2081.6 L569.7,2080.6 L572.3,2079.7 L574.8,2078.9 L577.3,2078.1 L579.9,2077.4 L582.8,2076.8 L586.0,2076.2 L589.3,2075.7 L592.7,2075.2 L596.0,2074.7 L599.3,2074.2 L602.4,2073.8 L605.3,2073.4 L607.8,2073.1 L610.0,2072.8 L611.7,2072.5 L613.0,2070.8 L611.4,2069.4 L609.7,2069.5 L607.5,2069.6 L605.0,2069.7 L602.1,2069.8 L598.9,2070.0 L595.6,2070.1 L592.2,2070.3 L588.7,2070.5 L585.3,2070.7 L582.0,2070.9 L578.9,2071.2 L576.0,2071.4 L573.3,2071.7 L570.4,2072.1 L567.6,2072.5 L564.8,2073.0 L562.0,2073.5 L559.4,2074.0 L556.8,2074.5 L554.5,2075.0 L552.3,2075.5 L550.5,2075.9 L548.9,2076.2 L547.6,2076.5Z" fill="#fdf5cc" stroke="#2a2820" stroke-width="1.5" stroke-linejoin="round"/>
<path d="M585.1,2074.0 L585.2,2073.2 L585.3,2072.3 L585.5,2071.1 L585.6,2069.8 L585.8,2068.3 L586.0,2066.9 L586.2,2065.4 L586.4,2064.0 L586.5,2062.6 L586.7,2061.5 L586.8,2060.5 L586.9,2059.8 L585.9,2058.6 L584.7,2059.4 L584.5,2060.1 L584.3,2061.1 L584.1,2062.3 L583.8,2063.6 L583.5,2065.0 L583.3,2066.4 L583.0,2067.9 L582.7,2069.3 L582.4,2070.6 L582.2,2071.8 L582.0,2072.7 L581.9,2073.4Z" fill="#fdf5cc" stroke="#2a2820" stroke-width="1.5" stroke-linejoin="round"/>
<path d="M593.9,2072.7 L594.1,2072.2 L594.3,2071.6 L594.6,2070.8 L594.9,2069.9 L595.2,2069.0 L595.5,2068.0 L595.8,2067.0 L596.1,2066.1 L596.4,2065.2 L596.7,2064.4 L596.9,2063.8 L597.0,2063.3 L596.4,2062.1 L595.1,2062.6 L594.9,2063.0 L594.7,2063.7 L594.3,2064.4 L594.0,2065.3 L593.6,2066.2 L593.2,2067.1 L592.8,2068.1 L592.4,2069.0 L592.0,2069.8 L591.7,2070.6 L591.5,2071.2 L591.3,2071.7Z" fill="#fdf5cc" stroke="#2a2820" stroke-width="1.5" stroke-linejoin="round"/>
<path d="M554.6,2087.1 L556.4,2087.4 L558.7,2087.7 L561.4,2088.1 L564.4,2088.6 L567.7,2089.0 L571.2,2089.5 L574.8,2090.0 L578.4,2090.5 L582.0,2091.0 L585.4,2091.4 L588.6,2091.7 L591.6,2092.1 L594.4,2092.3 L597.3,2092.5 L600.1,2092.6 L603.0,2092.7 L605.8,2092.8 L608.5,2092.8 L611.1,2092.8 L613.5,2092.8 L615.6,2092.8 L617.6,2092.8 L619.3,2092.8 L620.6,2092.8 L621.9,2091.5 L620.7,2090.1 L619.4,2090.0 L617.7,2089.9 L615.7,2089.8 L613.5,2089.7 L611.1,2089.6 L608.6,2089.5 L605.9,2089.3 L603.2,2089.1 L600.4,2088.8 L597.6,2088.6 L594.8,2088.2 L592.1,2087.8 L589.3,2087.3 L586.2,2086.7 L582.9,2085.9 L579.4,2085.1 L575.9,2084.2 L572.4,2083.3 L569.0,2082.5 L565.8,2081.6 L562.9,2080.8 L560.2,2080.1 L558.0,2079.5 L556.2,2079.1Z" fill="#fdf5cc" stroke="#2a2820" stroke-width="1.5" stroke-linejoin="round"/>
<path d="M598.9,2091.6 L599.6,2091.0 L600.6,2090.3 L601.9,2089.4 L603.3,2088.3 L604.8,2087.2 L606.3,2086.1 L607.8,2084.9 L609.3,2083.8 L610.7,2082.8 L611.9,2081.9 L613.0,2081.1 L613.7,2080.6 L613.9,2079.0 L612.4,2078.7 L611.7,2079.2 L610.6,2079.9 L609.3,2080.8 L607.9,2081.7 L606.3,2082.7 L604.7,2083.8 L603.1,2084.9 L601.6,2085.9 L600.1,2086.8 L598.8,2087.7 L597.8,2088.4 L597.0,2088.9Z" fill="#fdf5cc" stroke="#2a2820" stroke-width="1.5" stroke-linejoin="round"/>
<ellipse cx="529.6" cy="2085.4" rx="25.8" ry="20.5" fill="#fdf5cc" stroke="#2a2820" stroke-width="1.5"/>
<path d="M545.5,2075.2 L544.9,2073.4 L544.1,2071.1 L543.2,2068.8 L542.1,2066.3 L541.0,2063.7 L539.8,2061.1 L538.7,2058.5 L537.6,2055.9 L536.7,2053.5 L535.9,2051.4 L535.2,2049.7 L535.0,2048.5 L535.0,2047.4 L535.2,2046.2 L535.5,2045.0 L535.8,2043.8 L536.3,2042.6 L536.9,2041.3 L537.6,2040.0 L538.4,2038.8 L539.3,2037.5 L540.3,2036.1 L541.4,2034.8 L542.4,2033.6 L543.3,2032.4 L544.3,2031.4 L545.2,2030.4 L546.2,2029.6 L547.3,2028.8 L548.5,2028.0 L549.7,2027.2 L551.0,2026.5 L552.4,2025.7 L553.9,2025.0 L555.5,2024.2 L557.3,2023.4 L559.1,2022.7 L561.0,2021.9 L563.0,2021.2 L565.0,2020.5 L567.2,2019.8 L569.4,2019.2 L571.7,2018.6 L574.2,2018.1 L576.7,2017.5 L579.3,2017.0 L582.0,2016.5 L584.8,2016.0 L587.8,2015.6 L591.2,2015.1 L594.9,2014.7 L598.8,2014.2 L602.8,2013.8 L606.8,2013.4 L610.7,2013.0 L614.4,2012.7 L617.8,2012.3 L620.8,2012.0 L623.4,2011.8 L625.4,2011.6 L627.8,2008.5 L625.0,2005.9 L623.0,2005.9 L620.5,2006.0 L617.4,2006.1 L614.0,2006.1 L610.2,2006.2 L606.3,2006.3 L602.3,2006.5 L598.2,2006.6 L594.3,2006.8 L590.5,2007.0 L586.9,2007.2 L583.7,2007.5 L580.8,2007.8 L577.9,2008.1 L575.2,2008.4 L572.5,2008.8 L569.9,2009.2 L567.4,2009.6 L564.9,2009.9 L562.5,2010.3 L560.2,2010.7 L557.9,2011.2 L555.7,2011.7 L553.5,2012.2 L551.4,2012.8 L549.5,2013.3 L547.6,2013.9 L545.7,2014.6 L543.9,2015.3 L542.1,2016.0 L540.4,2016.8 L538.7,2017.7 L537.0,2018.7 L535.3,2019.7 L533.6,2020.7 L532.0,2021.8 L530.4,2022.9 L528.8,2024.1 L527.2,2025.3 L525.5,2026.6 L523.8,2028.1 L522.1,2029.7 L520.5,2031.5 L518.9,2033.5 L517.4,2035.6 L515.9,2037.9 L514.7,2040.5 L513.5,2043.4 L512.5,2046.5 L511.3,2049.8 L510.3,2053.2 L509.4,2056.6 L508.6,2060.0 L507.9,2063.4 L507.2,2066.6 L506.6,2069.6 L506.0,2072.3 L505.5,2074.6 L505.0,2076.2 L504.6,2077.4Z" fill="#fdf5cc"/>
<path d="M624.3,2011.0 L624.9,2010.6 L625.7,2010.1 L626.7,2009.5 L627.8,2008.7 L629.1,2008.0 L630.3,2007.1 L631.6,2006.2 L632.9,2005.3 L634.2,2004.4 L635.3,2003.4 L636.3,2002.5 L637.2,2001.5 L638.0,2000.5 L638.5,1999.3 L639.0,1998.2 L639.3,1997.1 L639.6,1995.9 L639.8,1994.8 L639.9,1993.8 L640.0,1992.8 L640.1,1991.9 L640.1,1991.1 L640.2,1990.5 L640.3,1990.0 L639.2,1988.5 L637.5,1989.4 L637.4,1990.0 L637.2,1990.7 L637.1,1991.5 L637.0,1992.4 L636.8,1993.3 L636.6,1994.2 L636.4,1995.2 L636.1,1996.1 L635.8,1997.0 L635.4,1997.9 L635.0,1998.6 L634.5,1999.2 L633.9,1999.8 L633.0,2000.5 L631.9,2001.2 L630.7,2001.9 L629.4,2002.6 L628.1,2003.3 L626.8,2003.9 L625.5,2004.5 L624.3,2005.1 L623.2,2005.6 L622.3,2006.1 L621.6,2006.4Z" fill="#fdf5cc"/>
<path d="M627.6,2010.1 L628.7,2009.6 L630.1,2009.0 L631.8,2008.2 L633.8,2007.4 L635.9,2006.4 L638.1,2005.5 L640.2,2004.6 L642.3,2003.6 L644.3,2002.8 L646.0,2002.0 L647.5,2001.4 L648.5,2000.9 L649.2,1999.1 L647.5,1998.3 L646.4,1998.7 L644.9,1999.2 L643.1,1999.8 L641.1,2000.5 L638.9,2001.3 L636.7,2002.1 L634.5,2002.9 L632.3,2003.6 L630.3,2004.3 L628.5,2004.9 L627.0,2005.5 L625.9,2005.9Z" fill="#fdf5cc"/>
<path d="M625.9,2009.5 L626.1,2009.9 L626.4,2010.4 L626.8,2011.0 L627.2,2011.7 L627.6,2012.4 L628.0,2013.2 L628.5,2014.0 L628.9,2014.7 L629.3,2015.4 L629.7,2016.0 L630.0,2016.5 L630.2,2016.9 L631.8,2017.3 L632.4,2015.8 L632.2,2015.4 L632.0,2014.8 L631.8,2014.2 L631.5,2013.4 L631.1,2012.6 L630.8,2011.8 L630.5,2011.0 L630.1,2010.2 L629.8,2009.5 L629.6,2008.8 L629.3,2008.3 L629.2,2007.9Z" fill="#fdf5cc"/>
<path d="M633.7,2002.5 L633.6,2001.7 L633.5,2000.7 L633.3,1999.6 L633.1,1998.2 L632.9,1996.8 L632.7,1995.3 L632.5,1993.8 L632.3,1992.4 L632.2,1991.0 L632.0,1989.8 L631.9,1988.8 L631.8,1988.1 L630.4,1987.1 L629.3,1988.3 L629.4,1989.1 L629.5,1990.1 L629.6,1991.3 L629.7,1992.6 L629.8,1994.1 L629.9,1995.6 L630.0,1997.1 L630.1,1998.5 L630.2,1999.9 L630.3,2001.1 L630.4,2002.1 L630.4,2002.8Z" fill="#fdf5cc"/>
<path d="M516.3,2074.9 L515.0,2075.1 L513.4,2075.3 L511.5,2075.5 L509.4,2075.7 L507.2,2076.0 L504.8,2076.3 L502.4,2076.6 L499.9,2076.9 L497.4,2077.1 L495.0,2077.3 L492.7,2077.5 L490.6,2077.6 L488.5,2077.4 L486.3,2077.2 L484.0,2076.9 L481.6,2076.7 L479.3,2076.3 L477.0,2076.0 L474.8,2075.7 L472.7,2075.4 L470.7,2075.1 L469.0,2074.8 L467.5,2074.6 L466.3,2074.4 L463.5,2076.6 L465.3,2079.7 L466.4,2080.0 L467.9,2080.3 L469.5,2080.8 L471.4,2081.3 L473.5,2081.9 L475.7,2082.4 L478.0,2083.0 L480.3,2083.6 L482.7,2084.2 L485.1,2084.7 L487.4,2085.2 L489.6,2085.6 L491.9,2086.2 L494.2,2086.8 L496.7,2087.4 L499.2,2087.9 L501.8,2088.5 L504.2,2089.0 L506.6,2089.5 L508.9,2089.9 L511.0,2090.4 L512.8,2090.7 L514.3,2091.0 L515.5,2091.3Z" fill="#fdf5cc"/>
<path d="M479.9,2079.9 L479.0,2080.4 L477.9,2081.0 L476.5,2081.6 L474.8,2082.4 L473.1,2083.2 L471.3,2084.1 L469.4,2085.0 L467.6,2086.0 L465.9,2087.0 L464.3,2088.1 L462.8,2089.1 L461.6,2090.2 L460.5,2091.4 L459.7,2092.7 L459.1,2094.1 L458.6,2095.4 L458.2,2096.8 L457.9,2098.2 L457.7,2099.4 L457.5,2100.6 L457.3,2101.7 L457.2,2102.7 L457.1,2103.4 L456.9,2104.0 L457.9,2105.5 L459.5,2104.7 L459.7,2104.0 L459.9,2103.2 L460.1,2102.2 L460.3,2101.1 L460.6,2100.0 L460.8,2098.8 L461.2,2097.7 L461.6,2096.5 L462.1,2095.4 L462.6,2094.4 L463.3,2093.5 L464.0,2092.7 L464.9,2092.0 L466.2,2091.2 L467.7,2090.4 L469.4,2089.6 L471.2,2088.9 L473.1,2088.1 L474.9,2087.4 L476.7,2086.8 L478.3,2086.2 L479.8,2085.7 L481.1,2085.2 L482.1,2084.8Z" fill="#fdf5cc"/>
<path d="M467.3,2091.8 L467.1,2092.5 L466.8,2093.6 L466.5,2094.9 L466.1,2096.3 L465.7,2097.8 L465.2,2099.4 L464.8,2101.0 L464.4,2102.5 L464.0,2104.0 L463.7,2105.2 L463.4,2106.3 L463.2,2107.1 L464.0,2108.4 L465.4,2107.7 L465.6,2107.0 L466.0,2105.9 L466.4,2104.7 L466.9,2103.3 L467.4,2101.8 L467.9,2100.2 L468.4,2098.7 L468.9,2097.2 L469.4,2095.8 L469.8,2094.5 L470.2,2093.5 L470.4,2092.7Z" fill="#fdf5cc"/>
<path d="M512.2,2091.7 L511.3,2092.4 L510.0,2093.3 L508.4,2094.3 L506.6,2095.5 L504.5,2096.8 L502.4,2098.2 L500.2,2099.6 L498.0,2101.2 L495.9,2102.7 L493.8,2104.3 L491.9,2106.0 L490.2,2107.5 L488.8,2108.9 L487.4,2110.3 L486.2,2111.6 L484.9,2112.9 L483.7,2114.4 L482.6,2115.8 L481.6,2117.4 L480.7,2119.1 L479.8,2120.9 L479.0,2122.7 L478.3,2124.7 L477.7,2126.9 L477.2,2129.4 L476.8,2132.2 L476.6,2135.2 L476.5,2138.3 L476.5,2141.6 L476.6,2144.8 L476.7,2147.9 L476.8,2150.9 L476.9,2153.6 L477.0,2156.1 L477.0,2158.1 L477.0,2159.7 L477.9,2160.6 L478.9,2159.9 L479.1,2158.3 L479.4,2156.2 L479.7,2153.8 L480.1,2151.0 L480.4,2148.1 L480.9,2145.0 L481.3,2141.9 L481.8,2138.9 L482.4,2135.9 L483.0,2133.2 L483.6,2130.8 L484.3,2128.9 L485.0,2127.2 L485.7,2125.7 L486.5,2124.3 L487.3,2123.0 L488.1,2121.9 L489.0,2120.8 L490.0,2119.8 L491.0,2118.8 L492.1,2117.8 L493.4,2116.9 L494.7,2115.8 L496.1,2114.9 L497.6,2114.0 L499.4,2113.2 L501.4,2112.4 L503.6,2111.6 L505.9,2110.8 L508.2,2110.0 L510.5,2109.3 L512.7,2108.6 L514.7,2108.0 L516.6,2107.4 L518.3,2106.8 L519.6,2106.4Z" fill="#fdf5cc"/>
<path d="M489.7,2113.5 L488.6,2113.8 L487.0,2114.1 L485.1,2114.5 L483.0,2114.9 L480.8,2115.4 L478.4,2115.9 L476.1,2116.4 L473.8,2116.9 L471.7,2117.3 L469.8,2117.7 L468.3,2118.0 L467.1,2118.2 L466.1,2119.8 L467.5,2120.9 L468.7,2120.7 L470.3,2120.5 L472.2,2120.3 L474.3,2120.0 L476.6,2119.7 L479.0,2119.4 L481.4,2119.1 L483.7,2118.8 L485.8,2118.6 L487.7,2118.3 L489.3,2118.1 L490.5,2118.0Z" fill="#fdf5cc"/>
<path d="M479.2,2131.3 L478.0,2131.6 L476.3,2132.2 L474.3,2132.8 L472.0,2133.5 L469.6,2134.2 L467.0,2135.0 L464.5,2135.8 L462.1,2136.5 L459.8,2137.2 L457.8,2137.9 L456.1,2138.4 L454.8,2138.8 L454.0,2140.4 L455.5,2141.3 L456.8,2141.0 L458.5,2140.6 L460.6,2140.1 L462.9,2139.5 L465.4,2138.9 L467.9,2138.3 L470.5,2137.6 L473.0,2137.0 L475.3,2136.4 L477.3,2135.9 L479.1,2135.5 L480.3,2135.2Z" fill="#fdf5cc"/>
<path d="M472.5,2135.2 L471.8,2136.0 L471.0,2137.0 L470.0,2138.2 L468.9,2139.6 L467.7,2141.0 L466.4,2142.6 L465.2,2144.1 L464.0,2145.6 L462.9,2147.0 L461.9,2148.2 L461.0,2149.2 L460.4,2149.9 L460.6,2151.5 L462.1,2151.4 L462.8,2150.7 L463.7,2149.7 L464.7,2148.6 L465.9,2147.2 L467.2,2145.8 L468.5,2144.4 L469.9,2142.9 L471.1,2141.5 L472.3,2140.2 L473.4,2139.0 L474.3,2138.1 L474.9,2137.3Z" fill="#fdf5cc"/>
<path d="M528.0,2101.4 L528.4,2103.0 L528.9,2105.1 L529.5,2107.6 L530.1,2110.4 L530.8,2113.4 L531.5,2116.6 L532.2,2119.8 L533.0,2123.1 L533.7,2126.2 L534.3,2129.3 L534.9,2132.0 L535.4,2134.5 L535.9,2136.7 L536.3,2138.7 L536.7,2140.7 L537.0,2142.5 L537.4,2144.3 L537.8,2146.0 L538.2,2147.7 L538.6,2149.4 L539.1,2151.0 L539.7,2152.7 L540.4,2154.4 L541.1,2156.1 L542.0,2157.9 L543.1,2159.8 L544.3,2161.6 L545.5,2163.5 L546.8,2165.3 L548.2,2167.1 L549.4,2168.7 L550.7,2170.3 L551.8,2171.7 L552.8,2173.0 L553.7,2174.1 L554.3,2175.0 L556.1,2175.2 L556.5,2173.5 L555.9,2172.5 L555.2,2171.3 L554.3,2170.0 L553.3,2168.5 L552.2,2166.8 L551.1,2165.1 L549.9,2163.2 L548.8,2161.4 L547.8,2159.5 L546.8,2157.7 L546.0,2156.0 L545.4,2154.3 L544.8,2152.8 L544.4,2151.2 L544.0,2149.7 L543.7,2148.2 L543.5,2146.6 L543.2,2145.0 L543.0,2143.4 L542.8,2141.6 L542.7,2139.8 L542.5,2137.8 L542.2,2135.7 L542.0,2133.5 L541.7,2131.0 L541.4,2128.2 L541.2,2125.2 L541.0,2122.0 L540.9,2118.7 L540.8,2115.3 L540.7,2112.1 L540.6,2109.0 L540.5,2106.2 L540.4,2103.6 L540.3,2101.5 L540.2,2099.8Z" fill="#fdf5cc"/>
<path d="M538.5,2122.6 L539.0,2123.4 L539.5,2124.6 L540.2,2125.9 L541.0,2127.5 L541.8,2129.1 L542.7,2130.8 L543.5,2132.5 L544.3,2134.1 L545.1,2135.7 L545.8,2137.0 L546.4,2138.2 L546.8,2139.0 L548.2,2139.5 L548.8,2138.1 L548.5,2137.2 L548.0,2136.0 L547.4,2134.6 L546.8,2133.0 L546.1,2131.3 L545.4,2129.6 L544.6,2127.8 L543.9,2126.1 L543.3,2124.5 L542.7,2123.1 L542.2,2121.9 L541.9,2121.1Z" fill="#fdf5cc"/>
<path d="M539.8,2148.2 L538.9,2148.7 L537.7,2149.2 L536.2,2149.9 L534.6,2150.6 L532.8,2151.5 L531.0,2152.3 L529.2,2153.2 L527.5,2154.0 L525.8,2154.7 L524.4,2155.4 L523.2,2156.0 L522.3,2156.4 L521.7,2158.0 L523.2,2158.6 L524.2,2158.3 L525.4,2157.8 L526.9,2157.2 L528.6,2156.6 L530.4,2155.9 L532.2,2155.1 L534.1,2154.4 L535.9,2153.7 L537.6,2153.1 L539.1,2152.5 L540.3,2152.0 L541.2,2151.6Z" fill="#fdf5cc"/>
<path d="M543.0,2162.1 L543.1,2162.7 L543.1,2163.6 L543.2,2164.6 L543.2,2165.7 L543.3,2166.9 L543.4,2168.2 L543.5,2169.4 L543.5,2170.7 L543.6,2171.8 L543.7,2172.8 L543.7,2173.6 L543.7,2174.2 L544.8,2175.1 L545.8,2174.2 L545.8,2173.6 L545.8,2172.7 L545.8,2171.7 L545.8,2170.6 L545.8,2169.4 L545.8,2168.1 L545.9,2166.9 L545.9,2165.6 L545.9,2164.5 L545.9,2163.5 L545.9,2162.7 L545.9,2162.0Z" fill="#fdf5cc"/>
<path d="M549.0,2101.2 L550.1,2101.7 L551.4,2102.4 L553.0,2103.3 L554.7,2104.2 L556.6,2105.2 L558.7,2106.3 L560.8,2107.4 L563.0,2108.5 L565.2,2109.7 L567.4,2110.8 L569.6,2111.9 L571.7,2112.9 L573.9,2114.0 L576.1,2115.0 L578.3,2116.0 L580.6,2116.9 L582.9,2117.8 L585.1,2118.8 L587.3,2119.7 L589.4,2120.7 L591.3,2121.7 L593.1,2122.7 L594.8,2123.9 L596.2,2125.0 L597.5,2126.4 L598.8,2127.9 L600.0,2129.7 L601.1,2131.6 L602.1,2133.5 L603.1,2135.5 L604.0,2137.5 L604.8,2139.4 L605.5,2141.1 L606.2,2142.7 L606.8,2144.1 L607.3,2145.2 L609.0,2145.7 L609.8,2144.1 L609.3,2143.0 L608.9,2141.7 L608.4,2140.1 L607.8,2138.3 L607.1,2136.3 L606.4,2134.2 L605.6,2132.0 L604.6,2129.8 L603.6,2127.6 L602.4,2125.5 L601.1,2123.5 L599.6,2121.7 L597.9,2120.0 L596.1,2118.5 L594.1,2117.1 L592.1,2115.8 L589.9,2114.5 L587.7,2113.3 L585.6,2112.2 L583.4,2111.0 L581.3,2109.9 L579.2,2108.8 L577.3,2107.6 L575.5,2106.5 L573.7,2105.1 L571.9,2103.7 L570.0,2102.2 L568.0,2100.7 L566.1,2099.2 L564.3,2097.7 L562.5,2096.3 L560.8,2094.9 L559.3,2093.7 L557.9,2092.6 L556.7,2091.6 L555.7,2090.9Z" fill="#fdf5cc"/>
<path d="M573.2,2111.8 L573.4,2112.3 L573.6,2113.0 L573.9,2113.9 L574.3,2114.9 L574.6,2115.9 L575.0,2117.0 L575.4,2118.1 L575.8,2119.1 L576.1,2120.1 L576.4,2120.9 L576.7,2121.7 L576.9,2122.2 L578.5,2123.0 L579.5,2121.5 L579.3,2120.9 L579.2,2120.2 L579.0,2119.3 L578.8,2118.3 L578.5,2117.2 L578.3,2116.1 L578.0,2114.9 L577.8,2113.9 L577.6,2112.8 L577.4,2111.9 L577.2,2111.2 L577.1,2110.6Z" fill="#fdf5cc"/>
<path d="M594.6,2125.7 L594.7,2127.0 L594.8,2128.8 L595.0,2130.8 L595.2,2133.2 L595.4,2135.7 L595.7,2138.2 L595.9,2140.8 L596.1,2143.3 L596.3,2145.7 L596.5,2147.7 L596.7,2149.5 L596.8,2150.8 L598.0,2151.7 L599.0,2150.6 L599.0,2149.3 L598.9,2147.6 L598.9,2145.5 L598.8,2143.2 L598.7,2140.7 L598.6,2138.1 L598.6,2135.5 L598.5,2133.0 L598.4,2130.6 L598.3,2128.5 L598.3,2126.8 L598.2,2125.5Z" fill="#fdf5cc"/>
<path d="M551.0,2088.3 L552.4,2087.7 L554.0,2087.1 L555.8,2086.3 L557.8,2085.5 L559.9,2084.5 L562.2,2083.6 L564.7,2082.6 L567.2,2081.6 L569.7,2080.6 L572.3,2079.7 L574.8,2078.9 L577.3,2078.1 L579.9,2077.4 L582.8,2076.8 L586.0,2076.2 L589.3,2075.7 L592.7,2075.2 L596.0,2074.7 L599.3,2074.2 L602.4,2073.8 L605.3,2073.4 L607.8,2073.1 L610.0,2072.8 L611.7,2072.5 L613.0,2070.8 L611.4,2069.4 L609.7,2069.5 L607.5,2069.6 L605.0,2069.7 L602.1,2069.8 L598.9,2070.0 L595.6,2070.1 L592.2,2070.3 L588.7,2070.5 L585.3,2070.7 L582.0,2070.9 L578.9,2071.2 L576.0,2071.4 L573.3,2071.7 L570.4,2072.1 L567.6,2072.5 L564.8,2073.0 L562.0,2073.5 L559.4,2074.0 L556.8,2074.5 L554.5,2075.0 L552.3,2075.5 L550.5,2075.9 L548.9,2076.2 L547.6,2076.5Z" fill="#fdf5cc"/>
<path d="M585.1,2074.0 L585.2,2073.2 L585.3,2072.3 L585.5,2071.1 L585.6,2069.8 L585.8,2068.3 L586.0,2066.9 L586.2,2065.4 L586.4,2064.0 L586.5,2062.6 L586.7,2061.5 L586.8,2060.5 L586.9,2059.8 L585.9,2058.6 L584.7,2059.4 L584.5,2060.1 L584.3,2061.1 L584.1,2062.3 L583.8,2063.6 L583.5,2065.0 L583.3,2066.4 L583.0,2067.9 L582.7,2069.3 L582.4,2070.6 L582.2,2071.8 L582.0,2072.7 L581.9,2073.4Z" fill="#fdf5cc"/>
<path d="M593.9,2072.7 L594.1,2072.2 L594.3,2071.6 L594.6,2070.8 L594.9,2069.9 L595.2,2069.0 L595.5,2068.0 L595.8,2067.0 L596.1,2066.1 L596.4,2065.2 L596.7,2064.4 L596.9,2063.8 L597.0,2063.3 L596.4,2062.1 L595.1,2062.6 L594.9,2063.0 L594.7,2063.7 L594.3,2064.4 L594.0,2065.3 L593.6,2066.2 L593.2,2067.1 L592.8,2068.1 L592.4,2069.0 L592.0,2069.8 L591.7,2070.6 L591.5,2071.2 L591.3,2071.7Z" fill="#fdf5cc"/>
<path d="M554.6,2087.1 L556.4,2087.4 L558.7,2087.7 L561.4,2088.1 L564.4,2088.6 L567.7,2089.0 L571.2,2089.5 L574.8,2090.0 L578.4,2090.5 L582.0,2091.0 L585.4,2091.4 L588.6,2091.7 L591.6,2092.1 L594.4,2092.3 L597.3,2092.5 L600.1,2092.6 L603.0,2092.7 L605.8,2092.8 L608.5,2092.8 L611.1,2092.8 L613.5,2092.8 L615.6,2092.8 L617.6,2092.8 L619.3,2092.8 L620.6,2092.8 L621.9,2091.5 L620.7,2090.1 L619.4,2090.0 L617.7,2089.9 L615.7,2089.8 L613.5,2089.7 L611.1,2089.6 L608.6,2089.5 L605.9,2089.3 L603.2,2089.1 L600.4,2088.8 L597.6,2088.6 L594.8,2088.2 L592.1,2087.8 L589.3,2087.3 L586.2,2086.7 L582.9,2085.9 L579.4,2085.1 L575.9,2084.2 L572.4,2083.3 L569.0,2082.5 L565.8,2081.6 L562.9,2080.8 L560.2,2080.1 L558.0,2079.5 L556.2,2079.1Z" fill="#fdf5cc"/>
<path d="M598.9,2091.6 L599.6,2091.0 L600.6,2090.3 L601.9,2089.4 L603.3,2088.3 L604.8,2087.2 L606.3,2086.1 L607.8,2084.9 L609.3,2083.8 L610.7,2082.8 L611.9,2081.9 L613.0,2081.1 L613.7,2080.6 L613.9,2079.0 L612.4,2078.7 L611.7,2079.2 L610.6,2079.9 L609.3,2080.8 L607.9,2081.7 L606.3,2082.7 L604.7,2083.8 L603.1,2084.9 L601.6,2085.9 L600.1,2086.8 L598.8,2087.7 L597.8,2088.4 L597.0,2088.9Z" fill="#fdf5cc"/>
<ellipse cx="529.6" cy="2085.4" rx="25.8" ry="20.5" fill="#fdf5cc"/>
<ellipse cx="528.5" cy="2084.9" rx="14" ry="10.4" fill="url(#nucg)"/>
<path d="M498.7,2085.5 Q506.7,2091.5 503.7,2101.5" stroke="#f6dc6a" stroke-width="3" fill="none"/>
<text x="525.0" y="2101.8" text-anchor="middle" font-size="10" fill="#1a1a1a" style="font-family:'Liberation Sans',sans-serif;font-weight:bold">Glutamatergic</text>
<text x="526.5" y="2112.7" text-anchor="middle" font-size="10" fill="#1a1a1a" style="font-family:'Liberation Sans',sans-serif;font-weight:bold">Neuron</text>
</g>
<g transform="translate(0,0)">
<ellipse cx="386" cy="2074" rx="46" ry="64" fill="#ffffff" opacity="0.55"/>
<path d="M373.3,2029.6 Q385.1,2020.5 396.9,2015.3 Q384.8,2002.5 373.3,2029.6Z" fill="#f2b8b8"/>
<path d="M373.3,2029.6 Q385.1,2020.5 396.9,2015.3 Q384.8,2007.5 373.3,2029.6Z" fill="#e45858"/>
<path d="M403.1,2020.9 Q412.9,2034.8 420.5,2051.9 Q423.1,2019.9 403.1,2020.9Z" fill="#f2b8b8"/>
<path d="M403.1,2020.9 Q412.9,2034.8 420.5,2051.9 Q420.3,2024.0 403.1,2020.9Z" fill="#e45858"/>
<path d="M357.1,2047.0 Q364.1,2039.1 373.3,2034.5 Q354.6,2023.8 357.1,2047.0Z" fill="#f2b8b8"/>
<path d="M357.1,2047.0 Q364.1,2039.1 373.3,2034.5 Q357.2,2028.0 357.1,2047.0Z" fill="#e45858"/>
<path d="M344.7,2076.8 Q349.0,2064.1 357.1,2052.5 Q331.6,2059.5 344.7,2076.8Z" fill="#f2b8b8"/>
<path d="M344.7,2076.8 Q349.0,2064.1 357.1,2052.5 Q336.4,2060.8 344.7,2076.8Z" fill="#e45858"/>
<path d="M334.8,2079.3 Q342.9,2093.1 354.7,2105.3 Q326.5,2100.4 334.8,2079.3Z" fill="#f2b8b8"/>
<path d="M334.8,2079.3 Q342.9,2093.1 354.7,2105.3 Q331.0,2098.4 334.8,2079.3Z" fill="#e45858"/>
<path d="M354.7,2107.8 Q363.8,2121.4 374.5,2131.4 Q356.1,2137.7 354.7,2107.8Z" fill="#f2b8b8"/>
<path d="M354.7,2107.8 Q363.8,2121.4 374.5,2131.4 Q358.2,2133.2 354.7,2107.8Z" fill="#e45858"/>
<path d="M428.0,2070.6 Q423.6,2086.7 415.5,2101.6 Q440.7,2092.5 428.0,2070.6Z" fill="#f2b8b8"/>
<path d="M428.0,2070.6 Q423.6,2086.7 415.5,2101.6 Q436.0,2090.9 428.0,2070.6Z" fill="#e45858"/>
<path d="M414.3,2104.0 Q401.3,2121.5 387.0,2135.2 Q406.8,2138.6 414.3,2104.0Z" fill="#f2b8b8"/>
<path d="M414.3,2104.0 Q401.3,2121.5 387.0,2135.2 Q405.2,2133.9 414.3,2104.0Z" fill="#e45858"/>
<path d="M407.4,2037.6 L407.5,2036.3 L407.6,2034.7 L407.7,2032.9 L407.7,2030.9 L407.8,2028.9 L407.8,2026.7 L407.9,2024.4 L408.0,2022.2 L408.2,2020.0 L408.4,2017.8 L408.6,2015.8 L409.0,2014.1 L409.7,2012.6 L410.4,2011.0 L411.3,2009.6 L412.2,2008.1 L413.1,2006.6 L414.1,2005.1 L415.2,2003.6 L416.2,2002.1 L417.3,2000.6 L418.4,1999.0 L419.4,1997.4 L420.5,1995.7 L421.6,1994.1 L422.7,1992.3 L423.9,1990.5 L425.1,1988.6 L426.4,1986.8 L427.6,1984.9 L428.7,1983.1 L429.8,1981.4 L430.8,1979.9 L431.7,1978.5 L432.5,1977.3 L433.1,1976.4 L432.3,1973.1 L428.9,1973.6 L428.3,1974.5 L427.5,1975.6 L426.5,1977.0 L425.5,1978.5 L424.3,1980.1 L423.1,1981.8 L421.8,1983.6 L420.5,1985.4 L419.2,1987.3 L417.9,1989.0 L416.7,1990.7 L415.5,1992.3 L414.4,1993.7 L413.2,1995.0 L412.0,1996.4 L410.7,1997.7 L409.5,1999.1 L408.2,2000.5 L407.0,2001.9 L405.7,2003.4 L404.5,2004.9 L403.3,2006.5 L402.2,2008.2 L401.0,2009.9 L399.7,2011.7 L398.2,2013.6 L396.7,2015.5 L395.3,2017.5 L393.9,2019.6 L392.5,2021.6 L391.3,2023.5 L390.1,2025.4 L389.0,2027.0 L388.0,2028.4 L387.2,2029.6 L386.6,2030.4Z" fill="#b9def3" stroke="#1a2a33" stroke-width="1.3" stroke-linejoin="round"/>
<path d="M358.8,2070.5 L357.9,2070.4 L356.7,2070.4 L355.4,2070.3 L353.9,2070.3 L352.3,2070.2 L350.7,2070.2 L348.9,2070.1 L347.2,2070.0 L345.5,2069.9 L343.9,2069.8 L342.5,2069.4 L341.3,2069.0 L340.2,2068.6 L339.1,2068.2 L338.0,2067.7 L337.0,2067.3 L336.0,2066.9 L335.0,2066.5 L334.0,2066.0 L333.0,2065.6 L332.0,2065.1 L331.0,2064.7 L330.0,2064.3 L329.1,2063.8 L328.0,2063.4 L327.0,2062.9 L325.9,2062.5 L324.8,2062.0 L323.7,2061.6 L322.6,2061.1 L321.6,2060.7 L320.7,2060.3 L319.8,2060.0 L319.0,2059.7 L318.4,2059.4 L317.8,2059.2 L315.4,2060.3 L316.2,2062.8 L316.7,2063.1 L317.4,2063.4 L318.1,2063.8 L319.0,2064.2 L319.9,2064.6 L320.9,2065.1 L321.9,2065.6 L322.9,2066.1 L324.0,2066.7 L325.0,2067.2 L326.0,2067.7 L326.9,2068.2 L327.9,2068.7 L328.8,2069.2 L329.6,2069.7 L330.5,2070.3 L331.5,2070.8 L332.4,2071.4 L333.3,2072.0 L334.3,2072.6 L335.4,2073.2 L336.4,2073.8 L337.5,2074.4 L338.7,2075.0 L340.0,2075.7 L341.3,2076.3 L342.7,2077.4 L344.0,2078.4 L345.4,2079.5 L346.8,2080.6 L348.2,2081.6 L349.5,2082.6 L350.7,2083.5 L351.7,2084.3 L352.6,2085.0 L353.2,2085.5Z" fill="#b9def3" stroke="#1a2a33" stroke-width="1.3" stroke-linejoin="round"/>
<path d="M411.4,2071.8 L412.1,2071.9 L413.0,2072.0 L414.1,2072.1 L415.2,2072.3 L416.5,2072.5 L417.9,2072.7 L419.4,2073.0 L420.8,2073.2 L422.3,2073.4 L423.7,2073.6 L425.0,2073.9 L426.1,2074.4 L427.1,2074.8 L428.1,2075.3 L429.1,2075.8 L430.1,2076.3 L431.1,2076.8 L432.2,2077.3 L433.3,2077.8 L434.4,2078.3 L435.6,2078.8 L436.8,2079.2 L438.0,2079.6 L439.4,2079.9 L440.7,2080.2 L442.2,2080.3 L443.6,2080.4 L445.1,2080.4 L446.5,2080.4 L447.9,2080.4 L449.3,2080.3 L450.7,2080.2 L451.9,2080.1 L453.1,2080.1 L454.1,2080.0 L455.0,2080.0 L455.9,2080.0 L456.7,2080.0 L457.5,2080.0 L458.2,2080.0 L458.8,2080.0 L459.4,2080.0 L460.0,2080.0 L460.5,2080.0 L460.9,2080.0 L461.3,2080.0 L461.7,2080.0 L462.0,2080.0 L464.7,2077.0 L462.0,2074.0 L461.7,2074.0 L461.3,2074.0 L460.9,2074.0 L460.5,2074.0 L460.0,2074.0 L459.4,2074.0 L458.8,2074.0 L458.2,2074.0 L457.5,2074.0 L456.7,2074.0 L455.9,2074.0 L455.0,2074.0 L453.9,2074.0 L452.8,2074.1 L451.6,2074.1 L450.3,2074.2 L449.0,2074.3 L447.7,2074.4 L446.4,2074.4 L445.1,2074.4 L443.8,2074.4 L442.7,2074.4 L441.6,2074.2 L440.6,2074.1 L439.7,2073.8 L438.9,2073.5 L438.0,2073.1 L437.1,2072.6 L436.3,2072.1 L435.5,2071.5 L434.6,2070.9 L433.7,2070.3 L432.8,2069.6 L431.9,2069.0 L430.9,2068.3 L429.9,2067.6 L428.9,2067.0 L428.0,2066.0 L427.2,2064.9 L426.3,2063.8 L425.4,2062.6 L424.6,2061.5 L423.8,2060.4 L423.0,2059.4 L422.3,2058.4 L421.6,2057.6 L421.0,2056.8 L420.6,2056.2Z" fill="#b9def3" stroke="#1a2a33" stroke-width="1.3" stroke-linejoin="round"/>
<path d="M372.2,2113.0 L372.2,2114.7 L372.2,2116.9 L372.2,2119.5 L372.2,2122.5 L372.2,2125.7 L372.2,2129.2 L372.3,2132.7 L372.3,2136.3 L372.4,2139.9 L372.6,2143.4 L372.4,2146.6 L372.2,2149.6 L372.1,2152.5 L372.1,2155.3 L372.2,2158.0 L372.3,2160.7 L372.5,2163.3 L372.7,2165.9 L372.9,2168.4 L373.2,2170.9 L373.5,2173.3 L373.7,2175.6 L373.9,2178.0 L374.1,2180.2 L374.3,2182.6 L374.5,2185.0 L374.7,2187.5 L374.9,2189.9 L375.2,2192.3 L375.4,2194.7 L375.6,2196.9 L375.9,2199.0 L376.1,2200.9 L376.2,2202.7 L376.4,2204.1 L376.5,2205.3 L380.3,2208.1 L383.5,2204.7 L383.4,2203.5 L383.3,2202.0 L383.2,2200.3 L383.0,2198.4 L382.9,2196.3 L382.7,2194.1 L382.6,2191.7 L382.4,2189.3 L382.3,2186.9 L382.1,2184.5 L382.0,2182.1 L381.9,2179.8 L381.8,2177.4 L381.7,2175.1 L381.6,2172.7 L381.5,2170.3 L381.4,2167.8 L381.3,2165.4 L381.3,2162.9 L381.3,2160.4 L381.3,2157.9 L381.4,2155.4 L381.6,2152.9 L381.8,2150.4 L382.2,2147.7 L382.8,2144.7 L383.9,2141.7 L385.1,2138.5 L386.3,2135.3 L387.6,2132.1 L388.9,2129.0 L390.1,2126.0 L391.3,2123.3 L392.3,2120.8 L393.2,2118.7 L393.8,2117.0Z" fill="#b9def3" stroke="#1a2a33" stroke-width="1.3" stroke-linejoin="round"/>
<ellipse cx="387" cy="2074" rx="34" ry="47" transform="rotate(12 387 2074)" fill="#b9def3" stroke="#1a2a33" stroke-width="1.3"/>
<ellipse cx="461" cy="2077.5" rx="5.5" ry="4.5" fill="#b9def3" stroke="#1a2a33" stroke-width="1.2"/>
<path d="M407.4,2037.6 L407.5,2036.3 L407.6,2034.7 L407.7,2032.9 L407.7,2030.9 L407.8,2028.9 L407.8,2026.7 L407.9,2024.4 L408.0,2022.2 L408.2,2020.0 L408.4,2017.8 L408.6,2015.8 L409.0,2014.1 L409.7,2012.6 L410.4,2011.0 L411.3,2009.6 L412.2,2008.1 L413.1,2006.6 L414.1,2005.1 L415.2,2003.6 L416.2,2002.1 L417.3,2000.6 L418.4,1999.0 L419.4,1997.4 L420.5,1995.7 L421.6,1994.1 L422.7,1992.3 L423.9,1990.5 L425.1,1988.6 L426.4,1986.8 L427.6,1984.9 L428.7,1983.1 L429.8,1981.4 L430.8,1979.9 L431.7,1978.5 L432.5,1977.3 L433.1,1976.4 L432.3,1973.1 L428.9,1973.6 L428.3,1974.5 L427.5,1975.6 L426.5,1977.0 L425.5,1978.5 L424.3,1980.1 L423.1,1981.8 L421.8,1983.6 L420.5,1985.4 L419.2,1987.3 L417.9,1989.0 L416.7,1990.7 L415.5,1992.3 L414.4,1993.7 L413.2,1995.0 L412.0,1996.4 L410.7,1997.7 L409.5,1999.1 L408.2,2000.5 L407.0,2001.9 L405.7,2003.4 L404.5,2004.9 L403.3,2006.5 L402.2,2008.2 L401.0,2009.9 L399.7,2011.7 L398.2,2013.6 L396.7,2015.5 L395.3,2017.5 L393.9,2019.6 L392.5,2021.6 L391.3,2023.5 L390.1,2025.4 L389.0,2027.0 L388.0,2028.4 L387.2,2029.6 L386.6,2030.4Z" fill="#b9def3"/>
<path d="M358.8,2070.5 L357.9,2070.4 L356.7,2070.4 L355.4,2070.3 L353.9,2070.3 L352.3,2070.2 L350.7,2070.2 L348.9,2070.1 L347.2,2070.0 L345.5,2069.9 L343.9,2069.8 L342.5,2069.4 L341.3,2069.0 L340.2,2068.6 L339.1,2068.2 L338.0,2067.7 L337.0,2067.3 L336.0,2066.9 L335.0,2066.5 L334.0,2066.0 L333.0,2065.6 L332.0,2065.1 L331.0,2064.7 L330.0,2064.3 L329.1,2063.8 L328.0,2063.4 L327.0,2062.9 L325.9,2062.5 L324.8,2062.0 L323.7,2061.6 L322.6,2061.1 L321.6,2060.7 L320.7,2060.3 L319.8,2060.0 L319.0,2059.7 L318.4,2059.4 L317.8,2059.2 L315.4,2060.3 L316.2,2062.8 L316.7,2063.1 L317.4,2063.4 L318.1,2063.8 L319.0,2064.2 L319.9,2064.6 L320.9,2065.1 L321.9,2065.6 L322.9,2066.1 L324.0,2066.7 L325.0,2067.2 L326.0,2067.7 L326.9,2068.2 L327.9,2068.7 L328.8,2069.2 L329.6,2069.7 L330.5,2070.3 L331.5,2070.8 L332.4,2071.4 L333.3,2072.0 L334.3,2072.6 L335.4,2073.2 L336.4,2073.8 L337.5,2074.4 L338.7,2075.0 L340.0,2075.7 L341.3,2076.3 L342.7,2077.4 L344.0,2078.4 L345.4,2079.5 L346.8,2080.6 L348.2,2081.6 L349.5,2082.6 L350.7,2083.5 L351.7,2084.3 L352.6,2085.0 L353.2,2085.5Z" fill="#b9def3"/>
<path d="M411.4,2071.8 L412.1,2071.9 L413.0,2072.0 L414.1,2072.1 L415.2,2072.3 L416.5,2072.5 L417.9,2072.7 L419.4,2073.0 L420.8,2073.2 L422.3,2073.4 L423.7,2073.6 L425.0,2073.9 L426.1,2074.4 L427.1,2074.8 L428.1,2075.3 L429.1,2075.8 L430.1,2076.3 L431.1,2076.8 L432.2,2077.3 L433.3,2077.8 L434.4,2078.3 L435.6,2078.8 L436.8,2079.2 L438.0,2079.6 L439.4,2079.9 L440.7,2080.2 L442.2,2080.3 L443.6,2080.4 L445.1,2080.4 L446.5,2080.4 L447.9,2080.4 L449.3,2080.3 L450.7,2080.2 L451.9,2080.1 L453.1,2080.1 L454.1,2080.0 L455.0,2080.0 L455.9,2080.0 L456.7,2080.0 L457.5,2080.0 L458.2,2080.0 L458.8,2080.0 L459.4,2080.0 L460.0,2080.0 L460.5,2080.0 L460.9,2080.0 L461.3,2080.0 L461.7,2080.0 L462.0,2080.0 L464.7,2077.0 L462.0,2074.0 L461.7,2074.0 L461.3,2074.0 L460.9,2074.0 L460.5,2074.0 L460.0,2074.0 L459.4,2074.0 L458.8,2074.0 L458.2,2074.0 L457.5,2074.0 L456.7,2074.0 L455.9,2074.0 L455.0,2074.0 L453.9,2074.0 L452.8,2074.1 L451.6,2074.1 L450.3,2074.2 L449.0,2074.3 L447.7,2074.4 L446.4,2074.4 L445.1,2074.4 L443.8,2074.4 L442.7,2074.4 L441.6,2074.2 L440.6,2074.1 L439.7,2073.8 L438.9,2073.5 L438.0,2073.1 L437.1,2072.6 L436.3,2072.1 L435.5,2071.5 L434.6,2070.9 L433.7,2070.3 L432.8,2069.6 L431.9,2069.0 L430.9,2068.3 L429.9,2067.6 L428.9,2067.0 L428.0,2066.0 L427.2,2064.9 L426.3,2063.8 L425.4,2062.6 L424.6,2061.5 L423.8,2060.4 L423.0,2059.4 L422.3,2058.4 L421.6,2057.6 L421.0,2056.8 L420.6,2056.2Z" fill="#b9def3"/>
<path d="M372.2,2113.0 L372.2,2114.7 L372.2,2116.9 L372.2,2119.5 L372.2,2122.5 L372.2,2125.7 L372.2,2129.2 L372.3,2132.7 L372.3,2136.3 L372.4,2139.9 L372.6,2143.4 L372.4,2146.6 L372.2,2149.6 L372.1,2152.5 L372.1,2155.3 L372.2,2158.0 L372.3,2160.7 L372.5,2163.3 L372.7,2165.9 L372.9,2168.4 L373.2,2170.9 L373.5,2173.3 L373.7,2175.6 L373.9,2178.0 L374.1,2180.2 L374.3,2182.6 L374.5,2185.0 L374.7,2187.5 L374.9,2189.9 L375.2,2192.3 L375.4,2194.7 L375.6,2196.9 L375.9,2199.0 L376.1,2200.9 L376.2,2202.7 L376.4,2204.1 L376.5,2205.3 L380.3,2208.1 L383.5,2204.7 L383.4,2203.5 L383.3,2202.0 L383.2,2200.3 L383.0,2198.4 L382.9,2196.3 L382.7,2194.1 L382.6,2191.7 L382.4,2189.3 L382.3,2186.9 L382.1,2184.5 L382.0,2182.1 L381.9,2179.8 L381.8,2177.4 L381.7,2175.1 L381.6,2172.7 L381.5,2170.3 L381.4,2167.8 L381.3,2165.4 L381.3,2162.9 L381.3,2160.4 L381.3,2157.9 L381.4,2155.4 L381.6,2152.9 L381.8,2150.4 L382.2,2147.7 L382.8,2144.7 L383.9,2141.7 L385.1,2138.5 L386.3,2135.3 L387.6,2132.1 L388.9,2129.0 L390.1,2126.0 L391.3,2123.3 L392.3,2120.8 L393.2,2118.7 L393.8,2117.0Z" fill="#b9def3"/>
<ellipse cx="387" cy="2074" rx="34" ry="47" transform="rotate(12 387 2074)" fill="#b9def3"/>
<ellipse cx="461" cy="2077.5" rx="5.5" ry="4.5" fill="#b9def3"/>
<ellipse cx="386" cy="2076" rx="19" ry="31" fill="#d7ead9" stroke="#e6ecc4" stroke-width="1.5" transform="rotate(8 386 2076)"/>
<path d="M362,2052 Q354,2080 362,2108" stroke="#ffffff" stroke-width="1.2" fill="none" opacity="0.8"/>
<text x="362.7" y="2079.5" font-size="9.5" fill="#1a1a1a" style="font-family:'Liberation Sans',sans-serif;font-weight:bold">PV<tspan font-size="6" dy="-4">+</tspan><tspan dy="4"> Neuron</tspan></text>
</g>
<g transform="translate(509,1)">
<path d="M407.4,2037.6 L407.5,2036.3 L407.6,2034.7 L407.7,2032.9 L407.7,2030.9 L407.8,2028.9 L407.8,2026.7 L407.9,2024.4 L408.0,2022.2 L408.2,2020.0 L408.4,2017.8 L408.6,2015.8 L409.0,2014.1 L409.7,2012.6 L410.4,2011.0 L411.3,2009.6 L412.2,2008.1 L413.1,2006.6 L414.1,2005.1 L415.2,2003.6 L416.2,2002.1 L417.3,2000.6 L418.4,1999.0 L419.4,1997.4 L420.5,1995.7 L421.6,1994.1 L422.7,1992.3 L423.9,1990.5 L425.1,1988.6 L426.4,1986.8 L427.6,1984.9 L428.7,1983.1 L429.8,1981.4 L430.8,1979.9 L431.7,1978.5 L432.5,1977.3 L433.1,1976.4 L432.3,1973.1 L428.9,1973.6 L428.3,1974.5 L427.5,1975.6 L426.5,1977.0 L425.5,1978.5 L424.3,1980.1 L423.1,1981.8 L421.8,1983.6 L420.5,1985.4 L419.2,1987.3 L417.9,1989.0 L416.7,1990.7 L415.5,1992.3 L414.4,1993.7 L413.2,1995.0 L412.0,1996.4 L410.7,1997.7 L409.5,1999.1 L408.2,2000.5 L407.0,2001.9 L405.7,2003.4 L404.5,2004.9 L403.3,2006.5 L402.2,2008.2 L401.0,2009.9 L399.7,2011.7 L398.2,2013.6 L396.7,2015.5 L395.3,2017.5 L393.9,2019.6 L392.5,2021.6 L391.3,2023.5 L390.1,2025.4 L389.0,2027.0 L388.0,2028.4 L387.2,2029.6 L386.6,2030.4Z" fill="#b9def3" stroke="#1a2a33" stroke-width="1.3" stroke-linejoin="round"/>
<path d="M358.8,2070.5 L357.9,2070.4 L356.7,2070.4 L355.4,2070.3 L353.9,2070.3 L352.3,2070.2 L350.7,2070.2 L348.9,2070.1 L347.2,2070.0 L345.5,2069.9 L343.9,2069.8 L342.5,2069.4 L341.3,2069.0 L340.2,2068.6 L339.1,2068.2 L338.0,2067.7 L337.0,2067.3 L336.0,2066.9 L335.0,2066.5 L334.0,2066.0 L333.0,2065.6 L332.0,2065.1 L331.0,2064.7 L330.0,2064.3 L329.1,2063.8 L328.0,2063.4 L327.0,2062.9 L325.9,2062.5 L324.8,2062.0 L323.7,2061.6 L322.6,2061.1 L321.6,2060.7 L320.7,2060.3 L319.8,2060.0 L319.0,2059.7 L318.4,2059.4 L317.8,2059.2 L315.4,2060.3 L316.2,2062.8 L316.7,2063.1 L317.4,2063.4 L318.1,2063.8 L319.0,2064.2 L319.9,2064.6 L320.9,2065.1 L321.9,2065.6 L322.9,2066.1 L324.0,2066.7 L325.0,2067.2 L326.0,2067.7 L326.9,2068.2 L327.9,2068.7 L328.8,2069.2 L329.6,2069.7 L330.5,2070.3 L331.5,2070.8 L332.4,2071.4 L333.3,2072.0 L334.3,2072.6 L335.4,2073.2 L336.4,2073.8 L337.5,2074.4 L338.7,2075.0 L340.0,2075.7 L341.3,2076.3 L342.7,2077.4 L344.0,2078.4 L345.4,2079.5 L346.8,2080.6 L348.2,2081.6 L349.5,2082.6 L350.7,2083.5 L351.7,2084.3 L352.6,2085.0 L353.2,2085.5Z" fill="#b9def3" stroke="#1a2a33" stroke-width="1.3" stroke-linejoin="round"/>
<path d="M411.4,2071.8 L412.1,2071.9 L413.0,2072.0 L414.1,2072.1 L415.2,2072.3 L416.5,2072.5 L417.9,2072.7 L419.4,2073.0 L420.8,2073.2 L422.3,2073.4 L423.7,2073.6 L425.0,2073.9 L426.1,2074.4 L427.1,2074.8 L428.1,2075.3 L429.1,2075.8 L430.1,2076.3 L431.1,2076.8 L432.2,2077.3 L433.3,2077.8 L434.4,2078.3 L435.6,2078.8 L436.8,2079.2 L438.0,2079.6 L439.4,2079.9 L440.7,2080.2 L442.2,2080.3 L443.6,2080.4 L445.1,2080.4 L446.5,2080.4 L447.9,2080.4 L449.3,2080.3 L450.7,2080.2 L451.9,2080.1 L453.1,2080.1 L454.1,2080.0 L455.0,2080.0 L455.9,2080.0 L456.7,2080.0 L457.5,2080.0 L458.2,2080.0 L458.8,2080.0 L459.4,2080.0 L460.0,2080.0 L460.5,2080.0 L460.9,2080.0 L461.3,2080.0 L461.7,2080.0 L462.0,2080.0 L464.7,2077.0 L462.0,2074.0 L461.7,2074.0 L461.3,2074.0 L460.9,2074.0 L460.5,2074.0 L460.0,2074.0 L459.4,2074.0 L458.8,2074.0 L458.2,2074.0 L457.5,2074.0 L456.7,2074.0 L455.9,2074.0 L455.0,2074.0 L453.9,2074.0 L452.8,2074.1 L451.6,2074.1 L450.3,2074.2 L449.0,2074.3 L447.7,2074.4 L446.4,2074.4 L445.1,2074.4 L443.8,2074.4 L442.7,2074.4 L441.6,2074.2 L440.6,2074.1 L439.7,2073.8 L438.9,2073.5 L438.0,2073.1 L437.1,2072.6 L436.3,2072.1 L435.5,2071.5 L434.6,2070.9 L433.7,2070.3 L432.8,2069.6 L431.9,2069.0 L430.9,2068.3 L429.9,2067.6 L428.9,2067.0 L428.0,2066.0 L427.2,2064.9 L426.3,2063.8 L425.4,2062.6 L424.6,2061.5 L423.8,2060.4 L423.0,2059.4 L422.3,2058.4 L421.6,2057.6 L421.0,2056.8 L420.6,2056.2Z" fill="#b9def3" stroke="#1a2a33" stroke-width="1.3" stroke-linejoin="round"/>
<path d="M372.2,2113.0 L372.2,2114.7 L372.2,2116.9 L372.2,2119.5 L372.2,2122.5 L372.2,2125.7 L372.2,2129.2 L372.3,2132.7 L372.3,2136.3 L372.4,2139.9 L372.6,2143.4 L372.4,2146.6 L372.2,2149.6 L372.1,2152.5 L372.1,2155.3 L372.2,2158.0 L372.3,2160.7 L372.5,2163.3 L372.7,2165.9 L372.9,2168.4 L373.2,2170.9 L373.5,2173.3 L373.7,2175.6 L373.9,2178.0 L374.1,2180.2 L374.3,2182.6 L374.5,2185.0 L374.7,2187.5 L374.9,2189.9 L375.2,2192.3 L375.4,2194.7 L375.6,2196.9 L375.9,2199.0 L376.1,2200.9 L376.2,2202.7 L376.4,2204.1 L376.5,2205.3 L380.3,2208.1 L383.5,2204.7 L383.4,2203.5 L383.3,2202.0 L383.2,2200.3 L383.0,2198.4 L382.9,2196.3 L382.7,2194.1 L382.6,2191.7 L382.4,2189.3 L382.3,2186.9 L382.1,2184.5 L382.0,2182.1 L381.9,2179.8 L381.8,2177.4 L381.7,2175.1 L381.6,2172.7 L381.5,2170.3 L381.4,2167.8 L381.3,2165.4 L381.3,2162.9 L381.3,2160.4 L381.3,2157.9 L381.4,2155.4 L381.6,2152.9 L381.8,2150.4 L382.2,2147.7 L382.8,2144.7 L383.9,2141.7 L385.1,2138.5 L386.3,2135.3 L387.6,2132.1 L388.9,2129.0 L390.1,2126.0 L391.3,2123.3 L392.3,2120.8 L393.2,2118.7 L393.8,2117.0Z" fill="#b9def3" stroke="#1a2a33" stroke-width="1.3" stroke-linejoin="round"/>
<ellipse cx="387" cy="2074" rx="34" ry="47" transform="rotate(12 387 2074)" fill="#b9def3" stroke="#1a2a33" stroke-width="1.3"/>
<ellipse cx="461" cy="2077.5" rx="5.5" ry="4.5" fill="#b9def3" stroke="#1a2a33" stroke-width="1.2"/>
<path d="M407.4,2037.6 L407.5,2036.3 L407.6,2034.7 L407.7,2032.9 L407.7,2030.9 L407.8,2028.9 L407.8,2026.7 L407.9,2024.4 L408.0,2022.2 L408.2,2020.0 L408.4,2017.8 L408.6,2015.8 L409.0,2014.1 L409.7,2012.6 L410.4,2011.0 L411.3,2009.6 L412.2,2008.1 L413.1,2006.6 L414.1,2005.1 L415.2,2003.6 L416.2,2002.1 L417.3,2000.6 L418.4,1999.0 L419.4,1997.4 L420.5,1995.7 L421.6,1994.1 L422.7,1992.3 L423.9,1990.5 L425.1,1988.6 L426.4,1986.8 L427.6,1984.9 L428.7,1983.1 L429.8,1981.4 L430.8,1979.9 L431.7,1978.5 L432.5,1977.3 L433.1,1976.4 L432.3,1973.1 L428.9,1973.6 L428.3,1974.5 L427.5,1975.6 L426.5,1977.0 L425.5,1978.5 L424.3,1980.1 L423.1,1981.8 L421.8,1983.6 L420.5,1985.4 L419.2,1987.3 L417.9,1989.0 L416.7,1990.7 L415.5,1992.3 L414.4,1993.7 L413.2,1995.0 L412.0,1996.4 L410.7,1997.7 L409.5,1999.1 L408.2,2000.5 L407.0,2001.9 L405.7,2003.4 L404.5,2004.9 L403.3,2006.5 L402.2,2008.2 L401.0,2009.9 L399.7,2011.7 L398.2,2013.6 L396.7,2015.5 L395.3,2017.5 L393.9,2019.6 L392.5,2021.6 L391.3,2023.5 L390.1,2025.4 L389.0,2027.0 L388.0,2028.4 L387.2,2029.6 L386.6,2030.4Z" fill="#b9def3"/>
<path d="M358.8,2070.5 L357.9,2070.4 L356.7,2070.4 L355.4,2070.3 L353.9,2070.3 L352.3,2070.2 L350.7,2070.2 L348.9,2070.1 L347.2,2070.0 L345.5,2069.9 L343.9,2069.8 L342.5,2069.4 L341.3,2069.0 L340.2,2068.6 L339.1,2068.2 L338.0,2067.7 L337.0,2067.3 L336.0,2066.9 L335.0,2066.5 L334.0,2066.0 L333.0,2065.6 L332.0,2065.1 L331.0,2064.7 L330.0,2064.3 L329.1,2063.8 L328.0,2063.4 L327.0,2062.9 L325.9,2062.5 L324.8,2062.0 L323.7,2061.6 L322.6,2061.1 L321.6,2060.7 L320.7,2060.3 L319.8,2060.0 L319.0,2059.7 L318.4,2059.4 L317.8,2059.2 L315.4,2060.3 L316.2,2062.8 L316.7,2063.1 L317.4,2063.4 L318.1,2063.8 L319.0,2064.2 L319.9,2064.6 L320.9,2065.1 L321.9,2065.6 L322.9,2066.1 L324.0,2066.7 L325.0,2067.2 L326.0,2067.7 L326.9,2068.2 L327.9,2068.7 L328.8,2069.2 L329.6,2069.7 L330.5,2070.3 L331.5,2070.8 L332.4,2071.4 L333.3,2072.0 L334.3,2072.6 L335.4,2073.2 L336.4,2073.8 L337.5,2074.4 L338.7,2075.0 L340.0,2075.7 L341.3,2076.3 L342.7,2077.4 L344.0,2078.4 L345.4,2079.5 L346.8,2080.6 L348.2,2081.6 L349.5,2082.6 L350.7,2083.5 L351.7,2084.3 L352.6,2085.0 L353.2,2085.5Z" fill="#b9def3"/>
<path d="M411.4,2071.8 L412.1,2071.9 L413.0,2072.0 L414.1,2072.1 L415.2,2072.3 L416.5,2072.5 L417.9,2072.7 L419.4,2073.0 L420.8,2073.2 L422.3,2073.4 L423.7,2073.6 L425.0,2073.9 L426.1,2074.4 L427.1,2074.8 L428.1,2075.3 L429.1,2075.8 L430.1,2076.3 L431.1,2076.8 L432.2,2077.3 L433.3,2077.8 L434.4,2078.3 L435.6,2078.8 L436.8,2079.2 L438.0,2079.6 L439.4,2079.9 L440.7,2080.2 L442.2,2080.3 L443.6,2080.4 L445.1,2080.4 L446.5,2080.4 L447.9,2080.4 L449.3,2080.3 L450.7,2080.2 L451.9,2080.1 L453.1,2080.1 L454.1,2080.0 L455.0,2080.0 L455.9,2080.0 L456.7,2080.0 L457.5,2080.0 L458.2,2080.0 L458.8,2080.0 L459.4,2080.0 L460.0,2080.0 L460.5,2080.0 L460.9,2080.0 L461.3,2080.0 L461.7,2080.0 L462.0,2080.0 L464.7,2077.0 L462.0,2074.0 L461.7,2074.0 L461.3,2074.0 L460.9,2074.0 L460.5,2074.0 L460.0,2074.0 L459.4,2074.0 L458.8,2074.0 L458.2,2074.0 L457.5,2074.0 L456.7,2074.0 L455.9,2074.0 L455.0,2074.0 L453.9,2074.0 L452.8,2074.1 L451.6,2074.1 L450.3,2074.2 L449.0,2074.3 L447.7,2074.4 L446.4,2074.4 L445.1,2074.4 L443.8,2074.4 L442.7,2074.4 L441.6,2074.2 L440.6,2074.1 L439.7,2073.8 L438.9,2073.5 L438.0,2073.1 L437.1,2072.6 L436.3,2072.1 L435.5,2071.5 L434.6,2070.9 L433.7,2070.3 L432.8,2069.6 L431.9,2069.0 L430.9,2068.3 L429.9,2067.6 L428.9,2067.0 L428.0,2066.0 L427.2,2064.9 L426.3,2063.8 L425.4,2062.6 L424.6,2061.5 L423.8,2060.4 L423.0,2059.4 L422.3,2058.4 L421.6,2057.6 L421.0,2056.8 L420.6,2056.2Z" fill="#b9def3"/>
<path d="M372.2,2113.0 L372.2,2114.7 L372.2,2116.9 L372.2,2119.5 L372.2,2122.5 L372.2,2125.7 L372.2,2129.2 L372.3,2132.7 L372.3,2136.3 L372.4,2139.9 L372.6,2143.4 L372.4,2146.6 L372.2,2149.6 L372.1,2152.5 L372.1,2155.3 L372.2,2158.0 L372.3,2160.7 L372.5,2163.3 L372.7,2165.9 L372.9,2168.4 L373.2,2170.9 L373.5,2173.3 L373.7,2175.6 L373.9,2178.0 L374.1,2180.2 L374.3,2182.6 L374.5,2185.0 L374.7,2187.5 L374.9,2189.9 L375.2,2192.3 L375.4,2194.7 L375.6,2196.9 L375.9,2199.0 L376.1,2200.9 L376.2,2202.7 L376.4,2204.1 L376.5,2205.3 L380.3,2208.1 L383.5,2204.7 L383.4,2203.5 L383.3,2202.0 L383.2,2200.3 L383.0,2198.4 L382.9,2196.3 L382.7,2194.1 L382.6,2191.7 L382.4,2189.3 L382.3,2186.9 L382.1,2184.5 L382.0,2182.1 L381.9,2179.8 L381.8,2177.4 L381.7,2175.1 L381.6,2172.7 L381.5,2170.3 L381.4,2167.8 L381.3,2165.4 L381.3,2162.9 L381.3,2160.4 L381.3,2157.9 L381.4,2155.4 L381.6,2152.9 L381.8,2150.4 L382.2,2147.7 L382.8,2144.7 L383.9,2141.7 L385.1,2138.5 L386.3,2135.3 L387.6,2132.1 L388.9,2129.0 L390.1,2126.0 L391.3,2123.3 L392.3,2120.8 L393.2,2118.7 L393.8,2117.0Z" fill="#b9def3"/>
<ellipse cx="387" cy="2074" rx="34" ry="47" transform="rotate(12 387 2074)" fill="#b9def3"/>
<ellipse cx="461" cy="2077.5" rx="5.5" ry="4.5" fill="#b9def3"/>
<ellipse cx="386" cy="2076" rx="19" ry="31" fill="#d7ead9" stroke="#e6ecc4" stroke-width="1.5" transform="rotate(8 386 2076)"/>
<path d="M362,2052 Q354,2080 362,2108" stroke="#ffffff" stroke-width="1.2" fill="none" opacity="0.8"/>
<text x="362.7" y="2079.5" font-size="9.5" fill="#1a1a1a" style="font-family:'Liberation Sans',sans-serif;font-weight:bold">PV<tspan font-size="6" dy="-4">+</tspan><tspan dy="4"> Neuron</tspan></text>
</g>
<circle cx="549.9" cy="1960" r="27.6" fill="#ffffff" stroke="#f0a33a" stroke-width="1.8" stroke-dasharray="5,3"/>
<circle cx="542.0" cy="1942.0" r="7.6" fill="#d9b040" stroke="#2a3146" stroke-width="1.00"/><circle cx="542.9" cy="1942.5" r="6.4" fill="#1e2b55"/><circle cx="542.9" cy="1942.5" r="5.0" fill="#f6f0bf" stroke="#8fa0c0" stroke-width="0.50"/><circle cx="541.0" cy="1940.5" r="1.25" fill="#f0d66a" stroke="#3a4160" stroke-width="0.45"/><circle cx="544.8" cy="1940.5" r="1.25" fill="#f0d66a" stroke="#3a4160" stroke-width="0.45"/><circle cx="540.3" cy="1943.3" r="1.25" fill="#f0d66a" stroke="#3a4160" stroke-width="0.45"/><circle cx="545.5" cy="1943.3" r="1.25" fill="#f0d66a" stroke="#3a4160" stroke-width="0.45"/><circle cx="542.9" cy="1945.5" r="1.25" fill="#f0d66a" stroke="#3a4160" stroke-width="0.45"/><circle cx="542.9" cy="1942.3" r="1.25" fill="#f0d66a" stroke="#3a4160" stroke-width="0.45"/>
<circle cx="561.0" cy="1943.8" r="7.6" fill="#d9b040" stroke="#2a3146" stroke-width="1.00"/><circle cx="561.9" cy="1944.3" r="6.4" fill="#1e2b55"/><circle cx="561.9" cy="1944.3" r="5.0" fill="#f6f0bf" stroke="#8fa0c0" stroke-width="0.50"/><circle cx="560.0" cy="1942.3" r="1.25" fill="#f0d66a" stroke="#3a4160" stroke-width="0.45"/><circle cx="563.8" cy="1942.3" r="1.25" fill="#f0d66a" stroke="#3a4160" stroke-width="0.45"/><circle cx="559.3" cy="1945.1" r="1.25" fill="#f0d66a" stroke="#3a4160" stroke-width="0.45"/><circle cx="564.5" cy="1945.1" r="1.25" fill="#f0d66a" stroke="#3a4160" stroke-width="0.45"/><circle cx="561.9" cy="1947.3" r="1.25" fill="#f0d66a" stroke="#3a4160" stroke-width="0.45"/><circle cx="561.9" cy="1944.1" r="1.25" fill="#f0d66a" stroke="#3a4160" stroke-width="0.45"/>
<circle cx="529.2" cy="1960.0" r="7.6" fill="#d9b040" stroke="#2a3146" stroke-width="1.00"/><circle cx="530.1" cy="1960.5" r="6.4" fill="#1e2b55"/><circle cx="530.1" cy="1960.5" r="5.0" fill="#f6f0bf" stroke="#8fa0c0" stroke-width="0.50"/><circle cx="528.2" cy="1958.5" r="1.25" fill="#f0d66a" stroke="#3a4160" stroke-width="0.45"/><circle cx="532.0" cy="1958.5" r="1.25" fill="#f0d66a" stroke="#3a4160" stroke-width="0.45"/><circle cx="527.5" cy="1961.3" r="1.25" fill="#f0d66a" stroke="#3a4160" stroke-width="0.45"/><circle cx="532.7" cy="1961.3" r="1.25" fill="#f0d66a" stroke="#3a4160" stroke-width="0.45"/><circle cx="530.1" cy="1963.5" r="1.25" fill="#f0d66a" stroke="#3a4160" stroke-width="0.45"/><circle cx="530.1" cy="1960.3" r="1.25" fill="#f0d66a" stroke="#3a4160" stroke-width="0.45"/>
<circle cx="550.6" cy="1958.7" r="7.6" fill="#d9b040" stroke="#2a3146" stroke-width="1.00"/><circle cx="551.5" cy="1959.2" r="6.4" fill="#1e2b55"/><circle cx="551.5" cy="1959.2" r="5.0" fill="#f6f0bf" stroke="#8fa0c0" stroke-width="0.50"/><circle cx="549.6" cy="1957.2" r="1.25" fill="#f0d66a" stroke="#3a4160" stroke-width="0.45"/><circle cx="553.4" cy="1957.2" r="1.25" fill="#f0d66a" stroke="#3a4160" stroke-width="0.45"/><circle cx="548.9" cy="1960.0" r="1.25" fill="#f0d66a" stroke="#3a4160" stroke-width="0.45"/><circle cx="554.1" cy="1960.0" r="1.25" fill="#f0d66a" stroke="#3a4160" stroke-width="0.45"/><circle cx="551.5" cy="1962.2" r="1.25" fill="#f0d66a" stroke="#3a4160" stroke-width="0.45"/><circle cx="551.5" cy="1959.0" r="1.25" fill="#f0d66a" stroke="#3a4160" stroke-width="0.45"/>
<circle cx="567.8" cy="1960.0" r="7.6" fill="#d9b040" stroke="#2a3146" stroke-width="1.00"/><circle cx="568.7" cy="1960.5" r="6.4" fill="#1e2b55"/><circle cx="568.7" cy="1960.5" r="5.0" fill="#f6f0bf" stroke="#8fa0c0" stroke-width="0.50"/><circle cx="566.8" cy="1958.5" r="1.25" fill="#f0d66a" stroke="#3a4160" stroke-width="0.45"/><circle cx="570.6" cy="1958.5" r="1.25" fill="#f0d66a" stroke="#3a4160" stroke-width="0.45"/><circle cx="566.1" cy="1961.3" r="1.25" fill="#f0d66a" stroke="#3a4160" stroke-width="0.45"/><circle cx="571.3" cy="1961.3" r="1.25" fill="#f0d66a" stroke="#3a4160" stroke-width="0.45"/><circle cx="568.7" cy="1963.5" r="1.25" fill="#f0d66a" stroke="#3a4160" stroke-width="0.45"/><circle cx="568.7" cy="1960.3" r="1.25" fill="#f0d66a" stroke="#3a4160" stroke-width="0.45"/>
<circle cx="543.0" cy="1976.6" r="7.6" fill="#d9b040" stroke="#2a3146" stroke-width="1.00"/><circle cx="543.9" cy="1977.1" r="6.4" fill="#1e2b55"/><circle cx="543.9" cy="1977.1" r="5.0" fill="#f6f0bf" stroke="#8fa0c0" stroke-width="0.50"/><circle cx="542.0" cy="1975.1" r="1.25" fill="#f0d66a" stroke="#3a4160" stroke-width="0.45"/><circle cx="545.8" cy="1975.1" r="1.25" fill="#f0d66a" stroke="#3a4160" stroke-width="0.45"/><circle cx="541.3" cy="1977.9" r="1.25" fill="#f0d66a" stroke="#3a4160" stroke-width="0.45"/><circle cx="546.5" cy="1977.9" r="1.25" fill="#f0d66a" stroke="#3a4160" stroke-width="0.45"/><circle cx="543.9" cy="1980.1" r="1.25" fill="#f0d66a" stroke="#3a4160" stroke-width="0.45"/><circle cx="543.9" cy="1976.9" r="1.25" fill="#f0d66a" stroke="#3a4160" stroke-width="0.45"/>
<circle cx="1055.4" cy="1960" r="27.6" fill="#ffffff" stroke="#f0a33a" stroke-width="1.8" stroke-dasharray="5,3"/>
<circle cx="1048.5" cy="1942.8" r="7.6" fill="#d9b040" stroke="#2a3146" stroke-width="1.00"/><circle cx="1049.4" cy="1943.3" r="6.4" fill="#1e2b55"/><circle cx="1049.4" cy="1943.3" r="5.0" fill="#f6f0bf" stroke="#8fa0c0" stroke-width="0.50"/><circle cx="1047.5" cy="1941.3" r="1.25" fill="#f0d66a" stroke="#3a4160" stroke-width="0.45"/><circle cx="1051.3" cy="1941.3" r="1.25" fill="#f0d66a" stroke="#3a4160" stroke-width="0.45"/><circle cx="1046.8" cy="1944.1" r="1.25" fill="#f0d66a" stroke="#3a4160" stroke-width="0.45"/><circle cx="1052.0" cy="1944.1" r="1.25" fill="#f0d66a" stroke="#3a4160" stroke-width="0.45"/><circle cx="1049.4" cy="1946.3" r="1.25" fill="#f0d66a" stroke="#3a4160" stroke-width="0.45"/><circle cx="1049.4" cy="1943.1" r="1.25" fill="#f0d66a" stroke="#3a4160" stroke-width="0.45"/>
<circle cx="1068.2" cy="1945.6" r="7.6" fill="#d9b040" stroke="#2a3146" stroke-width="1.00"/><circle cx="1069.1" cy="1946.1" r="6.4" fill="#1e2b55"/><circle cx="1069.1" cy="1946.1" r="5.0" fill="#f6f0bf" stroke="#8fa0c0" stroke-width="0.50"/><circle cx="1067.2" cy="1944.1" r="1.25" fill="#f0d66a" stroke="#3a4160" stroke-width="0.45"/><circle cx="1071.0" cy="1944.1" r="1.25" fill="#f0d66a" stroke="#3a4160" stroke-width="0.45"/><circle cx="1066.5" cy="1946.9" r="1.25" fill="#f0d66a" stroke="#3a4160" stroke-width="0.45"/><circle cx="1071.7" cy="1946.9" r="1.25" fill="#f0d66a" stroke="#3a4160" stroke-width="0.45"/><circle cx="1069.1" cy="1949.1" r="1.25" fill="#f0d66a" stroke="#3a4160" stroke-width="0.45"/><circle cx="1069.1" cy="1945.9" r="1.25" fill="#f0d66a" stroke="#3a4160" stroke-width="0.45"/>
<circle cx="1035.7" cy="1961.8" r="7.6" fill="#d9b040" stroke="#2a3146" stroke-width="1.00"/><circle cx="1036.6" cy="1962.3" r="6.4" fill="#1e2b55"/><circle cx="1036.6" cy="1962.3" r="5.0" fill="#f6f0bf" stroke="#8fa0c0" stroke-width="0.50"/><circle cx="1034.7" cy="1960.3" r="1.25" fill="#f0d66a" stroke="#3a4160" stroke-width="0.45"/><circle cx="1038.5" cy="1960.3" r="1.25" fill="#f0d66a" stroke="#3a4160" stroke-width="0.45"/><circle cx="1034.0" cy="1963.1" r="1.25" fill="#f0d66a" stroke="#3a4160" stroke-width="0.45"/><circle cx="1039.2" cy="1963.1" r="1.25" fill="#f0d66a" stroke="#3a4160" stroke-width="0.45"/><circle cx="1036.6" cy="1965.3" r="1.25" fill="#f0d66a" stroke="#3a4160" stroke-width="0.45"/><circle cx="1036.6" cy="1962.1" r="1.25" fill="#f0d66a" stroke="#3a4160" stroke-width="0.45"/>
<circle cx="1076.0" cy="1961.8" r="7.6" fill="#d9b040" stroke="#2a3146" stroke-width="1.00"/><circle cx="1076.9" cy="1962.3" r="6.4" fill="#1e2b55"/><circle cx="1076.9" cy="1962.3" r="5.0" fill="#f6f0bf" stroke="#8fa0c0" stroke-width="0.50"/><circle cx="1075.0" cy="1960.3" r="1.25" fill="#f0d66a" stroke="#3a4160" stroke-width="0.45"/><circle cx="1078.8" cy="1960.3" r="1.25" fill="#f0d66a" stroke="#3a4160" stroke-width="0.45"/><circle cx="1074.3" cy="1963.1" r="1.25" fill="#f0d66a" stroke="#3a4160" stroke-width="0.45"/><circle cx="1079.5" cy="1963.1" r="1.25" fill="#f0d66a" stroke="#3a4160" stroke-width="0.45"/><circle cx="1076.9" cy="1965.3" r="1.25" fill="#f0d66a" stroke="#3a4160" stroke-width="0.45"/><circle cx="1076.9" cy="1962.1" r="1.25" fill="#f0d66a" stroke="#3a4160" stroke-width="0.45"/>
<path d="M640.3,1990 C644,1972 632,1956 590,1953.5" fill="none" stroke="#000" stroke-width="2"/>
<path d="M583.3,1953.2 L600.3,1946.2 L596.0,1953.2 L600.3,1960.2Z" fill="#000"/>
<path d="M1148.6,1990 C1152,1972 1140,1957 1096,1954.5" fill="none" stroke="#000" stroke-width="2"/>
<path d="M1089.9,1954.2 L1106.9,1947.2 L1102.7,1954.2 L1106.9,1961.2Z" fill="#000"/>
<text x="487.8" y="1962" font-size="16" fill="#111" style="font-family:'Liberation Sans',sans-serif;font-weight:bold">Glu</text>
<path d="M481.5,1963 L481.5,1950" stroke="#111" stroke-width="1.6"/><path d="M478.3,1951 L481.5,1945 L484.7,1951Z" fill="#111"/>
<text x="994.3" y="1960" font-size="16" fill="#111" style="font-family:'Liberation Sans',sans-serif;font-weight:bold">Glu</text>
<path d="M988,1944 L988,1957" stroke="#f20c0c" stroke-width="1.6"/><path d="M984.8,1956 L988,1962 L991.2,1956Z" fill="#f20c0c"/>
<text x="297" y="2006" font-size="16" fill="#111" style="font-family:'Liberation Sans',sans-serif;font-weight:bold">PNN depositon</text>
<text x="837" y="1972" font-size="16" letter-spacing="0.15" fill="#f20c0c" style="font-family:'Liberation Sans',sans-serif;font-weight:bold">PNN degradation</text>
<path d="M685,2178 C688,2168 700,2167 715,2167 C725,2166 733,2164 735,2170 C737,2178 735,2183 728,2182 C715,2180 700,2181 690,2183 C686,2184 684,2181 685,2178Z" fill="url(#pnnleg)"/>
<text x="747.6" y="2181.7" font-size="16.5" letter-spacing="0.6" fill="#231815" style="font-family:'Liberation Sans',sans-serif;font-weight:bold">PNN</text>
<path d="M699,2199 C704,2196 716,2197 720,2199 C722,2203 721,2207 720,2209 C713,2208 704,2209 699,2208 C697,2204 697,2201 699,2199Z" fill="#3cade2"/>
<text x="747.6" y="2208.8" font-size="16.5" letter-spacing="0.6" fill="#231815" style="font-family:'Liberation Sans',sans-serif;font-weight:bold">HFD</text>
<circle cx="709.7" cy="2234.3" r="11.5" fill="#d9b040" stroke="#2a3146" stroke-width="1.51"/><circle cx="711.1" cy="2235.1" r="9.7" fill="#1e2b55"/><circle cx="711.1" cy="2235.1" r="7.6" fill="#f6f0bf" stroke="#8fa0c0" stroke-width="0.76"/><circle cx="708.2" cy="2232.0" r="1.89" fill="#f0d66a" stroke="#3a4160" stroke-width="0.68"/><circle cx="713.9" cy="2232.0" r="1.89" fill="#f0d66a" stroke="#3a4160" stroke-width="0.68"/><circle cx="707.1" cy="2236.3" r="1.89" fill="#f0d66a" stroke="#3a4160" stroke-width="0.68"/><circle cx="715.0" cy="2236.3" r="1.89" fill="#f0d66a" stroke="#3a4160" stroke-width="0.68"/><circle cx="711.1" cy="2239.6" r="1.89" fill="#f0d66a" stroke="#3a4160" stroke-width="0.68"/><circle cx="711.1" cy="2234.8" r="1.89" fill="#f0d66a" stroke="#3a4160" stroke-width="0.68"/>
<text x="751.3" y="2240.5" font-size="16.5" letter-spacing="0.6" fill="#231815" style="font-family:'Liberation Sans',sans-serif;font-weight:bold">Glu</text>
<rect x="364.2" y="2352.5" width="24.8" height="13.1" rx="3.5" fill="#3cade2" transform="rotate(3 376.6 2359.1)"/>
<rect x="393.6" y="2358.7" width="24.8" height="13.8" rx="3.5" fill="#3cade2" transform="rotate(4 406.0 2365.6)"/>
<rect x="340.8" y="2371.5" width="24.2" height="13.1" rx="3.5" fill="#3cade2" transform="rotate(4 352.9 2378.1)"/>
<rect x="372.8" y="2374.2" width="24.2" height="13.8" rx="3.5" fill="#3cade2" transform="rotate(5 384.9 2381.1)"/>
<rect x="349.7" y="2394.2" width="24.9" height="13.5" rx="3.5" fill="#3cade2" transform="rotate(4 362.1 2400.9)"/>
<rect x="379.0" y="2400.8" width="25" height="13.4" rx="3.5" fill="#3cade2" transform="rotate(3 391.5 2407.5)"/>
<rect x="872.7" y="2351.8" width="24.8" height="13.1" rx="3.5" fill="#3cade2" transform="rotate(3 885.1 2358.4)"/>
<rect x="902.1" y="2358.0" width="24.8" height="13.8" rx="3.5" fill="#3cade2" transform="rotate(4 914.5 2364.9)"/>
<rect x="849.3" y="2370.8" width="24.2" height="13.1" rx="3.5" fill="#3cade2" transform="rotate(4 861.4 2377.4)"/>
<rect x="881.3" y="2373.5" width="24.2" height="13.8" rx="3.5" fill="#3cade2" transform="rotate(5 893.4 2380.4)"/>
<rect x="858.2" y="2393.5" width="24.9" height="13.5" rx="3.5" fill="#3cade2" transform="rotate(4 870.7 2400.2)"/>
<rect x="887.5" y="2400.1" width="25" height="13.4" rx="3.5" fill="#3cade2" transform="rotate(3 900.0 2406.8)"/>
<g transform="translate(0,3) translate(530,2360) scale(1.04) translate(-530,-2360)">
<path d="M582,2372 C600,2390 625,2392 630,2376 C634,2364 622,2356 614,2350" fill="none" stroke="#333" stroke-width="4.2" stroke-linecap="round"/>
<path d="M582,2372 C600,2390 625,2392 630,2376 C634,2364 622,2356 614,2350" fill="none" stroke="#d8d8d8" stroke-width="2.6" stroke-linecap="round"/>
<path d="M468,2370 C474,2352 484,2342 497,2336 C510,2331 520,2336 528,2333 C555,2325 585,2338 590,2360 C593,2378 580,2386 560,2386 L520,2387 C505,2386 495,2380 487,2376 C478,2374 471,2374 468,2370Z" fill="url(#mouseg)" stroke="#222" stroke-width="1"/>
<path d="M494,2338 C492,2330 500,2326 508,2330 C514,2333 514,2340 510,2342" fill="#e6e6e6" stroke="#222" stroke-width="1"/>
<circle cx="488" cy="2353" r="2.2" fill="#fff" stroke="#111" stroke-width="1.2"/>
<path d="M470,2362 L458,2358 M470,2364 L457,2366 M471,2360 L463,2350 M470,2366 L462,2372" stroke="#333" stroke-width="0.8"/>
<path d="M500,2376 L494,2386 L503,2386 M516,2381 L508,2390 L516,2391 M540,2379 L535,2388 L546,2388 M552,2377 L548,2386 L558,2385" fill="#ddd" stroke="#222" stroke-width="1"/>
<path d="M478,2370 C488,2366 494,2372 500,2376" fill="none" stroke="#222" stroke-width="1"/>
</g>
<g transform="translate(503,2.5) translate(530,2360) scale(1.04) translate(-530,-2360)">
<path d="M582,2372 C600,2390 625,2392 630,2376 C634,2364 622,2356 614,2350" fill="none" stroke="#333" stroke-width="4.2" stroke-linecap="round"/>
<path d="M582,2372 C600,2390 625,2392 630,2376 C634,2364 622,2356 614,2350" fill="none" stroke="#d8d8d8" stroke-width="2.6" stroke-linecap="round"/>
<path d="M468,2370 C474,2352 484,2342 497,2336 C510,2331 520,2336 528,2333 C555,2325 585,2338 590,2360 C593,2378 580,2386 560,2386 L520,2387 C505,2386 495,2380 487,2376 C478,2374 471,2374 468,2370Z" fill="url(#mouseg)" stroke="#222" stroke-width="1"/>
<path d="M494,2338 C492,2330 500,2326 508,2330 C514,2333 514,2340 510,2342" fill="#e6e6e6" stroke="#222" stroke-width="1"/>
<circle cx="488" cy="2353" r="2.2" fill="#fff" stroke="#111" stroke-width="1.2"/>
<path d="M470,2362 L458,2358 M470,2364 L457,2366 M471,2360 L463,2350 M470,2366 L462,2372" stroke="#333" stroke-width="0.8"/>
<path d="M500,2376 L494,2386 L503,2386 M516,2381 L508,2390 L516,2391 M540,2379 L535,2388 L546,2388 M552,2377 L548,2386 L558,2385" fill="#ddd" stroke="#222" stroke-width="1"/>
<path d="M478,2370 C488,2366 494,2372 500,2376" fill="none" stroke="#222" stroke-width="1"/>
</g>
<path d="M243.5,2256 L486.7,2343.6 M734,2256 L495.9,2343.6 M750.8,2256 L991.7,2343.3 M1240.6,2256 L995.2,2343.3" fill="none" stroke="#000" stroke-width="2.2"/>
<path d="M490.3,2400.4 C484,2440 500,2470 542,2476.5" fill="none" stroke="#000" stroke-width="2"/>
<path d="M554.5,2477.4 L536.7,2482.0 L541.9,2475.6 L538.6,2468.1Z" fill="#000"/>
<path d="M991.7,2404 C998,2450 972,2478 942,2480.5" fill="none" stroke="#f20c0c" stroke-width="2"/>
<path d="M928.5,2481.5 L945.0,2473.3 L941.2,2480.6 L945.9,2487.3Z" fill="#f20c0c"/>
<path d="M922.5,2469 L932.5,2494" stroke="#f20c0c" stroke-width="2"/>
<text x="595" y="2485.5" font-size="22.5" letter-spacing="0.95" fill="#111" style="font-family:'Liberation Sans',sans-serif;font-weight:bold">Depression-like behavior</text>
<text x="1061.5" y="2448.3" font-size="23" fill="#f20c0c" style="font-family:'Liberation Sans',sans-serif;font-weight:bold">1-MT</text>
<g transform="translate(1030,2418) rotate(-58)"><line x1="25" y1="0" x2="62" y2="0" stroke="#111" stroke-width="1.3"/><rect x="-25" y="-7" width="50" height="14" fill="#fff" stroke="#111" stroke-width="2"/><path d="M-18,-7 L-18,-1 M-10,-7 L-10,-1 M-2,-7 L-2,-1 M6,-7 L6,-1 M14,-7 L14,-1" stroke="#111" stroke-width="1.3"/><line x1="-25" y1="0" x2="-38" y2="0" stroke="#111" stroke-width="2"/><line x1="-38" y1="-7" x2="-38" y2="7" stroke="#111" stroke-width="2"/></g>
</svg>
</body></html>
